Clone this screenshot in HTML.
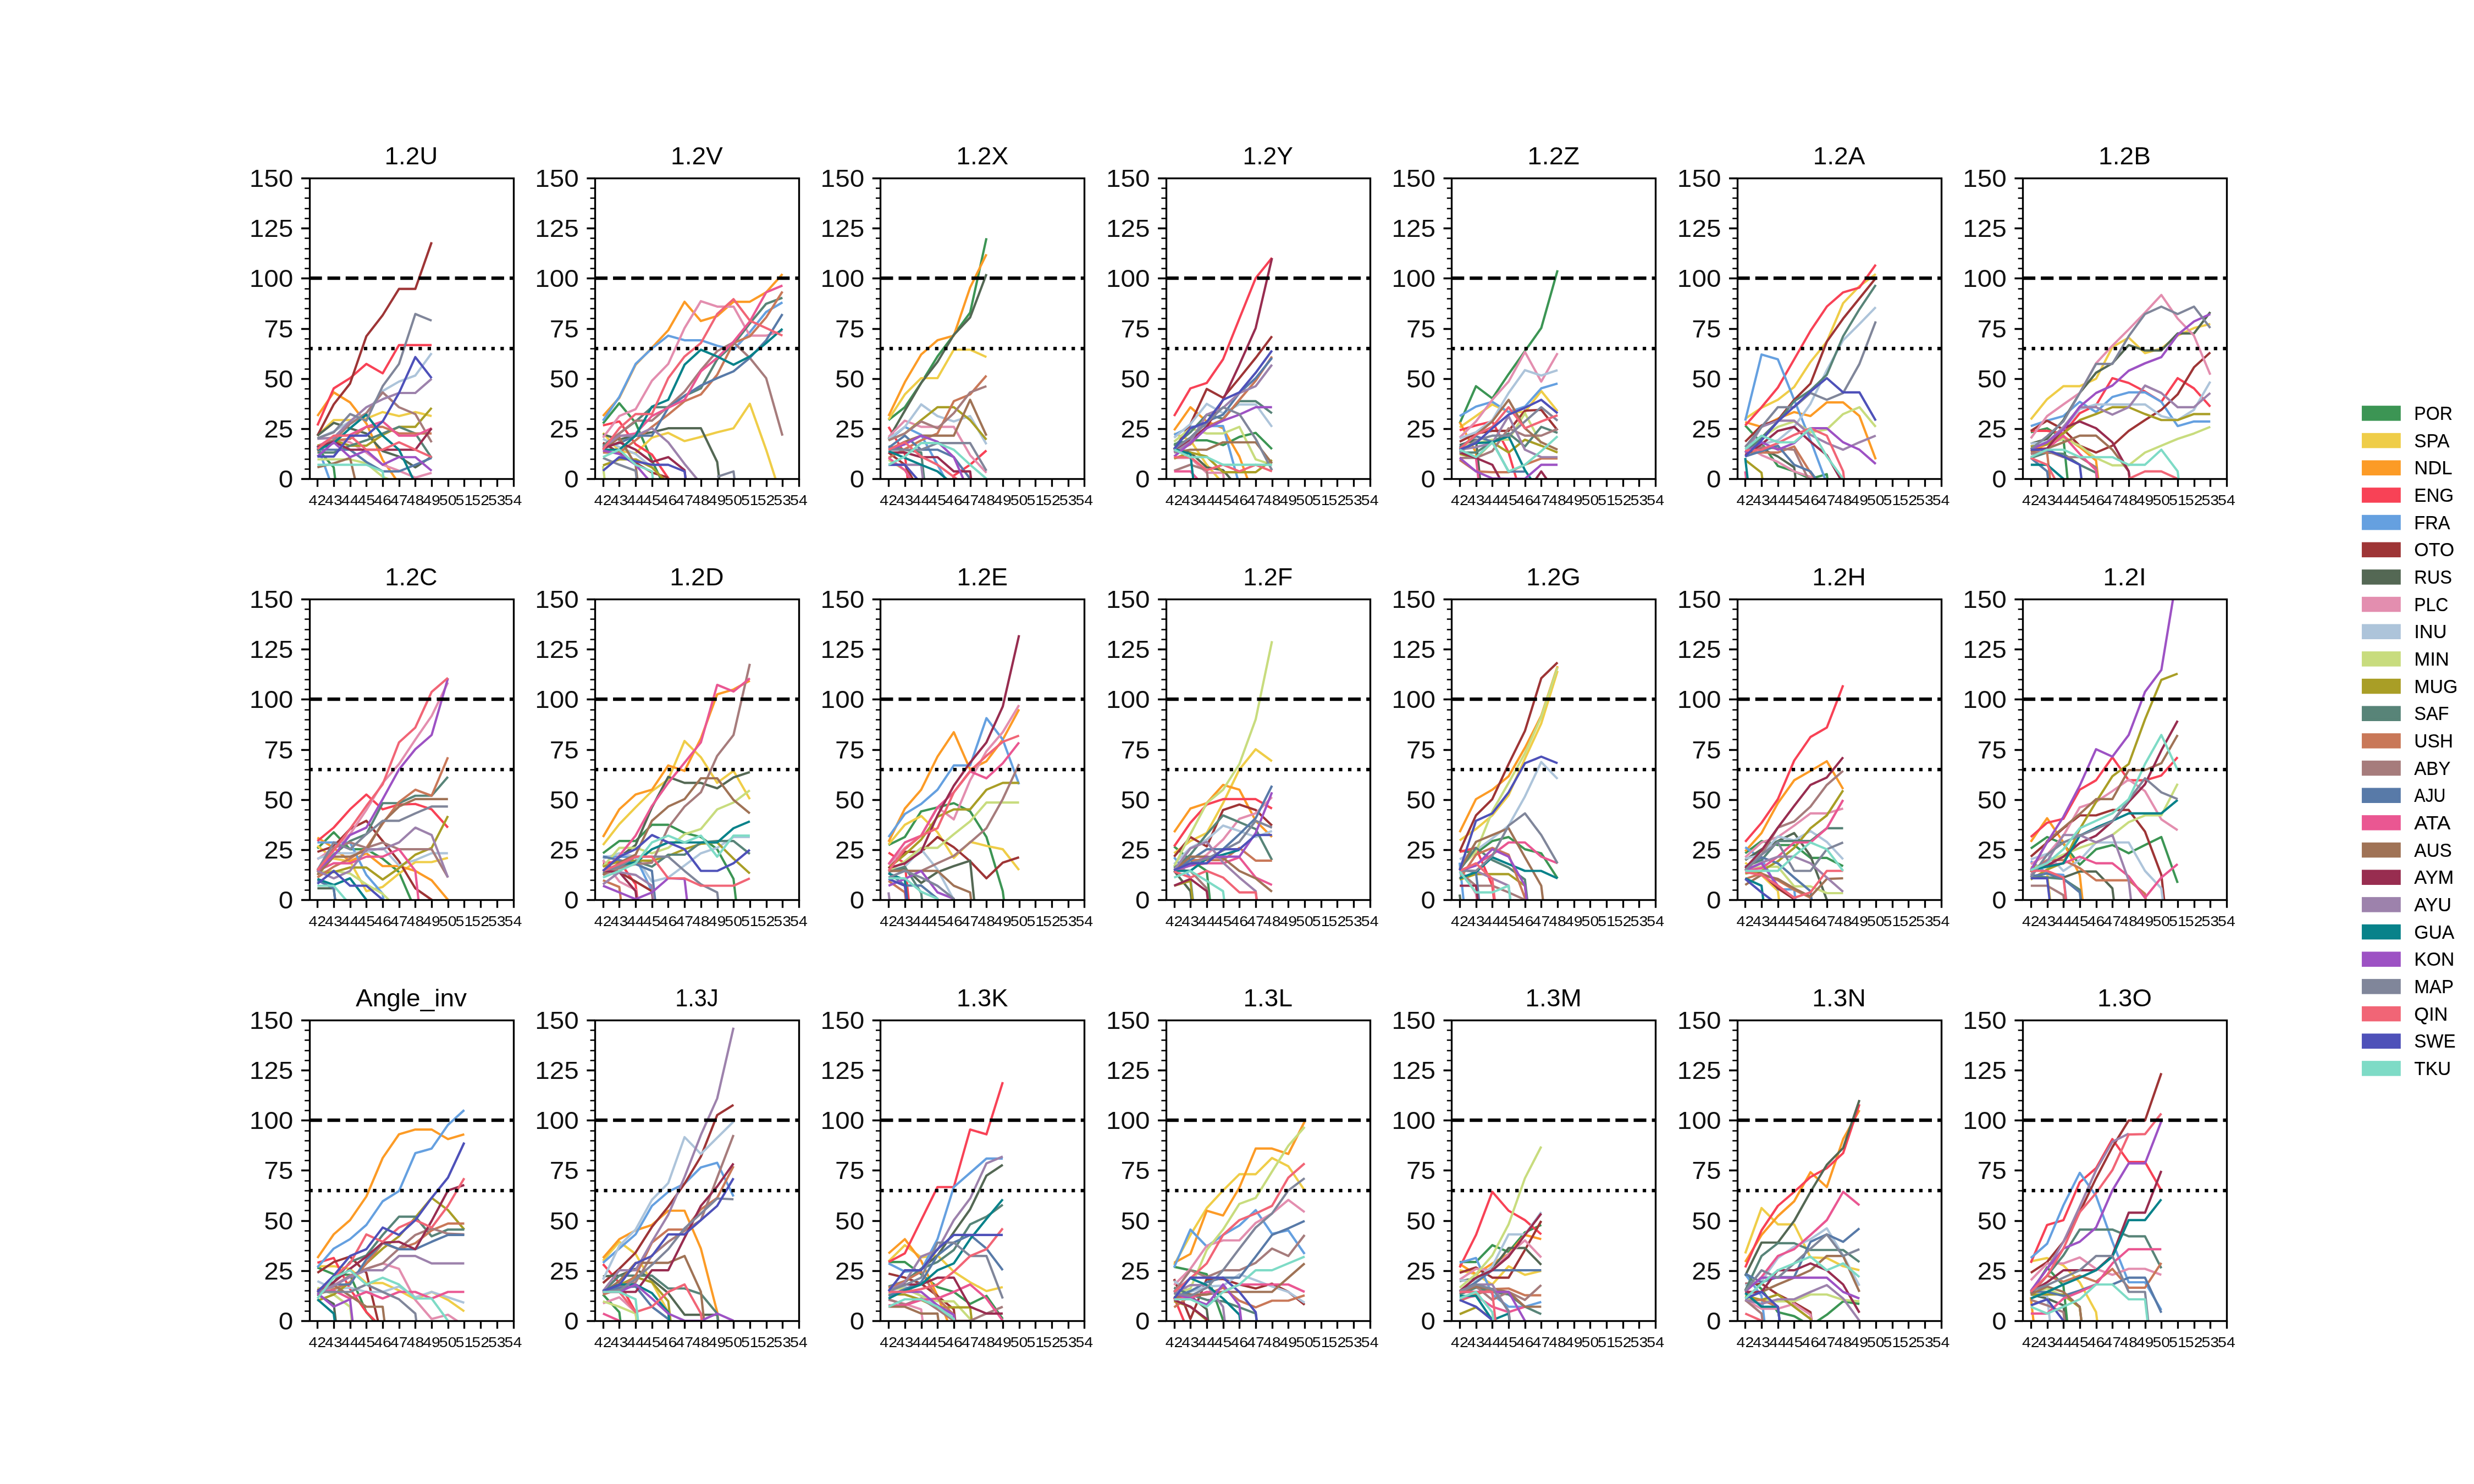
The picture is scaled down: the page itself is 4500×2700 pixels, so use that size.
<!DOCTYPE html><html><head><meta charset="utf-8"><style>html,body{margin:0;padding:0;background:#fff;overflow:hidden}svg{display:block}text{font-family:"Liberation Sans",sans-serif;fill:#000}.yl{fill:#111}.xl{fill:#0b0b0b}.tt{fill:#060606}.lg{stroke:#000;stroke-width:0.2px}</style></head><body>
<svg style="will-change:transform" width="4500" height="2700" viewBox="0 0 4500 2700">
<rect width="4500" height="2700" fill="#fff"/>
<defs><clipPath id="c0"><rect x="562.5" y="324" width="371.01" height="547.11"/></clipPath><clipPath id="c1"><rect x="1081.91" y="324" width="371.01" height="547.11"/></clipPath><clipPath id="c2"><rect x="1601.33" y="324" width="371.01" height="547.11"/></clipPath><clipPath id="c3"><rect x="2120.74" y="324" width="371.01" height="547.11"/></clipPath><clipPath id="c4"><rect x="2640.16" y="324" width="371.01" height="547.11"/></clipPath><clipPath id="c5"><rect x="3159.57" y="324" width="371.01" height="547.11"/></clipPath><clipPath id="c6"><rect x="3678.99" y="324" width="371.01" height="547.11"/></clipPath><clipPath id="c7"><rect x="562.5" y="1089.95" width="371.01" height="547.11"/></clipPath><clipPath id="c8"><rect x="1081.91" y="1089.95" width="371.01" height="547.11"/></clipPath><clipPath id="c9"><rect x="1601.33" y="1089.95" width="371.01" height="547.11"/></clipPath><clipPath id="c10"><rect x="2120.74" y="1089.95" width="371.01" height="547.11"/></clipPath><clipPath id="c11"><rect x="2640.16" y="1089.95" width="371.01" height="547.11"/></clipPath><clipPath id="c12"><rect x="3159.57" y="1089.95" width="371.01" height="547.11"/></clipPath><clipPath id="c13"><rect x="3678.99" y="1089.95" width="371.01" height="547.11"/></clipPath><clipPath id="c14"><rect x="562.5" y="1855.89" width="371.01" height="547.11"/></clipPath><clipPath id="c15"><rect x="1081.91" y="1855.89" width="371.01" height="547.11"/></clipPath><clipPath id="c16"><rect x="1601.33" y="1855.89" width="371.01" height="547.11"/></clipPath><clipPath id="c17"><rect x="2120.74" y="1855.89" width="371.01" height="547.11"/></clipPath><clipPath id="c18"><rect x="2640.16" y="1855.89" width="371.01" height="547.11"/></clipPath><clipPath id="c19"><rect x="3159.57" y="1855.89" width="371.01" height="547.11"/></clipPath><clipPath id="c20"><rect x="3678.99" y="1855.89" width="371.01" height="547.11"/></clipPath></defs>
<g clip-path="url(#c0)" fill="none" stroke-width="4.17" stroke-linejoin="round" stroke-linecap="butt">
<path d="M577.34 816.03 L607.02 850.32 L636.7 1089.95" stroke="#3C9554"/>
<path d="M577.34 792.69 L607.02 764.24 L636.7 764.24 L666.38 761.68 L696.06 749.65 L725.74 756.94 L755.43 749.65 L785.11 756.94" stroke="#EFCD48"/>
<path d="M577.34 756.94 L607.02 713.9 L636.7 732.14 L666.38 770.44 L696.06 836.82 L725.74 879.86 L755.43 879.86 L785.11 879.86" stroke="#FC9B26"/>
<path d="M577.34 774.09 L607.02 706.61 L636.7 688.01 L666.38 662.11 L696.06 679.25 L725.74 627.83 L755.43 627.83 L785.11 627.83" stroke="#F84256"/>
<path d="M577.34 810.92 L607.02 893.35" stroke="#65A0E0"/>
<path d="M577.34 792.69 L607.02 735.79 L636.7 697.86 L666.38 611.78 L696.06 573.48 L725.74 525.7 L755.43 525.7 L785.11 440.72" stroke="#9E3536"/>
<path d="M577.34 792.69 L607.02 769.34 L636.7 779.19 L666.38 788.67 L696.06 820.77 L725.74 830.62 L755.43 850.32 L785.11 830.62" stroke="#546854"/>
<path d="M577.34 797.43 L607.02 797.43 L636.7 804.72 L666.38 823.32 L696.06 845.57 L725.74 856.52 L755.43 868.92 L785.11 860.16" stroke="#E38EAF"/>
<path d="M577.34 797.43 L607.02 785.03 L636.7 766.79 L666.38 751.84 L696.06 711.35 L725.74 694.21 L755.43 683.27 L785.11 642.42" stroke="#ADC4DA"/>
<path d="M577.34 835.73 L607.02 835.73 L636.7 835.73 L666.38 843.02 L696.06 867.46 L725.74 879.86" stroke="#C8DC7E"/>
<path d="M577.34 810.92 L607.02 801.08 L636.7 810.92 L666.38 810.92 L696.06 791.23 L725.74 776.64 L755.43 776.64 L785.11 741.99" stroke="#A99E26"/>
<path d="M577.34 823.32 L607.02 823.32 L636.7 810.92 L666.38 801.08 L696.06 788.67 L725.74 776.64 L755.43 788.67 L785.11 833.17" stroke="#588478"/>
<path d="M577.34 820.77 L607.02 801.08 L636.7 798.52 L666.38 776.64 L696.06 776.64 L725.74 788.67 L755.43 788.67 L785.11 788.67" stroke="#C97858"/>
<path d="M577.34 813.48 L607.02 801.08 L636.7 771.53 L666.38 751.84 L696.06 713.9 L725.74 740.89 L755.43 753.3 L785.11 804.72" stroke="#A67C7C"/>
<path d="M577.34 818.22 L607.02 818.22 L636.7 818.22 L666.38 840.47 L696.06 857.61 L725.74 857.61 L755.43 845.57 L785.11 833.17" stroke="#587AA8"/>
<path d="M577.34 813.48 L607.02 793.78 L636.7 791.23 L666.38 776.64 L696.06 766.79 L725.74 792.69 L755.43 792.69 L785.11 779.19" stroke="#EA5792"/>
<path d="M577.34 850.32 L607.02 843.02 L636.7 833.17 L666.38 959.37" stroke="#A07356"/>
<path d="M577.34 813.48 L607.02 803.63 L636.7 818.22 L666.38 818.22 L696.06 818.22 L725.74 818.22 L755.43 818.22 L785.11 779.19" stroke="#982D50"/>
<path d="M577.34 798.52 L607.02 796.33 L636.7 766.79 L666.38 740.89 L696.06 726.3 L725.74 715 L755.43 715 L785.11 689.1" stroke="#9D82AC"/>
<path d="M577.34 818.22 L607.02 806.18 L636.7 779.19 L666.38 754.39 L696.06 792.69 L725.74 818.22 L755.43 879.86 L785.11 879.86" stroke="#08828A"/>
<path d="M577.34 830.62 L607.02 804.72 L636.7 831.71 L666.38 819.68 L696.06 845.57 L725.74 831.71 L755.43 831.71 L785.11 856.52" stroke="#9D52C4"/>
<path d="M577.34 797.43 L607.02 786.49 L636.7 753.3 L666.38 765.33 L696.06 702.6 L725.74 662.11 L755.43 571.29 L785.11 583.33" stroke="#80869A"/>
<path d="M577.34 817.12 L607.02 792.69 L636.7 792.69 L666.38 818.22 L696.06 818.22 L725.74 804.72 L755.43 818.22 L785.11 831.71" stroke="#F16576"/>
<path d="M577.34 830.62 L607.02 830.62 L636.7 792.69 L666.38 792.69 L696.06 766.79 L725.74 715 L755.43 649.71 L785.11 688.01" stroke="#4E51B9"/>
<path d="M577.34 845.57 L607.02 845.57 L636.7 845.57 L666.38 845.57 L696.06 857.61 L725.74 1089.95" stroke="#7EDBC6"/>
<path d="M562.5 506 H933.51" stroke="#000" stroke-width="6.25" stroke-dasharray="23.13 10"/>
<path d="M562.5 634 H933.51" stroke="#000" stroke-width="6.25" stroke-dasharray="6.25 10.31"/>
</g>
<rect x="563.5" y="324.5" width="371" height="547" fill="none" stroke="#000" stroke-width="3.33" stroke-linejoin="miter"/>
<path d="M547.92 871.5 H562.5 M547.92 780.5 H562.5 M547.92 689.5 H562.5 M547.92 598.5 H562.5 M547.92 506.5 H562.5 M547.92 415.5 H562.5 M547.92 324.5 H562.5" stroke="#000" stroke-width="3.33"/>
<path d="M554.17 853.5 H562.5 M554.17 835.5 H562.5 M554.17 816.5 H562.5 M554.17 798.5 H562.5 M554.17 762.5 H562.5 M554.17 743.5 H562.5 M554.17 725.5 H562.5 M554.17 707.5 H562.5 M554.17 671.5 H562.5 M554.17 652.5 H562.5 M554.17 634.5 H562.5 M554.17 616.5 H562.5 M554.17 579.5 H562.5 M554.17 561.5 H562.5 M554.17 543.5 H562.5 M554.17 525.5 H562.5 M554.17 488.5 H562.5 M554.17 470.5 H562.5 M554.17 452.5 H562.5 M554.17 433.5 H562.5 M554.17 397.5 H562.5 M554.17 379.5 H562.5 M554.17 360.5 H562.5 M554.17 342.5 H562.5" stroke="#000" stroke-width="2.5"/>
<path d="M577.5 871.11 V885.69 M607.5 871.11 V885.69 M637.5 871.11 V885.69 M666.5 871.11 V885.69 M696.5 871.11 V885.69 M726.5 871.11 V885.69 M755.5 871.11 V885.69 M785.5 871.11 V885.69 M815.5 871.11 V885.69 M844.5 871.11 V885.69 M874.5 871.11 V885.69 M904.5 871.11 V885.69 M934.5 871.11 V885.69" stroke="#000" stroke-width="3.33"/>
<text class="yl" x="533.33" y="887.11" font-size="44.15" text-anchor="end" textLength="26.51" lengthAdjust="spacingAndGlyphs">0</text>
<text class="yl" x="533.33" y="795.92" font-size="44.15" text-anchor="end" textLength="53.02" lengthAdjust="spacingAndGlyphs">25</text>
<text class="yl" x="533.33" y="704.74" font-size="44.15" text-anchor="end" textLength="53.02" lengthAdjust="spacingAndGlyphs">50</text>
<text class="yl" x="533.33" y="613.55" font-size="44.15" text-anchor="end" textLength="53.02" lengthAdjust="spacingAndGlyphs">75</text>
<text class="yl" x="533.33" y="522.37" font-size="44.15" text-anchor="end" textLength="79.53" lengthAdjust="spacingAndGlyphs">100</text>
<text class="yl" x="533.33" y="431.18" font-size="44.15" text-anchor="end" textLength="79.53" lengthAdjust="spacingAndGlyphs">125</text>
<text class="yl" x="533.33" y="340" font-size="44.15" text-anchor="end" textLength="79.53" lengthAdjust="spacingAndGlyphs">150</text>
<text class="xl" x="577.34" y="919.11" font-size="26.49" text-anchor="middle" textLength="31.81" lengthAdjust="spacingAndGlyphs">42</text>
<text class="xl" x="607.02" y="919.11" font-size="26.49" text-anchor="middle" textLength="31.81" lengthAdjust="spacingAndGlyphs">43</text>
<text class="xl" x="636.7" y="919.11" font-size="26.49" text-anchor="middle" textLength="31.81" lengthAdjust="spacingAndGlyphs">44</text>
<text class="xl" x="666.38" y="919.11" font-size="26.49" text-anchor="middle" textLength="31.81" lengthAdjust="spacingAndGlyphs">45</text>
<text class="xl" x="696.06" y="919.11" font-size="26.49" text-anchor="middle" textLength="31.81" lengthAdjust="spacingAndGlyphs">46</text>
<text class="xl" x="725.74" y="919.11" font-size="26.49" text-anchor="middle" textLength="31.81" lengthAdjust="spacingAndGlyphs">47</text>
<text class="xl" x="755.43" y="919.11" font-size="26.49" text-anchor="middle" textLength="31.81" lengthAdjust="spacingAndGlyphs">48</text>
<text class="xl" x="785.11" y="919.11" font-size="26.49" text-anchor="middle" textLength="31.81" lengthAdjust="spacingAndGlyphs">49</text>
<text class="xl" x="814.79" y="919.11" font-size="26.49" text-anchor="middle" textLength="31.81" lengthAdjust="spacingAndGlyphs">50</text>
<text class="xl" x="844.47" y="919.11" font-size="26.49" text-anchor="middle" textLength="31.81" lengthAdjust="spacingAndGlyphs">51</text>
<text class="xl" x="874.15" y="919.11" font-size="26.49" text-anchor="middle" textLength="31.81" lengthAdjust="spacingAndGlyphs">52</text>
<text class="xl" x="903.83" y="919.11" font-size="26.49" text-anchor="middle" textLength="31.81" lengthAdjust="spacingAndGlyphs">53</text>
<text class="xl" x="933.51" y="919.11" font-size="26.49" text-anchor="middle" textLength="31.81" lengthAdjust="spacingAndGlyphs">54</text>
<text class="tt" x="748.01" y="299" font-size="44.15" text-anchor="middle" textLength="96.76" lengthAdjust="spacingAndGlyphs">1.2U</text>
<g clip-path="url(#c1)" fill="none" stroke-width="4.17" stroke-linejoin="round" stroke-linecap="butt">
<path d="M1096.76 770.44 L1126.44 733.6 L1156.12 769.34 L1185.8 837.91 L1215.48 899.55" stroke="#3C9554"/>
<path d="M1096.76 787.58 L1126.44 820.77 L1156.12 824.42 L1185.8 796.33 L1215.48 787.58 L1245.16 802.53 L1274.84 794.88 L1304.52 786.49 L1334.2 779.19 L1363.88 734.69 L1393.56 818.22 L1423.24 910.5" stroke="#EFCD48"/>
<path d="M1096.76 756.94 L1126.44 723.75 L1156.12 663.57 L1185.8 632.57 L1215.48 600.84 L1245.16 549.04 L1274.84 584.06 L1304.52 574.94 L1334.2 549.04 L1363.88 549.04 L1393.56 531.9 L1423.24 498.71" stroke="#FC9B26"/>
<path d="M1096.76 774.09 L1126.44 766.79 L1156.12 808.37 L1185.8 826.97 L1215.48 870.01 L1245.16 899.55" stroke="#F84256"/>
<path d="M1096.76 765.33 L1126.44 722.29 L1156.12 662.11 L1185.8 634.03 L1215.48 610.68 L1245.16 619.07 L1274.84 619.07 L1304.52 628.92 L1334.2 636.21 L1363.88 604.48 L1393.56 567.64 L1423.24 550.14" stroke="#65A0E0"/>
<path d="M1096.76 805.45 L1126.44 823.69 L1156.12 841.93 L1185.8 859.8 L1215.48 868.92" stroke="#9E3536"/>
<path d="M1096.76 790.13 L1126.44 799.98 L1156.12 791.23 L1185.8 786.49 L1215.48 779.19 L1245.16 779.19 L1274.84 779.19 L1304.52 840.47 L1334.2 1089.95" stroke="#546854"/>
<path d="M1096.76 796.33 L1126.44 756.94 L1156.12 744.54 L1185.8 692.75 L1215.48 662.11 L1245.16 596.82 L1274.84 547.95 L1304.52 557.8 L1334.2 557.8 L1363.88 610.68 L1393.56 610.68 L1423.24 601.93" stroke="#E38EAF"/>
<path d="M1096.76 798.52 L1126.44 813.48 L1156.12 825.88 L1185.8 850.32 L1215.48 879.86" stroke="#ADC4DA"/>
<path d="M1096.76 847.76 L1126.44 1089.95" stroke="#C8DC7E"/>
<path d="M1096.76 846.67 L1126.44 835.73 L1156.12 835.73 L1185.8 850.32 L1215.48 879.86" stroke="#A99E26"/>
<path d="M1096.76 810.92 L1126.44 788.67 L1156.12 766.79 L1185.8 740.89 L1215.48 740.89 L1245.16 720.1 L1274.84 706.61 L1304.52 653.72 L1334.2 626.37 L1363.88 588.43 L1393.56 552.69 L1423.24 541.75" stroke="#588478"/>
<path d="M1096.76 823.32 L1126.44 823.32 L1156.12 801.08 L1185.8 776.64 L1215.48 754.39 L1245.16 729.95 L1274.84 717.55 L1304.52 681.81 L1334.2 624.18 L1363.88 611.78 L1393.56 577.49 L1423.24 530.44" stroke="#C97858"/>
<path d="M1096.76 813.48 L1126.44 788.67 L1156.12 765.33 L1185.8 765.33 L1215.48 739.8 L1245.16 712.44 L1274.84 673.42 L1304.52 638.77 L1334.2 622.72 L1363.88 651.17 L1393.56 688.01 L1423.24 792.69" stroke="#A67C7C"/>
<path d="M1096.76 813.48 L1126.44 806.18 L1156.12 792.69 L1185.8 792.69 L1215.48 741.99 L1245.16 720.1 L1274.84 701.5 L1304.52 688.01 L1334.2 675.61 L1363.88 651.17 L1393.56 619.07 L1423.24 571.29" stroke="#587AA8"/>
<path d="M1096.76 818.22 L1126.44 793.78 L1156.12 788.67 L1185.8 756.94 L1215.48 741.99 L1245.16 727.4 L1274.84 675.61 L1304.52 651.17 L1334.2 621.63 L1363.88 584.79 L1393.56 531.9 L1423.24 519.5" stroke="#EA5792"/>
<path d="M1096.76 818.22 L1126.44 796.33 L1156.12 845.57 L1185.8 1089.95" stroke="#A07356"/>
<path d="M1096.76 816.39 L1126.44 804.72 L1156.12 818.22 L1185.8 840.47 L1215.48 831.71 L1245.16 855.42 L1274.84 1089.95" stroke="#982D50"/>
<path d="M1096.76 814.57 L1126.44 792.69 L1156.12 792.69 L1185.8 779.19 L1215.48 804.72 L1245.16 844.11 L1274.84 879.86" stroke="#9D82AC"/>
<path d="M1096.76 818.22 L1126.44 818.22 L1156.12 792.69 L1185.8 739.8 L1215.48 727.4 L1245.16 663.57 L1274.84 636.21 L1304.52 648.62 L1334.2 663.57 L1363.88 648.62 L1393.56 624.18 L1423.24 598.28" stroke="#08828A"/>
<path d="M1096.76 819.68 L1126.44 825.88 L1156.12 845.57 L1185.8 879.86" stroke="#9D52C4"/>
<path d="M1096.76 833.17 L1126.44 845.57 L1156.12 856.52 L1185.8 1089.95" stroke="#80869A"/>
<path d="M1304.52 867.46 L1334.2 857.61 L1363.88 1089.95" stroke="#80869A"/>
<path d="M1096.76 818.22 L1126.44 779.19 L1156.12 753.3 L1185.8 753.3 L1215.48 688.01 L1245.16 648.62 L1274.84 624.18 L1304.52 571.29 L1334.2 544.3 L1363.88 583.33 L1393.56 596.82 L1423.24 610.68" stroke="#F16576"/>
<path d="M1096.76 856.52 L1126.44 831.71 L1156.12 839.37 L1185.8 845.57 L1215.48 845.57 L1245.16 857.61 L1274.84 1089.95" stroke="#4E51B9"/>
<path d="M1096.76 831.71 L1126.44 818.22 L1156.12 845.57 L1185.8 857.61 L1215.48 1089.95" stroke="#7EDBC6"/>
<path d="M1081.91 506 H1452.93" stroke="#000" stroke-width="6.25" stroke-dasharray="23.13 10"/>
<path d="M1081.91 634 H1452.93" stroke="#000" stroke-width="6.25" stroke-dasharray="6.25 10.31"/>
</g>
<rect x="1082.5" y="324.5" width="371" height="547" fill="none" stroke="#000" stroke-width="3.33" stroke-linejoin="miter"/>
<path d="M1067.33 871.5 H1081.91 M1067.33 780.5 H1081.91 M1067.33 689.5 H1081.91 M1067.33 598.5 H1081.91 M1067.33 506.5 H1081.91 M1067.33 415.5 H1081.91 M1067.33 324.5 H1081.91" stroke="#000" stroke-width="3.33"/>
<path d="M1073.58 853.5 H1081.91 M1073.58 835.5 H1081.91 M1073.58 816.5 H1081.91 M1073.58 798.5 H1081.91 M1073.58 762.5 H1081.91 M1073.58 743.5 H1081.91 M1073.58 725.5 H1081.91 M1073.58 707.5 H1081.91 M1073.58 671.5 H1081.91 M1073.58 652.5 H1081.91 M1073.58 634.5 H1081.91 M1073.58 616.5 H1081.91 M1073.58 579.5 H1081.91 M1073.58 561.5 H1081.91 M1073.58 543.5 H1081.91 M1073.58 525.5 H1081.91 M1073.58 488.5 H1081.91 M1073.58 470.5 H1081.91 M1073.58 452.5 H1081.91 M1073.58 433.5 H1081.91 M1073.58 397.5 H1081.91 M1073.58 379.5 H1081.91 M1073.58 360.5 H1081.91 M1073.58 342.5 H1081.91" stroke="#000" stroke-width="2.5"/>
<path d="M1097.5 871.11 V885.69 M1126.5 871.11 V885.69 M1156.5 871.11 V885.69 M1186.5 871.11 V885.69 M1215.5 871.11 V885.69 M1245.5 871.11 V885.69 M1275.5 871.11 V885.69 M1305.5 871.11 V885.69 M1334.5 871.11 V885.69 M1364.5 871.11 V885.69 M1394.5 871.11 V885.69 M1423.5 871.11 V885.69 M1453.5 871.11 V885.69" stroke="#000" stroke-width="3.33"/>
<text class="yl" x="1052.75" y="887.11" font-size="44.15" text-anchor="end" textLength="26.51" lengthAdjust="spacingAndGlyphs">0</text>
<text class="yl" x="1052.75" y="795.92" font-size="44.15" text-anchor="end" textLength="53.02" lengthAdjust="spacingAndGlyphs">25</text>
<text class="yl" x="1052.75" y="704.74" font-size="44.15" text-anchor="end" textLength="53.02" lengthAdjust="spacingAndGlyphs">50</text>
<text class="yl" x="1052.75" y="613.55" font-size="44.15" text-anchor="end" textLength="53.02" lengthAdjust="spacingAndGlyphs">75</text>
<text class="yl" x="1052.75" y="522.37" font-size="44.15" text-anchor="end" textLength="79.53" lengthAdjust="spacingAndGlyphs">100</text>
<text class="yl" x="1052.75" y="431.18" font-size="44.15" text-anchor="end" textLength="79.53" lengthAdjust="spacingAndGlyphs">125</text>
<text class="yl" x="1052.75" y="340" font-size="44.15" text-anchor="end" textLength="79.53" lengthAdjust="spacingAndGlyphs">150</text>
<text class="xl" x="1096.76" y="919.11" font-size="26.49" text-anchor="middle" textLength="31.81" lengthAdjust="spacingAndGlyphs">42</text>
<text class="xl" x="1126.44" y="919.11" font-size="26.49" text-anchor="middle" textLength="31.81" lengthAdjust="spacingAndGlyphs">43</text>
<text class="xl" x="1156.12" y="919.11" font-size="26.49" text-anchor="middle" textLength="31.81" lengthAdjust="spacingAndGlyphs">44</text>
<text class="xl" x="1185.8" y="919.11" font-size="26.49" text-anchor="middle" textLength="31.81" lengthAdjust="spacingAndGlyphs">45</text>
<text class="xl" x="1215.48" y="919.11" font-size="26.49" text-anchor="middle" textLength="31.81" lengthAdjust="spacingAndGlyphs">46</text>
<text class="xl" x="1245.16" y="919.11" font-size="26.49" text-anchor="middle" textLength="31.81" lengthAdjust="spacingAndGlyphs">47</text>
<text class="xl" x="1274.84" y="919.11" font-size="26.49" text-anchor="middle" textLength="31.81" lengthAdjust="spacingAndGlyphs">48</text>
<text class="xl" x="1304.52" y="919.11" font-size="26.49" text-anchor="middle" textLength="31.81" lengthAdjust="spacingAndGlyphs">49</text>
<text class="xl" x="1334.2" y="919.11" font-size="26.49" text-anchor="middle" textLength="31.81" lengthAdjust="spacingAndGlyphs">50</text>
<text class="xl" x="1363.88" y="919.11" font-size="26.49" text-anchor="middle" textLength="31.81" lengthAdjust="spacingAndGlyphs">51</text>
<text class="xl" x="1393.56" y="919.11" font-size="26.49" text-anchor="middle" textLength="31.81" lengthAdjust="spacingAndGlyphs">52</text>
<text class="xl" x="1423.24" y="919.11" font-size="26.49" text-anchor="middle" textLength="31.81" lengthAdjust="spacingAndGlyphs">53</text>
<text class="xl" x="1452.93" y="919.11" font-size="26.49" text-anchor="middle" textLength="31.81" lengthAdjust="spacingAndGlyphs">54</text>
<text class="tt" x="1267.42" y="299" font-size="44.15" text-anchor="middle" textLength="94.77" lengthAdjust="spacingAndGlyphs">1.2V</text>
<g clip-path="url(#c2)" fill="none" stroke-width="4.17" stroke-linejoin="round" stroke-linecap="butt">
<path d="M1616.17 764.24 L1645.85 740.89 L1675.53 696.76 L1705.21 648.62 L1734.89 609.22 L1764.57 568.74 L1794.26 433.42" stroke="#3C9554"/>
<path d="M1616.17 763.14 L1645.85 717.55 L1675.53 688.01 L1705.21 688.01 L1734.89 636.21 L1764.57 636.21 L1794.26 649.71" stroke="#EFCD48"/>
<path d="M1616.17 756.94 L1645.85 695.3 L1675.53 644.97 L1705.21 619.07 L1734.89 610.68 L1764.57 523.15 L1794.26 462.6" stroke="#FC9B26"/>
<path d="M1616.17 776.64 L1645.85 825.88 L1675.53 1089.95 L1705.21 1089.95 L1734.89 865.27 L1764.57 845.57 L1794.26 819.68" stroke="#F84256"/>
<path d="M1616.17 801.08 L1645.85 776.64 L1675.53 791.23 L1705.21 845.57 L1734.89 899.55" stroke="#65A0E0"/>
<path d="M1616.17 823.32 L1645.85 845.57 L1675.53 899.55" stroke="#9E3536"/>
<path d="M1616.17 798.52 L1645.85 747.09 L1675.53 696.76 L1705.21 658.46 L1734.89 609.22 L1764.57 577.49 L1794.26 498.71" stroke="#546854"/>
<path d="M1616.17 794.88 L1645.85 765.33 L1675.53 776.64 L1705.21 776.64 L1734.89 776.64 L1764.57 828.07 L1794.26 860.16" stroke="#E38EAF"/>
<path d="M1616.17 798.52 L1645.85 776.64 L1675.53 735.79 L1705.21 756.94 L1734.89 766.79 L1764.57 756.94 L1794.26 808.37" stroke="#ADC4DA"/>
<path d="M1616.17 836.82 L1645.85 855.42 L1675.53 899.55" stroke="#C8DC7E"/>
<path d="M1616.17 801.08 L1645.85 788.67 L1675.53 764.24 L1705.21 740.89 L1734.89 740.89 L1764.57 764.24 L1794.26 799.98" stroke="#A99E26"/>
<path d="M1616.17 812.38 L1645.85 818.22 L1675.53 823.32 L1705.21 1089.95" stroke="#588478"/>
<path d="M1616.17 833.17 L1645.85 817.12 L1675.53 801.08 L1705.21 788.67 L1734.89 729.95 L1764.57 717.55 L1794.26 683.27" stroke="#C97858"/>
<path d="M1616.17 801.08 L1645.85 788.67 L1675.53 766.79 L1705.21 779.19 L1734.89 751.84 L1764.57 713.9 L1794.26 702.6" stroke="#A67C7C"/>
<path d="M1616.17 814.57 L1645.85 792.69 L1675.53 818.22 L1705.21 818.22 L1734.89 831.71 L1764.57 871.11 L1794.26 899.55" stroke="#587AA8"/>
<path d="M1616.17 833.17 L1645.85 855.42 L1675.53 899.55" stroke="#EA5792"/>
<path d="M1616.17 818.22 L1645.85 803.63 L1675.53 792.69 L1705.21 792.69 L1734.89 792.69 L1764.57 727.4 L1794.26 792.69" stroke="#A07356"/>
<path d="M1616.17 823.32 L1645.85 823.32 L1675.53 831.71 L1705.21 831.71 L1734.89 857.61 L1764.57 857.61 L1794.26 1089.95" stroke="#982D50"/>
<path d="M1616.17 845.57 L1645.85 845.57 L1675.53 845.57 L1705.21 1089.95" stroke="#9D82AC"/>
<path d="M1616.17 820.77 L1645.85 833.17 L1675.53 845.57 L1705.21 857.61 L1734.89 882.41" stroke="#08828A"/>
<path d="M1616.17 818.22 L1645.85 808.37 L1675.53 792.69 L1705.21 803.63 L1734.89 831.71 L1764.57 899.55" stroke="#9D52C4"/>
<path d="M1616.17 818.22 L1645.85 818.22 L1675.53 818.22 L1705.21 806.18 L1734.89 806.18 L1764.57 806.18 L1794.26 856.52" stroke="#80869A"/>
<path d="M1616.17 818.22 L1645.85 804.72 L1675.53 830.62 L1705.21 845.57 L1734.89 867.46 L1764.57 889.71" stroke="#F16576"/>
<path d="M1616.17 845.57 L1645.85 845.57 L1675.53 879.86" stroke="#4E51B9"/>
<path d="M1616.17 845.57 L1645.85 830.62 L1675.53 806.18 L1705.21 806.18 L1734.89 818.22 L1764.57 845.57 L1794.26 871.11" stroke="#7EDBC6"/>
<path d="M1601.33 506 H1972.34" stroke="#000" stroke-width="6.25" stroke-dasharray="23.13 10"/>
<path d="M1601.33 634 H1972.34" stroke="#000" stroke-width="6.25" stroke-dasharray="6.25 10.31"/>
</g>
<rect x="1601.5" y="324.5" width="371" height="547" fill="none" stroke="#000" stroke-width="3.33" stroke-linejoin="miter"/>
<path d="M1586.75 871.5 H1601.33 M1586.75 780.5 H1601.33 M1586.75 689.5 H1601.33 M1586.75 598.5 H1601.33 M1586.75 506.5 H1601.33 M1586.75 415.5 H1601.33 M1586.75 324.5 H1601.33" stroke="#000" stroke-width="3.33"/>
<path d="M1593 853.5 H1601.33 M1593 835.5 H1601.33 M1593 816.5 H1601.33 M1593 798.5 H1601.33 M1593 762.5 H1601.33 M1593 743.5 H1601.33 M1593 725.5 H1601.33 M1593 707.5 H1601.33 M1593 671.5 H1601.33 M1593 652.5 H1601.33 M1593 634.5 H1601.33 M1593 616.5 H1601.33 M1593 579.5 H1601.33 M1593 561.5 H1601.33 M1593 543.5 H1601.33 M1593 525.5 H1601.33 M1593 488.5 H1601.33 M1593 470.5 H1601.33 M1593 452.5 H1601.33 M1593 433.5 H1601.33 M1593 397.5 H1601.33 M1593 379.5 H1601.33 M1593 360.5 H1601.33 M1593 342.5 H1601.33" stroke="#000" stroke-width="2.5"/>
<path d="M1616.5 871.11 V885.69 M1646.5 871.11 V885.69 M1676.5 871.11 V885.69 M1705.5 871.11 V885.69 M1735.5 871.11 V885.69 M1765.5 871.11 V885.69 M1794.5 871.11 V885.69 M1824.5 871.11 V885.69 M1854.5 871.11 V885.69 M1883.5 871.11 V885.69 M1913.5 871.11 V885.69 M1943.5 871.11 V885.69 M1972.5 871.11 V885.69" stroke="#000" stroke-width="3.33"/>
<text class="yl" x="1572.16" y="887.11" font-size="44.15" text-anchor="end" textLength="26.51" lengthAdjust="spacingAndGlyphs">0</text>
<text class="yl" x="1572.16" y="795.92" font-size="44.15" text-anchor="end" textLength="53.02" lengthAdjust="spacingAndGlyphs">25</text>
<text class="yl" x="1572.16" y="704.74" font-size="44.15" text-anchor="end" textLength="53.02" lengthAdjust="spacingAndGlyphs">50</text>
<text class="yl" x="1572.16" y="613.55" font-size="44.15" text-anchor="end" textLength="53.02" lengthAdjust="spacingAndGlyphs">75</text>
<text class="yl" x="1572.16" y="522.37" font-size="44.15" text-anchor="end" textLength="79.53" lengthAdjust="spacingAndGlyphs">100</text>
<text class="yl" x="1572.16" y="431.18" font-size="44.15" text-anchor="end" textLength="79.53" lengthAdjust="spacingAndGlyphs">125</text>
<text class="yl" x="1572.16" y="340" font-size="44.15" text-anchor="end" textLength="79.53" lengthAdjust="spacingAndGlyphs">150</text>
<text class="xl" x="1616.17" y="919.11" font-size="26.49" text-anchor="middle" textLength="31.81" lengthAdjust="spacingAndGlyphs">42</text>
<text class="xl" x="1645.85" y="919.11" font-size="26.49" text-anchor="middle" textLength="31.81" lengthAdjust="spacingAndGlyphs">43</text>
<text class="xl" x="1675.53" y="919.11" font-size="26.49" text-anchor="middle" textLength="31.81" lengthAdjust="spacingAndGlyphs">44</text>
<text class="xl" x="1705.21" y="919.11" font-size="26.49" text-anchor="middle" textLength="31.81" lengthAdjust="spacingAndGlyphs">45</text>
<text class="xl" x="1734.89" y="919.11" font-size="26.49" text-anchor="middle" textLength="31.81" lengthAdjust="spacingAndGlyphs">46</text>
<text class="xl" x="1764.57" y="919.11" font-size="26.49" text-anchor="middle" textLength="31.81" lengthAdjust="spacingAndGlyphs">47</text>
<text class="xl" x="1794.26" y="919.11" font-size="26.49" text-anchor="middle" textLength="31.81" lengthAdjust="spacingAndGlyphs">48</text>
<text class="xl" x="1823.94" y="919.11" font-size="26.49" text-anchor="middle" textLength="31.81" lengthAdjust="spacingAndGlyphs">49</text>
<text class="xl" x="1853.62" y="919.11" font-size="26.49" text-anchor="middle" textLength="31.81" lengthAdjust="spacingAndGlyphs">50</text>
<text class="xl" x="1883.3" y="919.11" font-size="26.49" text-anchor="middle" textLength="31.81" lengthAdjust="spacingAndGlyphs">51</text>
<text class="xl" x="1912.98" y="919.11" font-size="26.49" text-anchor="middle" textLength="31.81" lengthAdjust="spacingAndGlyphs">52</text>
<text class="xl" x="1942.66" y="919.11" font-size="26.49" text-anchor="middle" textLength="31.81" lengthAdjust="spacingAndGlyphs">53</text>
<text class="xl" x="1972.34" y="919.11" font-size="26.49" text-anchor="middle" textLength="31.81" lengthAdjust="spacingAndGlyphs">54</text>
<text class="tt" x="1786.84" y="299" font-size="44.15" text-anchor="middle" textLength="94.81" lengthAdjust="spacingAndGlyphs">1.2X</text>
<g clip-path="url(#c3)" fill="none" stroke-width="4.17" stroke-linejoin="round" stroke-linecap="butt">
<path d="M2135.59 808.37 L2165.27 801.08 L2194.95 801.08 L2224.63 809.83 L2254.31 794.88 L2283.99 787.58 L2313.67 817.12" stroke="#3C9554"/>
<path d="M2135.59 788.67 L2165.27 801.08 L2194.95 845.57 L2224.63 879.86" stroke="#EFCD48"/>
<path d="M2135.59 782.84 L2165.27 740.89 L2194.95 766.79 L2224.63 779.19 L2254.31 830.62 L2283.99 911.96" stroke="#FC9B26"/>
<path d="M2135.59 756.94 L2165.27 706.61 L2194.95 696.76 L2224.63 653.72 L2254.31 579.68 L2283.99 506 L2313.67 469.17" stroke="#F84256"/>
<path d="M2135.59 791.23 L2165.27 776.64 L2194.95 775.18 L2224.63 775.18 L2254.31 882.41" stroke="#65A0E0"/>
<path d="M2135.59 818.22 L2165.27 771.53 L2194.95 707.7 L2224.63 723.75 L2254.31 688.01 L2283.99 651.17 L2313.67 611.78" stroke="#9E3536"/>
<path d="M2135.59 820.77 L2165.27 823.32 L2194.95 850.32 L2224.63 855.42 L2254.31 889.71" stroke="#546854"/>
<path d="M2135.59 833.17 L2165.27 833.17 L2194.95 860.16 L2224.63 860.16 L2254.31 1089.95" stroke="#E38EAF"/>
<path d="M2135.59 796.33 L2165.27 771.53 L2194.95 734.69 L2224.63 751.84 L2254.31 735.79 L2283.99 735.79 L2313.67 776.64" stroke="#ADC4DA"/>
<path d="M2135.59 803.63 L2165.27 779.19 L2194.95 788.67 L2224.63 788.67 L2254.31 776.64 L2283.99 835.73 L2313.67 845.57" stroke="#C8DC7E"/>
<path d="M2135.59 834.27 L2165.27 823.32 L2194.95 830.62 L2224.63 859.07 L2254.31 859.07 L2283.99 859.07 L2313.67 836.82" stroke="#A99E26"/>
<path d="M2135.59 810.92 L2165.27 786.49 L2194.95 754.39 L2224.63 761.68 L2254.31 729.95 L2283.99 729.95 L2313.67 751.84" stroke="#588478"/>
<path d="M2135.59 823.32 L2165.27 808.37 L2194.95 776.64 L2224.63 763.14 L2254.31 727.4 L2283.99 692.75 L2313.67 648.62" stroke="#C97858"/>
<path d="M2135.59 856.52 L2165.27 845.57 L2194.95 855.42 L2224.63 1089.95" stroke="#A67C7C"/>
<path d="M2135.59 816.03 L2165.27 796.33 L2194.95 766.79 L2224.63 754.39 L2254.31 715 L2283.99 688.01 L2313.67 651.17" stroke="#587AA8"/>
<path d="M2135.59 857.61 L2165.27 857.61 L2194.95 889.71" stroke="#EA5792"/>
<path d="M2135.59 823.32 L2165.27 818.22 L2194.95 818.22 L2224.63 804.72 L2254.31 804.72 L2283.99 804.72 L2313.67 843.02" stroke="#A07356"/>
<path d="M2135.59 820.77 L2165.27 801.08 L2194.95 776.64 L2224.63 727.4 L2254.31 663.57 L2283.99 596.82 L2313.67 469.53" stroke="#982D50"/>
<path d="M2135.59 823.32 L2165.27 803.63 L2194.95 754.39 L2224.63 741.99 L2254.31 715 L2283.99 702.6 L2313.67 663.57" stroke="#9D82AC"/>
<path d="M2135.59 817.12 L2165.27 825.88 L2194.95 1089.95" stroke="#08828A"/>
<path d="M2135.59 830.62 L2165.27 806.18 L2194.95 779.19 L2224.63 765.33 L2254.31 754.39 L2283.99 740.89 L2313.67 740.89" stroke="#9D52C4"/>
<path d="M2135.59 817.12 L2165.27 796.33 L2194.95 769.34 L2224.63 740.89 L2254.31 753.3 L2283.99 798.52 L2313.67 855.42" stroke="#80869A"/>
<path d="M2135.59 831.71 L2165.27 831.71 L2194.95 855.42 L2224.63 845.57 L2254.31 857.61 L2283.99 845.57 L2313.67 857.61" stroke="#F16576"/>
<path d="M2135.59 817.12 L2165.27 779.19 L2194.95 767.88 L2224.63 727.4 L2254.31 713.9 L2283.99 678.16 L2313.67 637.67" stroke="#4E51B9"/>
<path d="M2135.59 818.22 L2165.27 831.71 L2194.95 831.71 L2224.63 845.57 L2254.31 845.57 L2283.99 845.57 L2313.67 845.57" stroke="#7EDBC6"/>
<path d="M2120.74 506 H2491.76" stroke="#000" stroke-width="6.25" stroke-dasharray="23.13 10"/>
<path d="M2120.74 634 H2491.76" stroke="#000" stroke-width="6.25" stroke-dasharray="6.25 10.31"/>
</g>
<rect x="2121.5" y="324.5" width="371" height="547" fill="none" stroke="#000" stroke-width="3.33" stroke-linejoin="miter"/>
<path d="M2106.16 871.5 H2120.74 M2106.16 780.5 H2120.74 M2106.16 689.5 H2120.74 M2106.16 598.5 H2120.74 M2106.16 506.5 H2120.74 M2106.16 415.5 H2120.74 M2106.16 324.5 H2120.74" stroke="#000" stroke-width="3.33"/>
<path d="M2112.41 853.5 H2120.74 M2112.41 835.5 H2120.74 M2112.41 816.5 H2120.74 M2112.41 798.5 H2120.74 M2112.41 762.5 H2120.74 M2112.41 743.5 H2120.74 M2112.41 725.5 H2120.74 M2112.41 707.5 H2120.74 M2112.41 671.5 H2120.74 M2112.41 652.5 H2120.74 M2112.41 634.5 H2120.74 M2112.41 616.5 H2120.74 M2112.41 579.5 H2120.74 M2112.41 561.5 H2120.74 M2112.41 543.5 H2120.74 M2112.41 525.5 H2120.74 M2112.41 488.5 H2120.74 M2112.41 470.5 H2120.74 M2112.41 452.5 H2120.74 M2112.41 433.5 H2120.74 M2112.41 397.5 H2120.74 M2112.41 379.5 H2120.74 M2112.41 360.5 H2120.74 M2112.41 342.5 H2120.74" stroke="#000" stroke-width="2.5"/>
<path d="M2136.5 871.11 V885.69 M2165.5 871.11 V885.69 M2195.5 871.11 V885.69 M2225.5 871.11 V885.69 M2254.5 871.11 V885.69 M2284.5 871.11 V885.69 M2314.5 871.11 V885.69 M2343.5 871.11 V885.69 M2373.5 871.11 V885.69 M2403.5 871.11 V885.69 M2432.5 871.11 V885.69 M2462.5 871.11 V885.69 M2492.5 871.11 V885.69" stroke="#000" stroke-width="3.33"/>
<text class="yl" x="2091.58" y="887.11" font-size="44.15" text-anchor="end" textLength="26.51" lengthAdjust="spacingAndGlyphs">0</text>
<text class="yl" x="2091.58" y="795.92" font-size="44.15" text-anchor="end" textLength="53.02" lengthAdjust="spacingAndGlyphs">25</text>
<text class="yl" x="2091.58" y="704.74" font-size="44.15" text-anchor="end" textLength="53.02" lengthAdjust="spacingAndGlyphs">50</text>
<text class="yl" x="2091.58" y="613.55" font-size="44.15" text-anchor="end" textLength="53.02" lengthAdjust="spacingAndGlyphs">75</text>
<text class="yl" x="2091.58" y="522.37" font-size="44.15" text-anchor="end" textLength="79.53" lengthAdjust="spacingAndGlyphs">100</text>
<text class="yl" x="2091.58" y="431.18" font-size="44.15" text-anchor="end" textLength="79.53" lengthAdjust="spacingAndGlyphs">125</text>
<text class="yl" x="2091.58" y="340" font-size="44.15" text-anchor="end" textLength="79.53" lengthAdjust="spacingAndGlyphs">150</text>
<text class="xl" x="2135.59" y="919.11" font-size="26.49" text-anchor="middle" textLength="31.81" lengthAdjust="spacingAndGlyphs">42</text>
<text class="xl" x="2165.27" y="919.11" font-size="26.49" text-anchor="middle" textLength="31.81" lengthAdjust="spacingAndGlyphs">43</text>
<text class="xl" x="2194.95" y="919.11" font-size="26.49" text-anchor="middle" textLength="31.81" lengthAdjust="spacingAndGlyphs">44</text>
<text class="xl" x="2224.63" y="919.11" font-size="26.49" text-anchor="middle" textLength="31.81" lengthAdjust="spacingAndGlyphs">45</text>
<text class="xl" x="2254.31" y="919.11" font-size="26.49" text-anchor="middle" textLength="31.81" lengthAdjust="spacingAndGlyphs">46</text>
<text class="xl" x="2283.99" y="919.11" font-size="26.49" text-anchor="middle" textLength="31.81" lengthAdjust="spacingAndGlyphs">47</text>
<text class="xl" x="2313.67" y="919.11" font-size="26.49" text-anchor="middle" textLength="31.81" lengthAdjust="spacingAndGlyphs">48</text>
<text class="xl" x="2343.35" y="919.11" font-size="26.49" text-anchor="middle" textLength="31.81" lengthAdjust="spacingAndGlyphs">49</text>
<text class="xl" x="2373.03" y="919.11" font-size="26.49" text-anchor="middle" textLength="31.81" lengthAdjust="spacingAndGlyphs">50</text>
<text class="xl" x="2402.71" y="919.11" font-size="26.49" text-anchor="middle" textLength="31.81" lengthAdjust="spacingAndGlyphs">51</text>
<text class="xl" x="2432.39" y="919.11" font-size="26.49" text-anchor="middle" textLength="31.81" lengthAdjust="spacingAndGlyphs">52</text>
<text class="xl" x="2462.07" y="919.11" font-size="26.49" text-anchor="middle" textLength="31.81" lengthAdjust="spacingAndGlyphs">53</text>
<text class="xl" x="2491.76" y="919.11" font-size="26.49" text-anchor="middle" textLength="31.81" lengthAdjust="spacingAndGlyphs">54</text>
<text class="tt" x="2306.25" y="299" font-size="44.15" text-anchor="middle" textLength="91.72" lengthAdjust="spacingAndGlyphs">1.2Y</text>
<g clip-path="url(#c4)" fill="none" stroke-width="4.17" stroke-linejoin="round" stroke-linecap="butt">
<path d="M2655 770.44 L2684.68 702.6 L2714.36 724.85 L2744.04 680.71 L2773.72 638.77 L2803.4 596.82 L2833.09 491.78" stroke="#3C9554"/>
<path d="M2655 777.73 L2684.68 756.94 L2714.36 735.79 L2744.04 749.65 L2773.72 749.65 L2803.4 711.35 L2833.09 748.19" stroke="#EFCD48"/>
<path d="M2655 767.88 L2684.68 823.32 L2714.36 1089.95" stroke="#FC9B26"/>
<path d="M2655 782.84 L2684.68 774.09 L2714.36 766.79 L2744.04 823.32 L2773.72 923.99" stroke="#F84256"/>
<path d="M2655 756.94 L2684.68 739.8 L2714.36 731.05 L2744.04 749.65 L2773.72 739.8 L2803.4 706.61 L2833.09 697.86" stroke="#65A0E0"/>
<path d="M2655 803.63 L2684.68 788.67 L2714.36 783.93 L2744.04 783.93 L2773.72 747.09 L2803.4 745.64 L2833.09 782.84" stroke="#9E3536"/>
<path d="M2655 809.83 L2684.68 799.98 L2714.36 1089.95" stroke="#546854"/>
<path d="M2655 796.33 L2684.68 766.79 L2714.36 727.4 L2744.04 694.21 L2773.72 640.23 L2803.4 694.21 L2833.09 642.42" stroke="#E38EAF"/>
<path d="M2655 797.43 L2684.68 786.49 L2714.36 764.24 L2744.04 715 L2773.72 673.42 L2803.4 683.27 L2833.09 673.42" stroke="#ADC4DA"/>
<path d="M2655 813.48 L2684.68 806.18 L2714.36 799.98 L2744.04 799.98 L2773.72 751.84 L2803.4 807.28" stroke="#C8DC7E"/>
<path d="M2655 825.88 L2684.68 833.17 L2714.36 804.72 L2744.04 823.32 L2773.72 799.98 L2803.4 810.92 L2833.09 823.32" stroke="#A99E26"/>
<path d="M2655 823.32 L2684.68 823.32 L2714.36 803.63 L2744.04 788.67 L2773.72 812.38 L2803.4 776.64 L2833.09 787.58" stroke="#588478"/>
<path d="M2655 836.82 L2684.68 857.61 L2714.36 859.07 L2744.04 859.07 L2773.72 845.57 L2803.4 834.27 L2833.09 834.27" stroke="#C97858"/>
<path d="M2655 833.17 L2684.68 833.17 L2714.36 820.77 L2744.04 779.19 L2773.72 792.69 L2803.4 792.69 L2833.09 780.29" stroke="#A67C7C"/>
<path d="M2655 813.48 L2684.68 793.78 L2714.36 803.63 L2744.04 857.97 L2773.72 857.97" stroke="#587AA8"/>
<path d="M2655 818.22 L2684.68 833.17 L2714.36 1089.95" stroke="#EA5792"/>
<path d="M2655 816.03 L2684.68 791.23 L2714.36 766.79 L2744.04 727.4 L2773.72 779.19 L2803.4 804.72 L2833.09 818.22" stroke="#A07356"/>
<path d="M2655 823.32 L2684.68 833.17 L2714.36 845.57 L2744.04 899.55 L2773.72 899.55 L2803.4 857.61 L2833.09 899.55" stroke="#982D50"/>
<path d="M2655 818.22 L2684.68 813.48 L2714.36 806.18 L2744.04 756.94 L2773.72 818.22 L2803.4 831.71 L2833.09 831.71" stroke="#9D82AC"/>
<path d="M2655 819.68 L2684.68 806.18 L2714.36 804.72 L2744.04 793.78 L2773.72 855.42 L2803.4 899.55" stroke="#08828A"/>
<path d="M2655 833.17 L2684.68 857.61 L2714.36 870.38 L2744.04 871.11 L2773.72 871.11 L2803.4 845.57 L2833.09 845.57" stroke="#9D52C4"/>
<path d="M2655 823.32 L2684.68 801.08 L2714.36 792.69 L2744.04 792.69 L2773.72 766.79 L2803.4 740.89 L2833.09 765.33" stroke="#80869A"/>
<path d="M2655 817.12 L2684.68 791.23 L2714.36 776.64 L2744.04 740.89 L2773.72 779.19 L2803.4 766.79 L2833.09 755.48" stroke="#F16576"/>
<path d="M2655 818.22 L2684.68 806.18 L2714.36 779.19 L2744.04 754.39 L2773.72 741.99 L2803.4 727.4 L2833.09 751.84" stroke="#4E51B9"/>
<path d="M2655 818.22 L2684.68 831.71 L2714.36 804.72 L2744.04 857.61 L2773.72 845.57 L2803.4 820.77 L2833.09 793.78" stroke="#7EDBC6"/>
<path d="M2640.16 506 H3011.17" stroke="#000" stroke-width="6.25" stroke-dasharray="23.13 10"/>
<path d="M2640.16 634 H3011.17" stroke="#000" stroke-width="6.25" stroke-dasharray="6.25 10.31"/>
</g>
<rect x="2640.5" y="324.5" width="371" height="547" fill="none" stroke="#000" stroke-width="3.33" stroke-linejoin="miter"/>
<path d="M2625.58 871.5 H2640.16 M2625.58 780.5 H2640.16 M2625.58 689.5 H2640.16 M2625.58 598.5 H2640.16 M2625.58 506.5 H2640.16 M2625.58 415.5 H2640.16 M2625.58 324.5 H2640.16" stroke="#000" stroke-width="3.33"/>
<path d="M2631.83 853.5 H2640.16 M2631.83 835.5 H2640.16 M2631.83 816.5 H2640.16 M2631.83 798.5 H2640.16 M2631.83 762.5 H2640.16 M2631.83 743.5 H2640.16 M2631.83 725.5 H2640.16 M2631.83 707.5 H2640.16 M2631.83 671.5 H2640.16 M2631.83 652.5 H2640.16 M2631.83 634.5 H2640.16 M2631.83 616.5 H2640.16 M2631.83 579.5 H2640.16 M2631.83 561.5 H2640.16 M2631.83 543.5 H2640.16 M2631.83 525.5 H2640.16 M2631.83 488.5 H2640.16 M2631.83 470.5 H2640.16 M2631.83 452.5 H2640.16 M2631.83 433.5 H2640.16 M2631.83 397.5 H2640.16 M2631.83 379.5 H2640.16 M2631.83 360.5 H2640.16 M2631.83 342.5 H2640.16" stroke="#000" stroke-width="2.5"/>
<path d="M2655.5 871.11 V885.69 M2685.5 871.11 V885.69 M2714.5 871.11 V885.69 M2744.5 871.11 V885.69 M2774.5 871.11 V885.69 M2803.5 871.11 V885.69 M2833.5 871.11 V885.69 M2863.5 871.11 V885.69 M2892.5 871.11 V885.69 M2922.5 871.11 V885.69 M2952.5 871.11 V885.69 M2981.5 871.11 V885.69 M3011.5 871.11 V885.69" stroke="#000" stroke-width="3.33"/>
<text class="yl" x="2610.99" y="887.11" font-size="44.15" text-anchor="end" textLength="26.51" lengthAdjust="spacingAndGlyphs">0</text>
<text class="yl" x="2610.99" y="795.92" font-size="44.15" text-anchor="end" textLength="53.02" lengthAdjust="spacingAndGlyphs">25</text>
<text class="yl" x="2610.99" y="704.74" font-size="44.15" text-anchor="end" textLength="53.02" lengthAdjust="spacingAndGlyphs">50</text>
<text class="yl" x="2610.99" y="613.55" font-size="44.15" text-anchor="end" textLength="53.02" lengthAdjust="spacingAndGlyphs">75</text>
<text class="yl" x="2610.99" y="522.37" font-size="44.15" text-anchor="end" textLength="79.53" lengthAdjust="spacingAndGlyphs">100</text>
<text class="yl" x="2610.99" y="431.18" font-size="44.15" text-anchor="end" textLength="79.53" lengthAdjust="spacingAndGlyphs">125</text>
<text class="yl" x="2610.99" y="340" font-size="44.15" text-anchor="end" textLength="79.53" lengthAdjust="spacingAndGlyphs">150</text>
<text class="xl" x="2655" y="919.11" font-size="26.49" text-anchor="middle" textLength="31.81" lengthAdjust="spacingAndGlyphs">42</text>
<text class="xl" x="2684.68" y="919.11" font-size="26.49" text-anchor="middle" textLength="31.81" lengthAdjust="spacingAndGlyphs">43</text>
<text class="xl" x="2714.36" y="919.11" font-size="26.49" text-anchor="middle" textLength="31.81" lengthAdjust="spacingAndGlyphs">44</text>
<text class="xl" x="2744.04" y="919.11" font-size="26.49" text-anchor="middle" textLength="31.81" lengthAdjust="spacingAndGlyphs">45</text>
<text class="xl" x="2773.72" y="919.11" font-size="26.49" text-anchor="middle" textLength="31.81" lengthAdjust="spacingAndGlyphs">46</text>
<text class="xl" x="2803.4" y="919.11" font-size="26.49" text-anchor="middle" textLength="31.81" lengthAdjust="spacingAndGlyphs">47</text>
<text class="xl" x="2833.09" y="919.11" font-size="26.49" text-anchor="middle" textLength="31.81" lengthAdjust="spacingAndGlyphs">48</text>
<text class="xl" x="2862.77" y="919.11" font-size="26.49" text-anchor="middle" textLength="31.81" lengthAdjust="spacingAndGlyphs">49</text>
<text class="xl" x="2892.45" y="919.11" font-size="26.49" text-anchor="middle" textLength="31.81" lengthAdjust="spacingAndGlyphs">50</text>
<text class="xl" x="2922.13" y="919.11" font-size="26.49" text-anchor="middle" textLength="31.81" lengthAdjust="spacingAndGlyphs">51</text>
<text class="xl" x="2951.81" y="919.11" font-size="26.49" text-anchor="middle" textLength="31.81" lengthAdjust="spacingAndGlyphs">52</text>
<text class="xl" x="2981.49" y="919.11" font-size="26.49" text-anchor="middle" textLength="31.81" lengthAdjust="spacingAndGlyphs">53</text>
<text class="xl" x="3011.17" y="919.11" font-size="26.49" text-anchor="middle" textLength="31.81" lengthAdjust="spacingAndGlyphs">54</text>
<text class="tt" x="2825.66" y="299" font-size="44.15" text-anchor="middle" textLength="94.81" lengthAdjust="spacingAndGlyphs">1.2Z</text>
<g clip-path="url(#c5)" fill="none" stroke-width="4.17" stroke-linejoin="round" stroke-linecap="butt">
<path d="M3174.41 774.09 L3204.1 806.18 L3233.78 847.76 L3263.46 857.61 L3293.14 871.11 L3322.82 862.72 L3352.5 1089.95" stroke="#3C9554"/>
<path d="M3174.41 761.68 L3204.1 741.99 L3233.78 727.4 L3263.46 704.06 L3293.14 658.46 L3322.82 621.63 L3352.5 551.6 L3382.18 520.59 L3411.86 498.71" stroke="#EFCD48"/>
<path d="M3174.41 767.88 L3204.1 776.64 L3233.78 761.68 L3263.46 749.65 L3293.14 756.94 L3322.82 732.14 L3352.5 732.14 L3382.18 756.94 L3411.86 835.73" stroke="#FC9B26"/>
<path d="M3174.41 774.09 L3204.1 740.89 L3233.78 705.15 L3263.46 653.72 L3293.14 601.93 L3322.82 557.8 L3352.5 531.9 L3382.18 523.15 L3411.86 481.57" stroke="#F84256"/>
<path d="M3174.41 765.33 L3204.1 644.97 L3233.78 653.72 L3263.46 727.4 L3293.14 801.08 L3322.82 879.86" stroke="#65A0E0"/>
<path d="M3174.41 803.63 L3204.1 774.09 L3233.78 764.24 L3263.46 727.4 L3293.14 697.86 L3322.82 621.63 L3352.5 579.68 L3382.18 542.84 L3411.86 506" stroke="#9E3536"/>
<path d="M3174.41 820.77 L3204.1 816.03 L3233.78 830.62 L3263.46 850.32 L3293.14 1089.95" stroke="#546854"/>
<path d="M3174.41 809.83 L3204.1 828.07 L3233.78 840.47 L3263.46 857.61 L3293.14 867.46 L3322.82 889.71" stroke="#E38EAF"/>
<path d="M3174.41 816.03 L3204.1 808.37 L3233.78 801.08 L3263.46 776.64 L3293.14 734.69 L3322.82 673.42 L3352.5 619.07 L3382.18 589.53 L3411.86 558.89" stroke="#ADC4DA"/>
<path d="M3174.41 823.32 L3204.1 796.33 L3233.78 776.64 L3263.46 766.79 L3293.14 786.49 L3322.82 781.38 L3352.5 753.3 L3382.18 740.89 L3411.86 776.64" stroke="#C8DC7E"/>
<path d="M3174.41 836.82 L3204.1 860.16 L3233.78 1089.95" stroke="#A99E26"/>
<path d="M3174.41 823.32 L3204.1 796.33 L3233.78 766.79 L3263.46 729.95 L3293.14 710.26 L3322.82 681.81 L3352.5 611.78 L3382.18 562.54 L3411.86 518.4" stroke="#588478"/>
<path d="M3174.41 823.32 L3204.1 823.32 L3233.78 823.32 L3263.46 812.38 L3293.14 860.16 L3322.82 899.55" stroke="#C97858"/>
<path d="M3174.41 820.77 L3204.1 813.48 L3233.78 816.03 L3263.46 818.22 L3293.14 879.86" stroke="#A67C7C"/>
<path d="M3174.41 830.62 L3204.1 820.77 L3233.78 810.92 L3263.46 845.57 L3293.14 857.61 L3322.82 899.55" stroke="#587AA8"/>
<path d="M3174.41 857.61 L3204.1 1089.95" stroke="#EA5792"/>
<path d="M3174.41 828.07 L3204.1 808.37 L3233.78 783.93 L3263.46 776.64 L3293.14 803.63 L3322.82 828.07 L3352.5 879.86" stroke="#982D50"/>
<path d="M3174.41 823.32 L3204.1 776.64 L3233.78 765.33 L3263.46 765.33 L3293.14 791.23 L3322.82 806.18 L3352.5 818.22 L3382.18 804.72 L3411.86 792.69" stroke="#9D82AC"/>
<path d="M3174.41 833.17 L3204.1 1089.95" stroke="#08828A"/>
<path d="M3174.41 823.32 L3204.1 804.72 L3233.78 818.22 L3263.46 806.18 L3293.14 779.19 L3322.82 779.19 L3352.5 804.72 L3382.18 818.22 L3411.86 844.11" stroke="#9D52C4"/>
<path d="M3174.41 813.48 L3204.1 776.64 L3233.78 740.89 L3263.46 740.89 L3293.14 715 L3322.82 727.4 L3352.5 715 L3382.18 662.11 L3411.86 584.79" stroke="#80869A"/>
<path d="M3174.41 819.68 L3204.1 818.22 L3233.78 806.18 L3263.46 791.23 L3293.14 779.19 L3322.82 792.69 L3352.5 857.61 L3382.18 1089.95" stroke="#F16576"/>
<path d="M3174.41 830.62 L3204.1 801.08 L3233.78 766.79 L3263.46 739.8 L3293.14 712.44 L3322.82 688.01 L3352.5 713.9 L3382.18 713.9 L3411.86 765.33" stroke="#4E51B9"/>
<path d="M3174.41 817.12 L3204.1 792.69 L3233.78 804.72 L3263.46 804.72 L3293.14 779.19 L3322.82 830.62 L3352.5 871.11 L3382.18 899.55" stroke="#7EDBC6"/>
<path d="M3159.57 506 H3530.59" stroke="#000" stroke-width="6.25" stroke-dasharray="23.13 10"/>
<path d="M3159.57 634 H3530.59" stroke="#000" stroke-width="6.25" stroke-dasharray="6.25 10.31"/>
</g>
<rect x="3160.5" y="324.5" width="371" height="547" fill="none" stroke="#000" stroke-width="3.33" stroke-linejoin="miter"/>
<path d="M3144.99 871.5 H3159.57 M3144.99 780.5 H3159.57 M3144.99 689.5 H3159.57 M3144.99 598.5 H3159.57 M3144.99 506.5 H3159.57 M3144.99 415.5 H3159.57 M3144.99 324.5 H3159.57" stroke="#000" stroke-width="3.33"/>
<path d="M3151.24 853.5 H3159.57 M3151.24 835.5 H3159.57 M3151.24 816.5 H3159.57 M3151.24 798.5 H3159.57 M3151.24 762.5 H3159.57 M3151.24 743.5 H3159.57 M3151.24 725.5 H3159.57 M3151.24 707.5 H3159.57 M3151.24 671.5 H3159.57 M3151.24 652.5 H3159.57 M3151.24 634.5 H3159.57 M3151.24 616.5 H3159.57 M3151.24 579.5 H3159.57 M3151.24 561.5 H3159.57 M3151.24 543.5 H3159.57 M3151.24 525.5 H3159.57 M3151.24 488.5 H3159.57 M3151.24 470.5 H3159.57 M3151.24 452.5 H3159.57 M3151.24 433.5 H3159.57 M3151.24 397.5 H3159.57 M3151.24 379.5 H3159.57 M3151.24 360.5 H3159.57 M3151.24 342.5 H3159.57" stroke="#000" stroke-width="2.5"/>
<path d="M3174.5 871.11 V885.69 M3204.5 871.11 V885.69 M3234.5 871.11 V885.69 M3263.5 871.11 V885.69 M3293.5 871.11 V885.69 M3323.5 871.11 V885.69 M3353.5 871.11 V885.69 M3382.5 871.11 V885.69 M3412.5 871.11 V885.69 M3442.5 871.11 V885.69 M3471.5 871.11 V885.69 M3501.5 871.11 V885.69 M3531.5 871.11 V885.69" stroke="#000" stroke-width="3.33"/>
<text class="yl" x="3130.41" y="887.11" font-size="44.15" text-anchor="end" textLength="26.51" lengthAdjust="spacingAndGlyphs">0</text>
<text class="yl" x="3130.41" y="795.92" font-size="44.15" text-anchor="end" textLength="53.02" lengthAdjust="spacingAndGlyphs">25</text>
<text class="yl" x="3130.41" y="704.74" font-size="44.15" text-anchor="end" textLength="53.02" lengthAdjust="spacingAndGlyphs">50</text>
<text class="yl" x="3130.41" y="613.55" font-size="44.15" text-anchor="end" textLength="53.02" lengthAdjust="spacingAndGlyphs">75</text>
<text class="yl" x="3130.41" y="522.37" font-size="44.15" text-anchor="end" textLength="79.53" lengthAdjust="spacingAndGlyphs">100</text>
<text class="yl" x="3130.41" y="431.18" font-size="44.15" text-anchor="end" textLength="79.53" lengthAdjust="spacingAndGlyphs">125</text>
<text class="yl" x="3130.41" y="340" font-size="44.15" text-anchor="end" textLength="79.53" lengthAdjust="spacingAndGlyphs">150</text>
<text class="xl" x="3174.41" y="919.11" font-size="26.49" text-anchor="middle" textLength="31.81" lengthAdjust="spacingAndGlyphs">42</text>
<text class="xl" x="3204.1" y="919.11" font-size="26.49" text-anchor="middle" textLength="31.81" lengthAdjust="spacingAndGlyphs">43</text>
<text class="xl" x="3233.78" y="919.11" font-size="26.49" text-anchor="middle" textLength="31.81" lengthAdjust="spacingAndGlyphs">44</text>
<text class="xl" x="3263.46" y="919.11" font-size="26.49" text-anchor="middle" textLength="31.81" lengthAdjust="spacingAndGlyphs">45</text>
<text class="xl" x="3293.14" y="919.11" font-size="26.49" text-anchor="middle" textLength="31.81" lengthAdjust="spacingAndGlyphs">46</text>
<text class="xl" x="3322.82" y="919.11" font-size="26.49" text-anchor="middle" textLength="31.81" lengthAdjust="spacingAndGlyphs">47</text>
<text class="xl" x="3352.5" y="919.11" font-size="26.49" text-anchor="middle" textLength="31.81" lengthAdjust="spacingAndGlyphs">48</text>
<text class="xl" x="3382.18" y="919.11" font-size="26.49" text-anchor="middle" textLength="31.81" lengthAdjust="spacingAndGlyphs">49</text>
<text class="xl" x="3411.86" y="919.11" font-size="26.49" text-anchor="middle" textLength="31.81" lengthAdjust="spacingAndGlyphs">50</text>
<text class="xl" x="3441.54" y="919.11" font-size="26.49" text-anchor="middle" textLength="31.81" lengthAdjust="spacingAndGlyphs">51</text>
<text class="xl" x="3471.22" y="919.11" font-size="26.49" text-anchor="middle" textLength="31.81" lengthAdjust="spacingAndGlyphs">52</text>
<text class="xl" x="3500.9" y="919.11" font-size="26.49" text-anchor="middle" textLength="31.81" lengthAdjust="spacingAndGlyphs">53</text>
<text class="xl" x="3530.59" y="919.11" font-size="26.49" text-anchor="middle" textLength="31.81" lengthAdjust="spacingAndGlyphs">54</text>
<text class="tt" x="3345.08" y="299" font-size="44.15" text-anchor="middle" textLength="94.77" lengthAdjust="spacingAndGlyphs">1.2A</text>
<g clip-path="url(#c6)" fill="none" stroke-width="4.17" stroke-linejoin="round" stroke-linecap="butt">
<path d="M3693.83 786.49 L3723.51 779.19 L3753.19 797.43 L3782.87 1089.95" stroke="#3C9554"/>
<path d="M3693.83 763.14 L3723.51 726.3 L3753.19 702.6 L3782.87 702.6 L3812.55 689.1 L3842.23 631.47 L3871.91 614.33 L3901.6 642.42 L3931.28 634.03 L3960.96 610.68 L3990.64 596.82 L4020.32 589.53" stroke="#EFCD48"/>
<path d="M3693.83 820.77 L3723.51 808.37 L3753.19 793.78 L3782.87 813.48 L3812.55 837.91 L3842.23 1089.95" stroke="#FC9B26"/>
<path d="M3693.83 783.93 L3723.51 783.93 L3753.19 788.67 L3782.87 751.84 L3812.55 737.25 L3842.23 688.01 L3871.91 696.76 L3901.6 712.44 L3931.28 731.05 L3960.96 688.01 L3990.64 706.61 L4020.32 739.8" stroke="#F84256"/>
<path d="M3693.83 775.18 L3723.51 765.33 L3753.19 756.94 L3782.87 731.05 L3812.55 749.65 L3842.23 722.29 L3871.91 713.9 L3901.6 713.9 L3931.28 731.05 L3960.96 775.18 L3990.64 766.79 L4020.32 766.79" stroke="#65A0E0"/>
<path d="M3693.83 783.93 L3723.51 765.33 L3753.19 781.38 L3782.87 810.92 L3812.55 823.32 L3842.23 810.92 L3871.91 783.93 L3901.6 764.24 L3931.28 745.64 L3960.96 717.55 L3990.64 668.31 L4020.32 641.32" stroke="#9E3536"/>
<path d="M3693.83 807.28 L3723.51 798.52 L3753.19 764.24 L3782.87 715 L3812.55 678.16 L3842.23 661.02 L3871.91 627.83 L3901.6 637.67 L3931.28 637.67 L3960.96 606.67 L3990.64 606.67 L4020.32 567.64" stroke="#546854"/>
<path d="M3693.83 797.43 L3723.51 756.94 L3753.19 735.79 L3782.87 715 L3812.55 661.02 L3842.23 628.92 L3871.91 599.38 L3901.6 568.74 L3931.28 536.64 L3960.96 579.68 L3990.64 610.68 L4020.32 681.81" stroke="#E38EAF"/>
<path d="M3693.83 807.28 L3723.51 803.63 L3753.19 781.38 L3782.87 744.54 L3812.55 735.79 L3842.23 735.79 L3871.91 735.79 L3901.6 735.79 L3931.28 756.94 L3960.96 764.24 L3990.64 745.64 L4020.32 694.21" stroke="#ADC4DA"/>
<path d="M3693.83 812.38 L3723.51 808.37 L3753.19 798.52 L3782.87 810.92 L3812.55 833.17 L3842.23 846.67 L3871.91 846.67 L3901.6 823.32 L3931.28 810.92 L3960.96 798.52 L3990.64 788.67 L4020.32 776.64" stroke="#C8DC7E"/>
<path d="M3693.83 812.38 L3723.51 808.37 L3753.19 788.67 L3782.87 764.24 L3812.55 753.3 L3842.23 740.89 L3871.91 740.89 L3901.6 753.3 L3931.28 764.24 L3960.96 764.24 L3990.64 753.3 L4020.32 753.3" stroke="#A99E26"/>
<path d="M3693.83 833.17 L3723.51 823.32 L3753.19 825.88 L3782.87 845.57 L3812.55 860.16 L3842.23 1089.95" stroke="#588478"/>
<path d="M3693.83 823.32 L3723.51 823.32 L3753.19 1089.95" stroke="#C97858"/>
<path d="M3693.83 825.88 L3723.51 820.77 L3753.19 831.71 L3782.87 831.71 L3812.55 850.32 L3842.23 1089.95" stroke="#A67C7C"/>
<path d="M3693.83 833.17 L3723.51 857.61 L3753.19 1089.95" stroke="#587AA8"/>
<path d="M3693.83 820.77 L3723.51 816.03 L3753.19 792.69 L3782.87 825.88 L3812.55 855.42 L3842.23 1089.95" stroke="#EA5792"/>
<path d="M3693.83 820.77 L3723.51 816.03 L3753.19 804.72 L3782.87 792.69 L3812.55 792.69 L3842.23 818.22 L3871.91 857.61 L3901.6 1089.95" stroke="#A07356"/>
<path d="M3693.83 818.22 L3723.51 816.03 L3753.19 779.19 L3782.87 766.79 L3812.55 779.19 L3842.23 804.72 L3871.91 857.61 L3901.6 1089.95" stroke="#982D50"/>
<path d="M3693.83 817.12 L3723.51 804.72 L3753.19 776.64 L3782.87 740.89 L3812.55 740.89 L3842.23 754.39 L3871.91 740.89 L3901.6 701.5 L3931.28 715 L3960.96 740.89 L3990.64 740.89 L4020.32 715" stroke="#9D82AC"/>
<path d="M3693.83 845.57 L3723.51 845.57 L3753.19 871.11 L3782.87 1089.95" stroke="#08828A"/>
<path d="M3693.83 817.12 L3723.51 804.72 L3753.19 781.38 L3782.87 739.8 L3812.55 715 L3842.23 701.5 L3871.91 674.51 L3901.6 661.02 L3931.28 649.71 L3960.96 609.22 L3990.64 584.79 L4020.32 571.29" stroke="#9D52C4"/>
<path d="M3693.83 817.12 L3723.51 793.78 L3753.19 766.79 L3782.87 715 L3812.55 662.11 L3842.23 662.11 L3871.91 611.78 L3901.6 571.29 L3931.28 557.8 L3960.96 571.29 L3990.64 557.8 L4020.32 596.82" stroke="#80869A"/>
<path d="M3693.83 833.17 L3723.51 845.57 L3753.19 899.55 L3782.87 899.55 L3812.55 899.55 L3842.23 899.55 L3871.91 871.11 L3901.6 857.61 L3931.28 857.61 L3960.96 871.11" stroke="#F16576"/>
<path d="M3693.83 818.22 L3723.51 818.22 L3753.19 830.62 L3782.87 845.57 L3812.55 1089.95" stroke="#4E51B9"/>
<path d="M3693.83 831.71 L3723.51 818.22 L3753.19 818.22 L3782.87 831.71 L3812.55 831.71 L3842.23 831.71 L3871.91 845.57 L3901.6 845.57 L3931.28 818.22 L3960.96 857.61 L3990.64 1089.95" stroke="#7EDBC6"/>
<path d="M3678.99 506 H4050" stroke="#000" stroke-width="6.25" stroke-dasharray="23.13 10"/>
<path d="M3678.99 634 H4050" stroke="#000" stroke-width="6.25" stroke-dasharray="6.25 10.31"/>
</g>
<rect x="3679.5" y="324.5" width="371" height="547" fill="none" stroke="#000" stroke-width="3.33" stroke-linejoin="miter"/>
<path d="M3664.41 871.5 H3678.99 M3664.41 780.5 H3678.99 M3664.41 689.5 H3678.99 M3664.41 598.5 H3678.99 M3664.41 506.5 H3678.99 M3664.41 415.5 H3678.99 M3664.41 324.5 H3678.99" stroke="#000" stroke-width="3.33"/>
<path d="M3670.66 853.5 H3678.99 M3670.66 835.5 H3678.99 M3670.66 816.5 H3678.99 M3670.66 798.5 H3678.99 M3670.66 762.5 H3678.99 M3670.66 743.5 H3678.99 M3670.66 725.5 H3678.99 M3670.66 707.5 H3678.99 M3670.66 671.5 H3678.99 M3670.66 652.5 H3678.99 M3670.66 634.5 H3678.99 M3670.66 616.5 H3678.99 M3670.66 579.5 H3678.99 M3670.66 561.5 H3678.99 M3670.66 543.5 H3678.99 M3670.66 525.5 H3678.99 M3670.66 488.5 H3678.99 M3670.66 470.5 H3678.99 M3670.66 452.5 H3678.99 M3670.66 433.5 H3678.99 M3670.66 397.5 H3678.99 M3670.66 379.5 H3678.99 M3670.66 360.5 H3678.99 M3670.66 342.5 H3678.99" stroke="#000" stroke-width="2.5"/>
<path d="M3694.5 871.11 V885.69 M3724.5 871.11 V885.69 M3753.5 871.11 V885.69 M3783.5 871.11 V885.69 M3813.5 871.11 V885.69 M3842.5 871.11 V885.69 M3872.5 871.11 V885.69 M3902.5 871.11 V885.69 M3931.5 871.11 V885.69 M3961.5 871.11 V885.69 M3991.5 871.11 V885.69 M4020.5 871.11 V885.69 M4050.5 871.11 V885.69" stroke="#000" stroke-width="3.33"/>
<text class="yl" x="3649.82" y="887.11" font-size="44.15" text-anchor="end" textLength="26.51" lengthAdjust="spacingAndGlyphs">0</text>
<text class="yl" x="3649.82" y="795.92" font-size="44.15" text-anchor="end" textLength="53.02" lengthAdjust="spacingAndGlyphs">25</text>
<text class="yl" x="3649.82" y="704.74" font-size="44.15" text-anchor="end" textLength="53.02" lengthAdjust="spacingAndGlyphs">50</text>
<text class="yl" x="3649.82" y="613.55" font-size="44.15" text-anchor="end" textLength="53.02" lengthAdjust="spacingAndGlyphs">75</text>
<text class="yl" x="3649.82" y="522.37" font-size="44.15" text-anchor="end" textLength="79.53" lengthAdjust="spacingAndGlyphs">100</text>
<text class="yl" x="3649.82" y="431.18" font-size="44.15" text-anchor="end" textLength="79.53" lengthAdjust="spacingAndGlyphs">125</text>
<text class="yl" x="3649.82" y="340" font-size="44.15" text-anchor="end" textLength="79.53" lengthAdjust="spacingAndGlyphs">150</text>
<text class="xl" x="3693.83" y="919.11" font-size="26.49" text-anchor="middle" textLength="31.81" lengthAdjust="spacingAndGlyphs">42</text>
<text class="xl" x="3723.51" y="919.11" font-size="26.49" text-anchor="middle" textLength="31.81" lengthAdjust="spacingAndGlyphs">43</text>
<text class="xl" x="3753.19" y="919.11" font-size="26.49" text-anchor="middle" textLength="31.81" lengthAdjust="spacingAndGlyphs">44</text>
<text class="xl" x="3782.87" y="919.11" font-size="26.49" text-anchor="middle" textLength="31.81" lengthAdjust="spacingAndGlyphs">45</text>
<text class="xl" x="3812.55" y="919.11" font-size="26.49" text-anchor="middle" textLength="31.81" lengthAdjust="spacingAndGlyphs">46</text>
<text class="xl" x="3842.23" y="919.11" font-size="26.49" text-anchor="middle" textLength="31.81" lengthAdjust="spacingAndGlyphs">47</text>
<text class="xl" x="3871.91" y="919.11" font-size="26.49" text-anchor="middle" textLength="31.81" lengthAdjust="spacingAndGlyphs">48</text>
<text class="xl" x="3901.6" y="919.11" font-size="26.49" text-anchor="middle" textLength="31.81" lengthAdjust="spacingAndGlyphs">49</text>
<text class="xl" x="3931.28" y="919.11" font-size="26.49" text-anchor="middle" textLength="31.81" lengthAdjust="spacingAndGlyphs">50</text>
<text class="xl" x="3960.96" y="919.11" font-size="26.49" text-anchor="middle" textLength="31.81" lengthAdjust="spacingAndGlyphs">51</text>
<text class="xl" x="3990.64" y="919.11" font-size="26.49" text-anchor="middle" textLength="31.81" lengthAdjust="spacingAndGlyphs">52</text>
<text class="xl" x="4020.32" y="919.11" font-size="26.49" text-anchor="middle" textLength="31.81" lengthAdjust="spacingAndGlyphs">53</text>
<text class="xl" x="4050" y="919.11" font-size="26.49" text-anchor="middle" textLength="31.81" lengthAdjust="spacingAndGlyphs">54</text>
<text class="tt" x="3864.49" y="299" font-size="44.15" text-anchor="middle" textLength="94.85" lengthAdjust="spacingAndGlyphs">1.2B</text>
<g clip-path="url(#c7)" fill="none" stroke-width="4.17" stroke-linejoin="round" stroke-linecap="butt">
<path d="M577.34 1543.68 L607.02 1514.14 L636.7 1545.14 L666.38 1545.14 L696.06 1562.28 L725.74 1586.72 L755.43 1655.65" stroke="#3C9554"/>
<path d="M577.34 1538.94 L607.02 1562.28 L636.7 1567.02 L666.38 1621.37 L696.06 1613.71 L725.74 1589.27 L755.43 1568.48 L785.11 1568.48 L814.79 1560.82" stroke="#EFCD48"/>
<path d="M577.34 1523.98 L607.02 1542.59 L636.7 1567.02 L666.38 1552.43 L696.06 1575.78 L725.74 1575.78 L755.43 1584.53 L785.11 1601.67 L814.79 1637.05" stroke="#FC9B26"/>
<path d="M577.34 1530.18 L607.02 1505.75 L636.7 1472.56 L666.38 1445.57 L696.06 1472.56 L725.74 1463.8 L755.43 1462.71 L785.11 1472.56 L814.79 1505.75" stroke="#F84256"/>
<path d="M577.34 1532.74 L607.02 1532.74 L636.7 1532.74 L666.38 1591.83 L696.06 1626.11 L725.74 1855.89" stroke="#65A0E0"/>
<path d="M577.34 1549.88 L607.02 1540.03 L636.7 1508.3 L666.38 1493.35 L696.06 1530.18 L725.74 1567.02 L755.43 1616.26 L785.11 1637.05 L814.79 1655.65" stroke="#9E3536"/>
<path d="M577.34 1616.26 L607.02 1616.26 L636.7 1855.89" stroke="#546854"/>
<path d="M577.34 1563.38 L607.02 1542.59 L636.7 1517.78 L666.38 1473.65 L696.06 1424.41 L725.74 1390.13 L755.43 1345.63 L785.11 1302.59 L814.79 1241.68" stroke="#E38EAF"/>
<path d="M577.34 1562.28 L607.02 1552.43 L636.7 1552.43 L666.38 1549.88 L696.06 1542.59 L725.74 1574.68 L755.43 1564.83 L785.11 1552.43 L814.79 1552.43" stroke="#ADC4DA"/>
<path d="M577.34 1586.72 L607.02 1584.53 L636.7 1589.27 L666.38 1608.97 L696.06 1626.11 L725.74 1655.65" stroke="#C8DC7E"/>
<path d="M577.34 1589.27 L607.02 1586.72 L636.7 1578.33 L666.38 1578.33 L696.06 1600.21 L725.74 1579.42 L755.43 1554.99 L785.11 1542.59 L814.79 1484.59" stroke="#A99E26"/>
<path d="M577.34 1584.53 L607.02 1554.99 L636.7 1530.18 L666.38 1517.78 L696.06 1461.25 L725.74 1461.25 L755.43 1447.75 L785.11 1447.75 L814.79 1413.47" stroke="#588478"/>
<path d="M577.34 1596.57 L607.02 1576.87 L636.7 1562.28 L666.38 1542.59 L696.06 1498.45 L725.74 1459.06 L755.43 1436.81 L785.11 1447.75 L814.79 1377.72" stroke="#C97858"/>
<path d="M577.34 1586.72 L607.02 1542.59 L636.7 1532.74 L666.38 1542.59 L696.06 1532.74 L725.74 1545.14 L755.43 1545.14 L785.11 1545.14 L814.79 1596.57" stroke="#A67C7C"/>
<path d="M577.34 1601.67 L607.02 1616.26 L636.7 1855.89" stroke="#587AA8"/>
<path d="M577.34 1584.53 L607.02 1570.67 L636.7 1570.67 L666.38 1558.63 L696.06 1558.63 L725.74 1545.14 L755.43 1584.53 L785.11 1855.89" stroke="#EA5792"/>
<path d="M577.34 1591.83 L607.02 1558.63 L636.7 1558.63 L666.38 1547.33 L696.06 1495.9 L725.74 1467.45 L755.43 1453.95 L785.11 1453.95 L814.79 1453.95" stroke="#A07356"/>
<path d="M577.34 1584.53 L607.02 1598.03 L636.7 1584.53 L666.38 1545.14 L696.06 1545.14 L725.74 1532.74 L755.43 1505.75 L785.11 1519.24 L814.79 1596.57" stroke="#9D82AC"/>
<path d="M577.34 1599.12 L607.02 1610.06 L636.7 1598.03 L666.38 1637.05 L696.06 1665.5" stroke="#08828A"/>
<path d="M577.34 1583.07 L607.02 1557.18 L636.7 1519.24 L666.38 1505.75 L696.06 1453.95 L725.74 1399.97 L755.43 1363.14 L785.11 1337.24 L814.79 1234.02" stroke="#9D52C4"/>
<path d="M577.34 1583.07 L607.02 1532.74 L636.7 1545.14 L666.38 1517.78 L696.06 1493.35 L725.74 1493.35 L755.43 1479.85 L785.11 1467.45 L814.79 1467.45" stroke="#80869A"/>
<path d="M577.34 1583.07 L607.02 1547.33 L636.7 1508.3 L666.38 1466.36 L696.06 1426.96 L725.74 1350.73 L755.43 1323.74 L785.11 1258.82 L814.79 1233.29" stroke="#F16576"/>
<path d="M577.34 1607.87 L607.02 1584.53 L636.7 1611.52 L666.38 1611.52 L696.06 1637.05 L725.74 1665.5" stroke="#4E51B9"/>
<path d="M577.34 1611.52 L607.02 1611.52 L636.7 1645.81" stroke="#7EDBC6"/>
<path d="M562.5 1272 H933.51" stroke="#000" stroke-width="6.25" stroke-dasharray="23.13 10"/>
<path d="M562.5 1400 H933.51" stroke="#000" stroke-width="6.25" stroke-dasharray="6.25 10.31"/>
</g>
<rect x="563.5" y="1090.5" width="371" height="547" fill="none" stroke="#000" stroke-width="3.33" stroke-linejoin="miter"/>
<path d="M547.92 1637.5 H562.5 M547.92 1546.5 H562.5 M547.92 1455.5 H562.5 M547.92 1364.5 H562.5 M547.92 1272.5 H562.5 M547.92 1181.5 H562.5 M547.92 1090.5 H562.5" stroke="#000" stroke-width="3.33"/>
<path d="M554.17 1619.5 H562.5 M554.17 1601.5 H562.5 M554.17 1582.5 H562.5 M554.17 1564.5 H562.5 M554.17 1528.5 H562.5 M554.17 1509.5 H562.5 M554.17 1491.5 H562.5 M554.17 1473.5 H562.5 M554.17 1436.5 H562.5 M554.17 1418.5 H562.5 M554.17 1400.5 H562.5 M554.17 1382.5 H562.5 M554.17 1345.5 H562.5 M554.17 1327.5 H562.5 M554.17 1309.5 H562.5 M554.17 1291.5 H562.5 M554.17 1254.5 H562.5 M554.17 1236.5 H562.5 M554.17 1218.5 H562.5 M554.17 1199.5 H562.5 M554.17 1163.5 H562.5 M554.17 1145.5 H562.5 M554.17 1126.5 H562.5 M554.17 1108.5 H562.5" stroke="#000" stroke-width="2.5"/>
<path d="M577.5 1637.05 V1651.64 M607.5 1637.05 V1651.64 M637.5 1637.05 V1651.64 M666.5 1637.05 V1651.64 M696.5 1637.05 V1651.64 M726.5 1637.05 V1651.64 M755.5 1637.05 V1651.64 M785.5 1637.05 V1651.64 M815.5 1637.05 V1651.64 M844.5 1637.05 V1651.64 M874.5 1637.05 V1651.64 M904.5 1637.05 V1651.64 M934.5 1637.05 V1651.64" stroke="#000" stroke-width="3.33"/>
<text class="yl" x="533.33" y="1653.05" font-size="44.15" text-anchor="end" textLength="26.51" lengthAdjust="spacingAndGlyphs">0</text>
<text class="yl" x="533.33" y="1561.87" font-size="44.15" text-anchor="end" textLength="53.02" lengthAdjust="spacingAndGlyphs">25</text>
<text class="yl" x="533.33" y="1470.68" font-size="44.15" text-anchor="end" textLength="53.02" lengthAdjust="spacingAndGlyphs">50</text>
<text class="yl" x="533.33" y="1379.5" font-size="44.15" text-anchor="end" textLength="53.02" lengthAdjust="spacingAndGlyphs">75</text>
<text class="yl" x="533.33" y="1288.32" font-size="44.15" text-anchor="end" textLength="79.53" lengthAdjust="spacingAndGlyphs">100</text>
<text class="yl" x="533.33" y="1197.13" font-size="44.15" text-anchor="end" textLength="79.53" lengthAdjust="spacingAndGlyphs">125</text>
<text class="yl" x="533.33" y="1105.95" font-size="44.15" text-anchor="end" textLength="79.53" lengthAdjust="spacingAndGlyphs">150</text>
<text class="xl" x="577.34" y="1685.05" font-size="26.49" text-anchor="middle" textLength="31.81" lengthAdjust="spacingAndGlyphs">42</text>
<text class="xl" x="607.02" y="1685.05" font-size="26.49" text-anchor="middle" textLength="31.81" lengthAdjust="spacingAndGlyphs">43</text>
<text class="xl" x="636.7" y="1685.05" font-size="26.49" text-anchor="middle" textLength="31.81" lengthAdjust="spacingAndGlyphs">44</text>
<text class="xl" x="666.38" y="1685.05" font-size="26.49" text-anchor="middle" textLength="31.81" lengthAdjust="spacingAndGlyphs">45</text>
<text class="xl" x="696.06" y="1685.05" font-size="26.49" text-anchor="middle" textLength="31.81" lengthAdjust="spacingAndGlyphs">46</text>
<text class="xl" x="725.74" y="1685.05" font-size="26.49" text-anchor="middle" textLength="31.81" lengthAdjust="spacingAndGlyphs">47</text>
<text class="xl" x="755.43" y="1685.05" font-size="26.49" text-anchor="middle" textLength="31.81" lengthAdjust="spacingAndGlyphs">48</text>
<text class="xl" x="785.11" y="1685.05" font-size="26.49" text-anchor="middle" textLength="31.81" lengthAdjust="spacingAndGlyphs">49</text>
<text class="xl" x="814.79" y="1685.05" font-size="26.49" text-anchor="middle" textLength="31.81" lengthAdjust="spacingAndGlyphs">50</text>
<text class="xl" x="844.47" y="1685.05" font-size="26.49" text-anchor="middle" textLength="31.81" lengthAdjust="spacingAndGlyphs">51</text>
<text class="xl" x="874.15" y="1685.05" font-size="26.49" text-anchor="middle" textLength="31.81" lengthAdjust="spacingAndGlyphs">52</text>
<text class="xl" x="903.83" y="1685.05" font-size="26.49" text-anchor="middle" textLength="31.81" lengthAdjust="spacingAndGlyphs">53</text>
<text class="xl" x="933.51" y="1685.05" font-size="26.49" text-anchor="middle" textLength="31.81" lengthAdjust="spacingAndGlyphs">54</text>
<text class="tt" x="748.01" y="1064.95" font-size="44.15" text-anchor="middle" textLength="95.36" lengthAdjust="spacingAndGlyphs">1.2C</text>
<g clip-path="url(#c8)" fill="none" stroke-width="4.17" stroke-linejoin="round" stroke-linecap="butt">
<path d="M1096.76 1552.43 L1126.44 1530.18 L1156.12 1530.18 L1185.8 1500.64 L1215.48 1500.64 L1245.16 1515.6 L1274.84 1522.89 L1304.52 1545.14 L1334.2 1599.12 L1363.88 1855.89" stroke="#3C9554"/>
<path d="M1096.76 1537.48 L1126.44 1499.55 L1156.12 1468.91 L1185.8 1439.37 L1215.48 1418.21 L1245.16 1348.18 L1274.84 1377.72 L1304.52 1424.41 L1334.2 1402.53 L1363.88 1453.95" stroke="#EFCD48"/>
<path d="M1096.76 1522.89 L1126.44 1472.56 L1156.12 1445.57 L1185.8 1436.81 L1215.48 1392.68 L1245.16 1402.53 L1274.84 1343.44 L1304.52 1263.2 L1334.2 1254.44 L1363.88 1238.4" stroke="#FC9B26"/>
<path d="M1096.76 1570.67 L1126.44 1567.02 L1156.12 1608.97 L1185.8 1855.89" stroke="#F84256"/>
<path d="M1096.76 1558.63 L1126.44 1558.63 L1156.12 1559.73 L1185.8 1621.37 L1215.48 1855.89" stroke="#65A0E0"/>
<path d="M1096.76 1572.13 L1126.44 1586.72 L1156.12 1603.86 L1185.8 1621.37 L1215.48 1855.89" stroke="#9E3536"/>
<path d="M1096.76 1584.53 L1126.44 1559.73 L1156.12 1537.48 L1185.8 1468.91 L1215.48 1413.47 L1245.16 1424.41 L1274.84 1424.41 L1304.52 1434.26 L1334.2 1414.56 L1363.88 1404.72" stroke="#546854"/>
<path d="M1096.76 1564.83 L1126.44 1603.86 L1156.12 1618.82 L1185.8 1855.89" stroke="#E38EAF"/>
<path d="M1096.76 1562.28 L1126.44 1552.43 L1156.12 1558.63 L1185.8 1603.86 L1215.48 1596.57 L1245.16 1574.68 L1274.84 1552.43 L1304.52 1542.59 L1334.2 1522.89 L1363.88 1522.89" stroke="#ADC4DA"/>
<path d="M1096.76 1576.87 L1126.44 1542.59 L1156.12 1542.59 L1185.8 1552.43 L1215.48 1542.59 L1245.16 1517.78 L1274.84 1508.3 L1304.52 1472.56 L1334.2 1460.16 L1363.88 1437.91" stroke="#C8DC7E"/>
<path d="M1096.76 1576.87 L1126.44 1567.02 L1156.12 1565.93 L1185.8 1565.93 L1215.48 1557.18 L1245.16 1545.14 L1274.84 1535.29 L1304.52 1532.74 L1334.2 1562.28 L1363.88 1589.27" stroke="#A99E26"/>
<path d="M1096.76 1589.27 L1126.44 1579.42 L1156.12 1567.02 L1185.8 1576.87 L1215.48 1554.99 L1245.16 1554.99 L1274.84 1532.74 L1304.52 1530.18 L1334.2 1530.18 L1363.88 1553.53" stroke="#588478"/>
<path d="M1096.76 1601.67 L1126.44 1613.71 L1156.12 1855.89" stroke="#C97858"/>
<path d="M1096.76 1591.83 L1126.44 1579.42 L1156.12 1572.13 L1185.8 1569.58 L1215.48 1505.75 L1245.16 1467.45 L1274.84 1441.55 L1304.52 1375.17 L1334.2 1337.24 L1363.88 1207.76" stroke="#A67C7C"/>
<path d="M1096.76 1558.63 L1126.44 1564.83 L1156.12 1572.13 L1185.8 1584.53 L1215.48 1855.89" stroke="#587AA8"/>
<path d="M1096.76 1584.53 L1126.44 1557.18 L1156.12 1520.34 L1185.8 1466.36 L1215.48 1424.41 L1245.16 1387.57 L1274.84 1350.73 L1304.52 1246.05 L1334.2 1258.09 L1363.88 1234.02" stroke="#EA5792"/>
<path d="M1096.76 1591.83 L1126.44 1569.58 L1156.12 1554.99 L1185.8 1493.35 L1215.48 1467.45 L1245.16 1453.95 L1274.84 1416.02 L1304.52 1416.02 L1334.2 1455.41 L1363.88 1479.85" stroke="#A07356"/>
<path d="M1096.76 1584.53 L1126.44 1586.72 L1156.12 1621.37 L1185.8 1855.89" stroke="#982D50"/>
<path d="M1096.76 1608.97 L1126.44 1586.72 L1156.12 1591.83 L1185.8 1611.52 L1215.48 1855.89" stroke="#9D82AC"/>
<path d="M1096.76 1584.53 L1126.44 1572.13 L1156.12 1569.58 L1185.8 1545.14 L1215.48 1532.74 L1245.16 1532.74 L1274.84 1532.74 L1304.52 1532.74 L1334.2 1506.84 L1363.88 1494.44" stroke="#08828A"/>
<path d="M1096.76 1611.52 L1126.44 1623.56 L1156.12 1635.96 L1185.8 1623.56 L1215.48 1598.03 L1245.16 1599.12 L1274.84 1855.89" stroke="#9D52C4"/>
<path d="M1096.76 1584.53 L1126.44 1576.87 L1156.12 1558.63 L1185.8 1558.63 L1215.48 1558.63 L1245.16 1584.53 L1274.84 1608.97 L1304.52 1623.56 L1334.2 1855.89" stroke="#80869A"/>
<path d="M1096.76 1584.53 L1126.44 1572.13 L1156.12 1558.63 L1185.8 1558.63 L1215.48 1598.03 L1245.16 1598.03 L1274.84 1611.52 L1304.52 1611.52 L1334.2 1611.52 L1363.88 1598.03" stroke="#F16576"/>
<path d="M1096.76 1584.53 L1126.44 1558.63 L1156.12 1545.14 L1185.8 1519.24 L1215.48 1532.74 L1245.16 1545.14 L1274.84 1584.53 L1304.52 1584.53 L1334.2 1570.67 L1363.88 1546.23" stroke="#4E51B9"/>
<path d="M1096.76 1596.57 L1126.44 1584.53 L1156.12 1570.67 L1185.8 1532.74 L1215.48 1520.34 L1245.16 1532.74 L1274.84 1520.34 L1304.52 1558.63 L1334.2 1520.34 L1363.88 1520.34" stroke="#7EDBC6"/>
<path d="M1081.91 1272 H1452.93" stroke="#000" stroke-width="6.25" stroke-dasharray="23.13 10"/>
<path d="M1081.91 1400 H1452.93" stroke="#000" stroke-width="6.25" stroke-dasharray="6.25 10.31"/>
</g>
<rect x="1082.5" y="1090.5" width="371" height="547" fill="none" stroke="#000" stroke-width="3.33" stroke-linejoin="miter"/>
<path d="M1067.33 1637.5 H1081.91 M1067.33 1546.5 H1081.91 M1067.33 1455.5 H1081.91 M1067.33 1364.5 H1081.91 M1067.33 1272.5 H1081.91 M1067.33 1181.5 H1081.91 M1067.33 1090.5 H1081.91" stroke="#000" stroke-width="3.33"/>
<path d="M1073.58 1619.5 H1081.91 M1073.58 1601.5 H1081.91 M1073.58 1582.5 H1081.91 M1073.58 1564.5 H1081.91 M1073.58 1528.5 H1081.91 M1073.58 1509.5 H1081.91 M1073.58 1491.5 H1081.91 M1073.58 1473.5 H1081.91 M1073.58 1436.5 H1081.91 M1073.58 1418.5 H1081.91 M1073.58 1400.5 H1081.91 M1073.58 1382.5 H1081.91 M1073.58 1345.5 H1081.91 M1073.58 1327.5 H1081.91 M1073.58 1309.5 H1081.91 M1073.58 1291.5 H1081.91 M1073.58 1254.5 H1081.91 M1073.58 1236.5 H1081.91 M1073.58 1218.5 H1081.91 M1073.58 1199.5 H1081.91 M1073.58 1163.5 H1081.91 M1073.58 1145.5 H1081.91 M1073.58 1126.5 H1081.91 M1073.58 1108.5 H1081.91" stroke="#000" stroke-width="2.5"/>
<path d="M1097.5 1637.05 V1651.64 M1126.5 1637.05 V1651.64 M1156.5 1637.05 V1651.64 M1186.5 1637.05 V1651.64 M1215.5 1637.05 V1651.64 M1245.5 1637.05 V1651.64 M1275.5 1637.05 V1651.64 M1305.5 1637.05 V1651.64 M1334.5 1637.05 V1651.64 M1364.5 1637.05 V1651.64 M1394.5 1637.05 V1651.64 M1423.5 1637.05 V1651.64 M1453.5 1637.05 V1651.64" stroke="#000" stroke-width="3.33"/>
<text class="yl" x="1052.75" y="1653.05" font-size="44.15" text-anchor="end" textLength="26.51" lengthAdjust="spacingAndGlyphs">0</text>
<text class="yl" x="1052.75" y="1561.87" font-size="44.15" text-anchor="end" textLength="53.02" lengthAdjust="spacingAndGlyphs">25</text>
<text class="yl" x="1052.75" y="1470.68" font-size="44.15" text-anchor="end" textLength="53.02" lengthAdjust="spacingAndGlyphs">50</text>
<text class="yl" x="1052.75" y="1379.5" font-size="44.15" text-anchor="end" textLength="53.02" lengthAdjust="spacingAndGlyphs">75</text>
<text class="yl" x="1052.75" y="1288.32" font-size="44.15" text-anchor="end" textLength="79.53" lengthAdjust="spacingAndGlyphs">100</text>
<text class="yl" x="1052.75" y="1197.13" font-size="44.15" text-anchor="end" textLength="79.53" lengthAdjust="spacingAndGlyphs">125</text>
<text class="yl" x="1052.75" y="1105.95" font-size="44.15" text-anchor="end" textLength="79.53" lengthAdjust="spacingAndGlyphs">150</text>
<text class="xl" x="1096.76" y="1685.05" font-size="26.49" text-anchor="middle" textLength="31.81" lengthAdjust="spacingAndGlyphs">42</text>
<text class="xl" x="1126.44" y="1685.05" font-size="26.49" text-anchor="middle" textLength="31.81" lengthAdjust="spacingAndGlyphs">43</text>
<text class="xl" x="1156.12" y="1685.05" font-size="26.49" text-anchor="middle" textLength="31.81" lengthAdjust="spacingAndGlyphs">44</text>
<text class="xl" x="1185.8" y="1685.05" font-size="26.49" text-anchor="middle" textLength="31.81" lengthAdjust="spacingAndGlyphs">45</text>
<text class="xl" x="1215.48" y="1685.05" font-size="26.49" text-anchor="middle" textLength="31.81" lengthAdjust="spacingAndGlyphs">46</text>
<text class="xl" x="1245.16" y="1685.05" font-size="26.49" text-anchor="middle" textLength="31.81" lengthAdjust="spacingAndGlyphs">47</text>
<text class="xl" x="1274.84" y="1685.05" font-size="26.49" text-anchor="middle" textLength="31.81" lengthAdjust="spacingAndGlyphs">48</text>
<text class="xl" x="1304.52" y="1685.05" font-size="26.49" text-anchor="middle" textLength="31.81" lengthAdjust="spacingAndGlyphs">49</text>
<text class="xl" x="1334.2" y="1685.05" font-size="26.49" text-anchor="middle" textLength="31.81" lengthAdjust="spacingAndGlyphs">50</text>
<text class="xl" x="1363.88" y="1685.05" font-size="26.49" text-anchor="middle" textLength="31.81" lengthAdjust="spacingAndGlyphs">51</text>
<text class="xl" x="1393.56" y="1685.05" font-size="26.49" text-anchor="middle" textLength="31.81" lengthAdjust="spacingAndGlyphs">52</text>
<text class="xl" x="1423.24" y="1685.05" font-size="26.49" text-anchor="middle" textLength="31.81" lengthAdjust="spacingAndGlyphs">53</text>
<text class="xl" x="1452.93" y="1685.05" font-size="26.49" text-anchor="middle" textLength="31.81" lengthAdjust="spacingAndGlyphs">54</text>
<text class="tt" x="1267.42" y="1064.95" font-size="44.15" text-anchor="middle" textLength="98.35" lengthAdjust="spacingAndGlyphs">1.2D</text>
<g clip-path="url(#c9)" fill="none" stroke-width="4.17" stroke-linejoin="round" stroke-linecap="butt">
<path d="M1616.17 1537.48 L1645.85 1522.89 L1675.53 1476.2 L1705.21 1468.91 L1734.89 1461.25 L1764.57 1476.2 L1794.26 1522.89 L1823.94 1621.37 L1853.62 1855.89" stroke="#3C9554"/>
<path d="M1616.17 1536.39 L1645.85 1500.64 L1675.53 1484.59 L1705.21 1514.14 L1734.89 1560.82 L1764.57 1531.64 L1794.26 1538.94 L1823.94 1545.14 L1853.62 1583.07" stroke="#EFCD48"/>
<path d="M1616.17 1531.64 L1645.85 1471.1 L1675.53 1436.81 L1705.21 1376.63 L1734.89 1332.13 L1764.57 1399.97 L1794.26 1385.02 L1823.94 1345.63 L1853.62 1290.55" stroke="#FC9B26"/>
<path d="M1616.17 1551.34 L1645.85 1570.67 L1675.53 1855.89" stroke="#F84256"/>
<path d="M1616.17 1522.89 L1645.85 1480.95 L1675.53 1462.71 L1705.21 1436.81 L1734.89 1392.68 L1764.57 1392.68 L1794.26 1306.6 L1823.94 1345.63 L1853.62 1426.96" stroke="#65A0E0"/>
<path d="M1616.17 1579.42 L1645.85 1549.88 L1675.53 1549.88 L1705.21 1522.89 L1734.89 1541.49 L1764.57 1567.02 L1794.26 1598.03 L1823.94 1569.58 L1853.62 1559.73" stroke="#9E3536"/>
<path d="M1616.17 1584.53 L1645.85 1579.42 L1675.53 1606.41 L1705.21 1586.72 L1734.89 1575.78 L1764.57 1565.93 L1794.26 1855.89" stroke="#546854"/>
<path d="M1616.17 1573.22 L1645.85 1542.59 L1675.53 1520.34 L1705.21 1468.91 L1734.89 1490.79 L1764.57 1419.67 L1794.26 1366.78 L1823.94 1332.13 L1853.62 1282.89" stroke="#E38EAF"/>
<path d="M1616.17 1584.53 L1645.85 1576.87 L1675.53 1545.14 L1705.21 1581.98 L1734.89 1637.05 L1764.57 1665.5" stroke="#ADC4DA"/>
<path d="M1616.17 1584.53 L1645.85 1567.02 L1675.53 1542.59 L1705.21 1542.59 L1734.89 1517.78 L1764.57 1494.44 L1794.26 1460.16 L1823.94 1460.16 L1853.62 1460.16" stroke="#C8DC7E"/>
<path d="M1616.17 1579.42 L1645.85 1554.99 L1675.53 1527.63 L1705.21 1486.05 L1734.89 1472.56 L1764.57 1472.56 L1794.26 1436.81 L1823.94 1424.41 L1853.62 1424.41" stroke="#A99E26"/>
<path d="M1616.17 1586.72 L1645.85 1576.87 L1675.53 1624.65 L1705.21 1855.89" stroke="#588478"/>
<path d="M1616.17 1602.77 L1645.85 1623.56 L1675.53 1855.89" stroke="#C97858"/>
<path d="M1616.17 1584.53 L1645.85 1584.53 L1675.53 1584.53 L1705.21 1570.67 L1734.89 1557.18 L1764.57 1532.74 L1794.26 1506.84 L1823.94 1453.95 L1853.62 1390.13" stroke="#A67C7C"/>
<path d="M1616.17 1587.81 L1645.85 1611.16 L1675.53 1611.16 L1705.21 1635.23 L1734.89 1855.89" stroke="#587AA8"/>
<path d="M1616.17 1572.13 L1645.85 1532.74 L1675.53 1520.34 L1705.21 1468.91 L1734.89 1441.55 L1764.57 1403.62 L1794.26 1416.02 L1823.94 1388.67 L1853.62 1350.73" stroke="#EA5792"/>
<path d="M1616.17 1584.53 L1645.85 1584.53 L1675.53 1584.53 L1705.21 1584.53 L1734.89 1611.52 L1764.57 1623.56 L1794.26 1855.89" stroke="#A07356"/>
<path d="M1616.17 1579.42 L1645.85 1570.67 L1675.53 1549.88 L1705.21 1483.5 L1734.89 1429.52 L1764.57 1387.57 L1794.26 1350.73 L1823.94 1285.45 L1853.62 1155.6" stroke="#982D50"/>
<path d="M1616.17 1623.56 L1645.85 1855.89" stroke="#9D82AC"/>
<path d="M1616.17 1589.27 L1645.85 1600.94 L1675.53 1855.89" stroke="#08828A"/>
<path d="M1616.17 1611.52 L1645.85 1599.12 L1675.53 1584.53 L1705.21 1623.56 L1734.89 1635.23 L1764.57 1855.89" stroke="#9D52C4"/>
<path d="M1616.17 1596.57 L1645.85 1584.53 L1675.53 1596.57 L1705.21 1611.52 L1734.89 1635.23 L1764.57 1855.89" stroke="#80869A"/>
<path d="M1616.17 1584.53 L1645.85 1545.14 L1675.53 1520.34 L1705.21 1506.84 L1734.89 1441.55 L1764.57 1402.53 L1794.26 1375.17 L1823.94 1349.64 L1853.62 1338.33" stroke="#F16576"/>
<path d="M1616.17 1599.12 L1645.85 1611.52 L1675.53 1855.89" stroke="#4E51B9"/>
<path d="M1616.17 1598.03 L1645.85 1598.03 L1675.53 1622.46 L1705.21 1635.23 L1734.89 1855.89" stroke="#7EDBC6"/>
<path d="M1601.33 1272 H1972.34" stroke="#000" stroke-width="6.25" stroke-dasharray="23.13 10"/>
<path d="M1601.33 1400 H1972.34" stroke="#000" stroke-width="6.25" stroke-dasharray="6.25 10.31"/>
</g>
<rect x="1601.5" y="1090.5" width="371" height="547" fill="none" stroke="#000" stroke-width="3.33" stroke-linejoin="miter"/>
<path d="M1586.75 1637.5 H1601.33 M1586.75 1546.5 H1601.33 M1586.75 1455.5 H1601.33 M1586.75 1364.5 H1601.33 M1586.75 1272.5 H1601.33 M1586.75 1181.5 H1601.33 M1586.75 1090.5 H1601.33" stroke="#000" stroke-width="3.33"/>
<path d="M1593 1619.5 H1601.33 M1593 1601.5 H1601.33 M1593 1582.5 H1601.33 M1593 1564.5 H1601.33 M1593 1528.5 H1601.33 M1593 1509.5 H1601.33 M1593 1491.5 H1601.33 M1593 1473.5 H1601.33 M1593 1436.5 H1601.33 M1593 1418.5 H1601.33 M1593 1400.5 H1601.33 M1593 1382.5 H1601.33 M1593 1345.5 H1601.33 M1593 1327.5 H1601.33 M1593 1309.5 H1601.33 M1593 1291.5 H1601.33 M1593 1254.5 H1601.33 M1593 1236.5 H1601.33 M1593 1218.5 H1601.33 M1593 1199.5 H1601.33 M1593 1163.5 H1601.33 M1593 1145.5 H1601.33 M1593 1126.5 H1601.33 M1593 1108.5 H1601.33" stroke="#000" stroke-width="2.5"/>
<path d="M1616.5 1637.05 V1651.64 M1646.5 1637.05 V1651.64 M1676.5 1637.05 V1651.64 M1705.5 1637.05 V1651.64 M1735.5 1637.05 V1651.64 M1765.5 1637.05 V1651.64 M1794.5 1637.05 V1651.64 M1824.5 1637.05 V1651.64 M1854.5 1637.05 V1651.64 M1883.5 1637.05 V1651.64 M1913.5 1637.05 V1651.64 M1943.5 1637.05 V1651.64 M1972.5 1637.05 V1651.64" stroke="#000" stroke-width="3.33"/>
<text class="yl" x="1572.16" y="1653.05" font-size="44.15" text-anchor="end" textLength="26.51" lengthAdjust="spacingAndGlyphs">0</text>
<text class="yl" x="1572.16" y="1561.87" font-size="44.15" text-anchor="end" textLength="53.02" lengthAdjust="spacingAndGlyphs">25</text>
<text class="yl" x="1572.16" y="1470.68" font-size="44.15" text-anchor="end" textLength="53.02" lengthAdjust="spacingAndGlyphs">50</text>
<text class="yl" x="1572.16" y="1379.5" font-size="44.15" text-anchor="end" textLength="53.02" lengthAdjust="spacingAndGlyphs">75</text>
<text class="yl" x="1572.16" y="1288.32" font-size="44.15" text-anchor="end" textLength="79.53" lengthAdjust="spacingAndGlyphs">100</text>
<text class="yl" x="1572.16" y="1197.13" font-size="44.15" text-anchor="end" textLength="79.53" lengthAdjust="spacingAndGlyphs">125</text>
<text class="yl" x="1572.16" y="1105.95" font-size="44.15" text-anchor="end" textLength="79.53" lengthAdjust="spacingAndGlyphs">150</text>
<text class="xl" x="1616.17" y="1685.05" font-size="26.49" text-anchor="middle" textLength="31.81" lengthAdjust="spacingAndGlyphs">42</text>
<text class="xl" x="1645.85" y="1685.05" font-size="26.49" text-anchor="middle" textLength="31.81" lengthAdjust="spacingAndGlyphs">43</text>
<text class="xl" x="1675.53" y="1685.05" font-size="26.49" text-anchor="middle" textLength="31.81" lengthAdjust="spacingAndGlyphs">44</text>
<text class="xl" x="1705.21" y="1685.05" font-size="26.49" text-anchor="middle" textLength="31.81" lengthAdjust="spacingAndGlyphs">45</text>
<text class="xl" x="1734.89" y="1685.05" font-size="26.49" text-anchor="middle" textLength="31.81" lengthAdjust="spacingAndGlyphs">46</text>
<text class="xl" x="1764.57" y="1685.05" font-size="26.49" text-anchor="middle" textLength="31.81" lengthAdjust="spacingAndGlyphs">47</text>
<text class="xl" x="1794.26" y="1685.05" font-size="26.49" text-anchor="middle" textLength="31.81" lengthAdjust="spacingAndGlyphs">48</text>
<text class="xl" x="1823.94" y="1685.05" font-size="26.49" text-anchor="middle" textLength="31.81" lengthAdjust="spacingAndGlyphs">49</text>
<text class="xl" x="1853.62" y="1685.05" font-size="26.49" text-anchor="middle" textLength="31.81" lengthAdjust="spacingAndGlyphs">50</text>
<text class="xl" x="1883.3" y="1685.05" font-size="26.49" text-anchor="middle" textLength="31.81" lengthAdjust="spacingAndGlyphs">51</text>
<text class="xl" x="1912.98" y="1685.05" font-size="26.49" text-anchor="middle" textLength="31.81" lengthAdjust="spacingAndGlyphs">52</text>
<text class="xl" x="1942.66" y="1685.05" font-size="26.49" text-anchor="middle" textLength="31.81" lengthAdjust="spacingAndGlyphs">53</text>
<text class="xl" x="1972.34" y="1685.05" font-size="26.49" text-anchor="middle" textLength="31.81" lengthAdjust="spacingAndGlyphs">54</text>
<text class="tt" x="1786.84" y="1064.95" font-size="44.15" text-anchor="middle" textLength="92.59" lengthAdjust="spacingAndGlyphs">1.2E</text>
<g clip-path="url(#c10)" fill="none" stroke-width="4.17" stroke-linejoin="round" stroke-linecap="butt">
<path d="M2135.59 1540.03 L2165.27 1564.83 L2194.95 1584.53 L2224.63 1855.89" stroke="#3C9554"/>
<path d="M2135.59 1552.43 L2165.27 1530.18 L2194.95 1515.6 L2224.63 1461.25 L2254.31 1399.97 L2283.99 1363.14 L2313.67 1385.02" stroke="#EFCD48"/>
<path d="M2135.59 1514.14 L2165.27 1471.1 L2194.95 1461.25 L2224.63 1428.06 L2254.31 1436.81 L2283.99 1493.35 L2313.67 1522.89" stroke="#FC9B26"/>
<path d="M2135.59 1540.03 L2165.27 1496.99 L2194.95 1463.8 L2224.63 1453.95 L2254.31 1453.95 L2283.99 1453.95 L2313.67 1471.1" stroke="#F84256"/>
<path d="M2135.59 1559.73 L2165.27 1596.57 L2194.95 1855.89" stroke="#65A0E0"/>
<path d="M2135.59 1558.63 L2165.27 1522.89 L2194.95 1540.03 L2224.63 1473.65 L2254.31 1463.8 L2283.99 1473.65 L2313.67 1502.1" stroke="#9E3536"/>
<path d="M2135.59 1584.53 L2165.27 1621.37 L2194.95 1855.89" stroke="#546854"/>
<path d="M2135.59 1576.87 L2165.27 1574.68 L2194.95 1554.99 L2224.63 1527.63 L2254.31 1489.7 L2283.99 1479.85 L2313.67 1450.31" stroke="#E38EAF"/>
<path d="M2135.59 1572.13 L2165.27 1542.59 L2194.95 1527.63 L2224.63 1502.1 L2254.31 1511.95 L2283.99 1522.89 L2313.67 1511.95" stroke="#ADC4DA"/>
<path d="M2135.59 1576.87 L2165.27 1517.78 L2194.95 1461.25 L2224.63 1436.81 L2254.31 1390.13 L2283.99 1308.79 L2313.67 1166.54" stroke="#C8DC7E"/>
<path d="M2135.59 1611.52 L2165.27 1602.77 L2194.95 1855.89" stroke="#A99E26"/>
<path d="M2135.59 1579.42 L2165.27 1554.99 L2194.95 1517.78 L2224.63 1483.5 L2254.31 1495.9 L2283.99 1508.3 L2313.67 1564.83" stroke="#588478"/>
<path d="M2135.59 1586.72 L2165.27 1564.83 L2194.95 1564.83 L2224.63 1564.83 L2254.31 1542.59 L2283.99 1565.93 L2313.67 1565.93" stroke="#C97858"/>
<path d="M2135.59 1581.98 L2165.27 1584.53 L2194.95 1616.26 L2224.63 1855.89" stroke="#A67C7C"/>
<path d="M2135.59 1583.07 L2165.27 1564.83 L2194.95 1545.14 L2224.63 1545.14 L2254.31 1517.78 L2283.99 1488.6 L2313.67 1429.52" stroke="#587AA8"/>
<path d="M2135.59 1584.53 L2165.27 1574.68 L2194.95 1570.67 L2224.63 1570.67 L2254.31 1559.73 L2283.99 1596.57 L2313.67 1610.06" stroke="#EA5792"/>
<path d="M2135.59 1583.07 L2165.27 1558.63 L2194.95 1558.63 L2224.63 1560.82 L2254.31 1584.53 L2283.99 1598.03 L2313.67 1622.46" stroke="#A07356"/>
<path d="M2135.59 1611.52 L2165.27 1599.12 L2194.95 1621.37 L2224.63 1855.89" stroke="#982D50"/>
<path d="M2135.59 1583.07 L2165.27 1543.68 L2194.95 1531.64 L2224.63 1569.58 L2254.31 1596.57 L2283.99 1621.37 L2313.67 1855.89" stroke="#9D82AC"/>
<path d="M2135.59 1584.53 L2165.27 1584.53 L2194.95 1562.28 L2224.63 1554.99 L2254.31 1546.23" stroke="#08828A"/>
<path d="M2135.59 1583.07 L2165.27 1574.68 L2194.95 1559.73 L2224.63 1558.63 L2254.31 1558.63 L2283.99 1515.6 L2313.67 1441.55" stroke="#9D52C4"/>
<path d="M2135.59 1583.07 L2165.27 1570.67 L2194.95 1562.28 L2224.63 1547.33 L2254.31 1531.64 L2283.99 1493.35 L2313.67 1505.75" stroke="#80869A"/>
<path d="M2135.59 1585.62 L2165.27 1596.57 L2194.95 1584.53 L2224.63 1596.57 L2254.31 1623.56 L2283.99 1623.56 L2313.67 1855.89" stroke="#F16576"/>
<path d="M2135.59 1583.07 L2165.27 1570.67 L2194.95 1570.67 L2224.63 1545.14 L2254.31 1545.14 L2283.99 1519.24 L2313.67 1519.24" stroke="#4E51B9"/>
<path d="M2135.59 1596.57 L2165.27 1584.53 L2194.95 1602.77 L2224.63 1621.37 L2254.31 1855.89" stroke="#7EDBC6"/>
<path d="M2120.74 1272 H2491.76" stroke="#000" stroke-width="6.25" stroke-dasharray="23.13 10"/>
<path d="M2120.74 1400 H2491.76" stroke="#000" stroke-width="6.25" stroke-dasharray="6.25 10.31"/>
</g>
<rect x="2121.5" y="1090.5" width="371" height="547" fill="none" stroke="#000" stroke-width="3.33" stroke-linejoin="miter"/>
<path d="M2106.16 1637.5 H2120.74 M2106.16 1546.5 H2120.74 M2106.16 1455.5 H2120.74 M2106.16 1364.5 H2120.74 M2106.16 1272.5 H2120.74 M2106.16 1181.5 H2120.74 M2106.16 1090.5 H2120.74" stroke="#000" stroke-width="3.33"/>
<path d="M2112.41 1619.5 H2120.74 M2112.41 1601.5 H2120.74 M2112.41 1582.5 H2120.74 M2112.41 1564.5 H2120.74 M2112.41 1528.5 H2120.74 M2112.41 1509.5 H2120.74 M2112.41 1491.5 H2120.74 M2112.41 1473.5 H2120.74 M2112.41 1436.5 H2120.74 M2112.41 1418.5 H2120.74 M2112.41 1400.5 H2120.74 M2112.41 1382.5 H2120.74 M2112.41 1345.5 H2120.74 M2112.41 1327.5 H2120.74 M2112.41 1309.5 H2120.74 M2112.41 1291.5 H2120.74 M2112.41 1254.5 H2120.74 M2112.41 1236.5 H2120.74 M2112.41 1218.5 H2120.74 M2112.41 1199.5 H2120.74 M2112.41 1163.5 H2120.74 M2112.41 1145.5 H2120.74 M2112.41 1126.5 H2120.74 M2112.41 1108.5 H2120.74" stroke="#000" stroke-width="2.5"/>
<path d="M2136.5 1637.05 V1651.64 M2165.5 1637.05 V1651.64 M2195.5 1637.05 V1651.64 M2225.5 1637.05 V1651.64 M2254.5 1637.05 V1651.64 M2284.5 1637.05 V1651.64 M2314.5 1637.05 V1651.64 M2343.5 1637.05 V1651.64 M2373.5 1637.05 V1651.64 M2403.5 1637.05 V1651.64 M2432.5 1637.05 V1651.64 M2462.5 1637.05 V1651.64 M2492.5 1637.05 V1651.64" stroke="#000" stroke-width="3.33"/>
<text class="yl" x="2091.58" y="1653.05" font-size="44.15" text-anchor="end" textLength="26.51" lengthAdjust="spacingAndGlyphs">0</text>
<text class="yl" x="2091.58" y="1561.87" font-size="44.15" text-anchor="end" textLength="53.02" lengthAdjust="spacingAndGlyphs">25</text>
<text class="yl" x="2091.58" y="1470.68" font-size="44.15" text-anchor="end" textLength="53.02" lengthAdjust="spacingAndGlyphs">50</text>
<text class="yl" x="2091.58" y="1379.5" font-size="44.15" text-anchor="end" textLength="53.02" lengthAdjust="spacingAndGlyphs">75</text>
<text class="yl" x="2091.58" y="1288.32" font-size="44.15" text-anchor="end" textLength="79.53" lengthAdjust="spacingAndGlyphs">100</text>
<text class="yl" x="2091.58" y="1197.13" font-size="44.15" text-anchor="end" textLength="79.53" lengthAdjust="spacingAndGlyphs">125</text>
<text class="yl" x="2091.58" y="1105.95" font-size="44.15" text-anchor="end" textLength="79.53" lengthAdjust="spacingAndGlyphs">150</text>
<text class="xl" x="2135.59" y="1685.05" font-size="26.49" text-anchor="middle" textLength="31.81" lengthAdjust="spacingAndGlyphs">42</text>
<text class="xl" x="2165.27" y="1685.05" font-size="26.49" text-anchor="middle" textLength="31.81" lengthAdjust="spacingAndGlyphs">43</text>
<text class="xl" x="2194.95" y="1685.05" font-size="26.49" text-anchor="middle" textLength="31.81" lengthAdjust="spacingAndGlyphs">44</text>
<text class="xl" x="2224.63" y="1685.05" font-size="26.49" text-anchor="middle" textLength="31.81" lengthAdjust="spacingAndGlyphs">45</text>
<text class="xl" x="2254.31" y="1685.05" font-size="26.49" text-anchor="middle" textLength="31.81" lengthAdjust="spacingAndGlyphs">46</text>
<text class="xl" x="2283.99" y="1685.05" font-size="26.49" text-anchor="middle" textLength="31.81" lengthAdjust="spacingAndGlyphs">47</text>
<text class="xl" x="2313.67" y="1685.05" font-size="26.49" text-anchor="middle" textLength="31.81" lengthAdjust="spacingAndGlyphs">48</text>
<text class="xl" x="2343.35" y="1685.05" font-size="26.49" text-anchor="middle" textLength="31.81" lengthAdjust="spacingAndGlyphs">49</text>
<text class="xl" x="2373.03" y="1685.05" font-size="26.49" text-anchor="middle" textLength="31.81" lengthAdjust="spacingAndGlyphs">50</text>
<text class="xl" x="2402.71" y="1685.05" font-size="26.49" text-anchor="middle" textLength="31.81" lengthAdjust="spacingAndGlyphs">51</text>
<text class="xl" x="2432.39" y="1685.05" font-size="26.49" text-anchor="middle" textLength="31.81" lengthAdjust="spacingAndGlyphs">52</text>
<text class="xl" x="2462.07" y="1685.05" font-size="26.49" text-anchor="middle" textLength="31.81" lengthAdjust="spacingAndGlyphs">53</text>
<text class="xl" x="2491.76" y="1685.05" font-size="26.49" text-anchor="middle" textLength="31.81" lengthAdjust="spacingAndGlyphs">54</text>
<text class="tt" x="2306.25" y="1064.95" font-size="44.15" text-anchor="middle" textLength="90.23" lengthAdjust="spacingAndGlyphs">1.2F</text>
<g clip-path="url(#c11)" fill="none" stroke-width="4.17" stroke-linejoin="round" stroke-linecap="butt">
<path d="M2655 1547.33 L2684.68 1552.43 L2714.36 1530.18 L2744.04 1522.89 L2773.72 1545.14 L2803.4 1552.43 L2833.09 1598.03" stroke="#3C9554"/>
<path d="M2655 1529.09 L2684.68 1508.3 L2714.36 1483.5 L2744.04 1446.66 L2773.72 1380.28 L2803.4 1316.45 L2833.09 1220.52" stroke="#EFCD48"/>
<path d="M2655 1514.14 L2684.68 1453.95 L2714.36 1436.81 L2744.04 1412.37 L2773.72 1360.58 L2803.4 1302.22 L2833.09 1212.13" stroke="#FC9B26"/>
<path d="M2655 1549.88 L2684.68 1542.59 L2714.36 1611.52 L2744.04 1855.89" stroke="#F84256"/>
<path d="M2655 1569.58 L2684.68 1855.89" stroke="#65A0E0"/>
<path d="M2655 1548.79 L2684.68 1483.5 L2714.36 1453.95 L2744.04 1390.13 L2773.72 1329.94 L2803.4 1234.02 L2833.09 1205.2" stroke="#9E3536"/>
<path d="M2655 1627.57 L2684.68 1855.89" stroke="#546854"/>
<path d="M2655 1576.87 L2684.68 1626.11 L2714.36 1855.89" stroke="#E38EAF"/>
<path d="M2655 1563.38 L2684.68 1547.33 L2714.36 1525.44 L2744.04 1502.1 L2773.72 1449.21 L2803.4 1386.48 L2833.09 1417.12" stroke="#ADC4DA"/>
<path d="M2655 1579.42 L2684.68 1549.88 L2714.36 1476.2 L2744.04 1424.41 L2773.72 1370.43 L2803.4 1304.05 L2833.09 1213.96" stroke="#C8DC7E"/>
<path d="M2655 1600.21 L2684.68 1590.37 L2714.36 1590.37 L2744.04 1590.37 L2773.72 1611.52 L2803.4 1855.89" stroke="#A99E26"/>
<path d="M2655 1583.07 L2684.68 1542.59 L2714.36 1564.83 L2744.04 1578.33 L2773.72 1600.21 L2803.4 1855.89" stroke="#588478"/>
<path d="M2655 1599.12 L2684.68 1554.99 L2714.36 1542.59 L2744.04 1554.99 L2773.72 1633.41 L2803.4 1855.89" stroke="#C97858"/>
<path d="M2655 1586.72 L2684.68 1611.52 L2714.36 1611.52 L2744.04 1623.56 L2773.72 1637.05" stroke="#A67C7C"/>
<path d="M2655 1581.98 L2684.68 1586.72 L2714.36 1855.89" stroke="#587AA8"/>
<path d="M2655 1584.53 L2684.68 1572.13 L2714.36 1554.99 L2744.04 1532.74 L2773.72 1532.74 L2803.4 1558.63 L2833.09 1570.67" stroke="#EA5792"/>
<path d="M2655 1581.98 L2684.68 1531.64 L2714.36 1519.24 L2744.04 1506.84 L2773.72 1559.73 L2803.4 1611.52 L2833.09 1855.89" stroke="#A07356"/>
<path d="M2655 1611.52 L2684.68 1611.52 L2714.36 1855.89" stroke="#982D50"/>
<path d="M2655 1583.07 L2684.68 1584.53 L2714.36 1598.03 L2744.04 1611.52 L2773.72 1855.89" stroke="#9D82AC"/>
<path d="M2655 1598.03 L2684.68 1586.72 L2714.36 1559.73 L2744.04 1572.13 L2773.72 1584.53 L2803.4 1584.53 L2833.09 1598.03" stroke="#08828A"/>
<path d="M2655 1584.53 L2684.68 1574.68 L2714.36 1545.14 L2744.04 1558.63 L2773.72 1611.52 L2803.4 1855.89" stroke="#9D52C4"/>
<path d="M2655 1584.53 L2684.68 1584.53 L2714.36 1557.18 L2744.04 1502.1 L2773.72 1479.85 L2803.4 1519.24 L2833.09 1570.67" stroke="#80869A"/>
<path d="M2655 1584.53 L2684.68 1570.67 L2714.36 1599.12 L2744.04 1855.89" stroke="#F16576"/>
<path d="M2655 1583.07 L2684.68 1493.35 L2714.36 1479.85 L2744.04 1441.55 L2773.72 1388.67 L2803.4 1376.63 L2833.09 1388.67" stroke="#4E51B9"/>
<path d="M2655 1585.62 L2684.68 1623.56 L2714.36 1623.56 L2744.04 1611.52 L2773.72 1855.89" stroke="#7EDBC6"/>
<path d="M2640.16 1272 H3011.17" stroke="#000" stroke-width="6.25" stroke-dasharray="23.13 10"/>
<path d="M2640.16 1400 H3011.17" stroke="#000" stroke-width="6.25" stroke-dasharray="6.25 10.31"/>
</g>
<rect x="2640.5" y="1090.5" width="371" height="547" fill="none" stroke="#000" stroke-width="3.33" stroke-linejoin="miter"/>
<path d="M2625.58 1637.5 H2640.16 M2625.58 1546.5 H2640.16 M2625.58 1455.5 H2640.16 M2625.58 1364.5 H2640.16 M2625.58 1272.5 H2640.16 M2625.58 1181.5 H2640.16 M2625.58 1090.5 H2640.16" stroke="#000" stroke-width="3.33"/>
<path d="M2631.83 1619.5 H2640.16 M2631.83 1601.5 H2640.16 M2631.83 1582.5 H2640.16 M2631.83 1564.5 H2640.16 M2631.83 1528.5 H2640.16 M2631.83 1509.5 H2640.16 M2631.83 1491.5 H2640.16 M2631.83 1473.5 H2640.16 M2631.83 1436.5 H2640.16 M2631.83 1418.5 H2640.16 M2631.83 1400.5 H2640.16 M2631.83 1382.5 H2640.16 M2631.83 1345.5 H2640.16 M2631.83 1327.5 H2640.16 M2631.83 1309.5 H2640.16 M2631.83 1291.5 H2640.16 M2631.83 1254.5 H2640.16 M2631.83 1236.5 H2640.16 M2631.83 1218.5 H2640.16 M2631.83 1199.5 H2640.16 M2631.83 1163.5 H2640.16 M2631.83 1145.5 H2640.16 M2631.83 1126.5 H2640.16 M2631.83 1108.5 H2640.16" stroke="#000" stroke-width="2.5"/>
<path d="M2655.5 1637.05 V1651.64 M2685.5 1637.05 V1651.64 M2714.5 1637.05 V1651.64 M2744.5 1637.05 V1651.64 M2774.5 1637.05 V1651.64 M2803.5 1637.05 V1651.64 M2833.5 1637.05 V1651.64 M2863.5 1637.05 V1651.64 M2892.5 1637.05 V1651.64 M2922.5 1637.05 V1651.64 M2952.5 1637.05 V1651.64 M2981.5 1637.05 V1651.64 M3011.5 1637.05 V1651.64" stroke="#000" stroke-width="3.33"/>
<text class="yl" x="2610.99" y="1653.05" font-size="44.15" text-anchor="end" textLength="26.51" lengthAdjust="spacingAndGlyphs">0</text>
<text class="yl" x="2610.99" y="1561.87" font-size="44.15" text-anchor="end" textLength="53.02" lengthAdjust="spacingAndGlyphs">25</text>
<text class="yl" x="2610.99" y="1470.68" font-size="44.15" text-anchor="end" textLength="53.02" lengthAdjust="spacingAndGlyphs">50</text>
<text class="yl" x="2610.99" y="1379.5" font-size="44.15" text-anchor="end" textLength="53.02" lengthAdjust="spacingAndGlyphs">75</text>
<text class="yl" x="2610.99" y="1288.32" font-size="44.15" text-anchor="end" textLength="79.53" lengthAdjust="spacingAndGlyphs">100</text>
<text class="yl" x="2610.99" y="1197.13" font-size="44.15" text-anchor="end" textLength="79.53" lengthAdjust="spacingAndGlyphs">125</text>
<text class="yl" x="2610.99" y="1105.95" font-size="44.15" text-anchor="end" textLength="79.53" lengthAdjust="spacingAndGlyphs">150</text>
<text class="xl" x="2655" y="1685.05" font-size="26.49" text-anchor="middle" textLength="31.81" lengthAdjust="spacingAndGlyphs">42</text>
<text class="xl" x="2684.68" y="1685.05" font-size="26.49" text-anchor="middle" textLength="31.81" lengthAdjust="spacingAndGlyphs">43</text>
<text class="xl" x="2714.36" y="1685.05" font-size="26.49" text-anchor="middle" textLength="31.81" lengthAdjust="spacingAndGlyphs">44</text>
<text class="xl" x="2744.04" y="1685.05" font-size="26.49" text-anchor="middle" textLength="31.81" lengthAdjust="spacingAndGlyphs">45</text>
<text class="xl" x="2773.72" y="1685.05" font-size="26.49" text-anchor="middle" textLength="31.81" lengthAdjust="spacingAndGlyphs">46</text>
<text class="xl" x="2803.4" y="1685.05" font-size="26.49" text-anchor="middle" textLength="31.81" lengthAdjust="spacingAndGlyphs">47</text>
<text class="xl" x="2833.09" y="1685.05" font-size="26.49" text-anchor="middle" textLength="31.81" lengthAdjust="spacingAndGlyphs">48</text>
<text class="xl" x="2862.77" y="1685.05" font-size="26.49" text-anchor="middle" textLength="31.81" lengthAdjust="spacingAndGlyphs">49</text>
<text class="xl" x="2892.45" y="1685.05" font-size="26.49" text-anchor="middle" textLength="31.81" lengthAdjust="spacingAndGlyphs">50</text>
<text class="xl" x="2922.13" y="1685.05" font-size="26.49" text-anchor="middle" textLength="31.81" lengthAdjust="spacingAndGlyphs">51</text>
<text class="xl" x="2951.81" y="1685.05" font-size="26.49" text-anchor="middle" textLength="31.81" lengthAdjust="spacingAndGlyphs">52</text>
<text class="xl" x="2981.49" y="1685.05" font-size="26.49" text-anchor="middle" textLength="31.81" lengthAdjust="spacingAndGlyphs">53</text>
<text class="xl" x="3011.17" y="1685.05" font-size="26.49" text-anchor="middle" textLength="31.81" lengthAdjust="spacingAndGlyphs">54</text>
<text class="tt" x="2825.66" y="1064.95" font-size="44.15" text-anchor="middle" textLength="98.55" lengthAdjust="spacingAndGlyphs">1.2G</text>
<g clip-path="url(#c12)" fill="none" stroke-width="4.17" stroke-linejoin="round" stroke-linecap="butt">
<path d="M3174.41 1552.43 L3204.1 1530.18 L3233.78 1537.48 L3263.46 1537.48 L3293.14 1560.82 L3322.82 1560.82 L3352.5 1575.78" stroke="#3C9554"/>
<path d="M3174.41 1569.58 L3204.1 1592.19 L3233.78 1620.64 L3263.46 1855.89" stroke="#EFCD48"/>
<path d="M3174.41 1548.79 L3204.1 1515.6 L3233.78 1461.25 L3263.46 1419.67 L3293.14 1402.53 L3322.82 1385.02 L3352.5 1435.72" stroke="#FC9B26"/>
<path d="M3174.41 1531.64 L3204.1 1496.99 L3233.78 1453.95 L3263.46 1383.93 L3293.14 1340.89 L3322.82 1323.74 L3352.5 1246.78" stroke="#F84256"/>
<path d="M3174.41 1541.49 L3204.1 1561.92 L3233.78 1618.09 L3263.46 1618.09 L3293.14 1855.89" stroke="#65A0E0"/>
<path d="M3174.41 1579.42 L3204.1 1589.27 L3233.78 1616.26 L3263.46 1635.96 L3293.14 1855.89" stroke="#9E3536"/>
<path d="M3174.41 1564.83 L3204.1 1545.14 L3233.78 1530.18 L3263.46 1515.6 L3293.14 1557.18 L3322.82 1637.05 L3352.5 1855.89" stroke="#546854"/>
<path d="M3174.41 1559.73 L3204.1 1532.74 L3233.78 1522.89 L3263.46 1502.1 L3293.14 1479.85 L3322.82 1479.85 L3352.5 1471.1" stroke="#E38EAF"/>
<path d="M3174.41 1562.28 L3204.1 1554.99 L3233.78 1521.8 L3263.46 1529.09 L3293.14 1511.95 L3322.82 1531.64 L3352.5 1563.38" stroke="#ADC4DA"/>
<path d="M3174.41 1583.07 L3204.1 1576.87 L3233.78 1576.87 L3263.46 1612.62 L3293.14 1612.62 L3322.82 1625.02 L3352.5 1625.02" stroke="#C8DC7E"/>
<path d="M3174.41 1589.27 L3204.1 1584.53 L3233.78 1567.02 L3263.46 1542.59 L3293.14 1506.84 L3322.82 1483.5 L3352.5 1437.91" stroke="#A99E26"/>
<path d="M3174.41 1576.87 L3204.1 1564.83 L3233.78 1530.18 L3263.46 1530.18 L3293.14 1530.18 L3322.82 1506.84 L3352.5 1506.84" stroke="#588478"/>
<path d="M3174.41 1599.12 L3204.1 1589.27 L3233.78 1601.67 L3263.46 1618.82 L3293.14 1633.41 L3322.82 1855.89" stroke="#C97858"/>
<path d="M3174.41 1584.53 L3204.1 1554.99 L3233.78 1505.75 L3263.46 1494.44 L3293.14 1467.45 L3322.82 1428.06 L3352.5 1402.53" stroke="#A67C7C"/>
<path d="M3174.41 1577.24 L3204.1 1559.73 L3233.78 1570.67 L3263.46 1596.57 L3293.14 1621.37 L3322.82 1855.89" stroke="#587AA8"/>
<path d="M3174.41 1584.53 L3204.1 1579.42 L3233.78 1558.63 L3263.46 1532.74 L3293.14 1532.74 L3322.82 1506.84 L3352.5 1455.41" stroke="#EA5792"/>
<path d="M3174.41 1610.06 L3204.1 1591.83 L3233.78 1599.12 L3263.46 1616.26 L3293.14 1631.22 L3322.82 1599.12 L3352.5 1598.03" stroke="#A07356"/>
<path d="M3174.41 1579.42 L3204.1 1547.33 L3233.78 1505.75 L3263.46 1466.36 L3293.14 1428.06 L3322.82 1414.56 L3352.5 1377.72" stroke="#982D50"/>
<path d="M3174.41 1583.07 L3204.1 1569.58 L3233.78 1558.63 L3263.46 1558.63 L3293.14 1570.67 L3322.82 1596.57 L3352.5 1622.46" stroke="#9D82AC"/>
<path d="M3174.41 1598.03 L3204.1 1611.52 L3233.78 1855.89" stroke="#08828A"/>
<path d="M3174.41 1583.07 L3204.1 1570.67 L3233.78 1611.52 L3263.46 1633.41 L3293.14 1855.89" stroke="#9D52C4"/>
<path d="M3174.41 1583.07 L3204.1 1554.99 L3233.78 1532.74 L3263.46 1584.53 L3293.14 1584.53 L3322.82 1545.14 L3352.5 1532.74" stroke="#80869A"/>
<path d="M3174.41 1586.72 L3204.1 1591.83 L3233.78 1611.52 L3263.46 1633.41 L3293.14 1623.56 L3322.82 1584.53 L3352.5 1584.53" stroke="#F16576"/>
<path d="M3174.41 1599.12 L3204.1 1623.56 L3233.78 1645.81" stroke="#4E51B9"/>
<path d="M3174.41 1584.53 L3204.1 1584.53 L3233.78 1584.53 L3263.46 1557.18 L3293.14 1532.74 L3322.82 1545.14 L3352.5 1584.53" stroke="#7EDBC6"/>
<path d="M3159.57 1272 H3530.59" stroke="#000" stroke-width="6.25" stroke-dasharray="23.13 10"/>
<path d="M3159.57 1400 H3530.59" stroke="#000" stroke-width="6.25" stroke-dasharray="6.25 10.31"/>
</g>
<rect x="3160.5" y="1090.5" width="371" height="547" fill="none" stroke="#000" stroke-width="3.33" stroke-linejoin="miter"/>
<path d="M3144.99 1637.5 H3159.57 M3144.99 1546.5 H3159.57 M3144.99 1455.5 H3159.57 M3144.99 1364.5 H3159.57 M3144.99 1272.5 H3159.57 M3144.99 1181.5 H3159.57 M3144.99 1090.5 H3159.57" stroke="#000" stroke-width="3.33"/>
<path d="M3151.24 1619.5 H3159.57 M3151.24 1601.5 H3159.57 M3151.24 1582.5 H3159.57 M3151.24 1564.5 H3159.57 M3151.24 1528.5 H3159.57 M3151.24 1509.5 H3159.57 M3151.24 1491.5 H3159.57 M3151.24 1473.5 H3159.57 M3151.24 1436.5 H3159.57 M3151.24 1418.5 H3159.57 M3151.24 1400.5 H3159.57 M3151.24 1382.5 H3159.57 M3151.24 1345.5 H3159.57 M3151.24 1327.5 H3159.57 M3151.24 1309.5 H3159.57 M3151.24 1291.5 H3159.57 M3151.24 1254.5 H3159.57 M3151.24 1236.5 H3159.57 M3151.24 1218.5 H3159.57 M3151.24 1199.5 H3159.57 M3151.24 1163.5 H3159.57 M3151.24 1145.5 H3159.57 M3151.24 1126.5 H3159.57 M3151.24 1108.5 H3159.57" stroke="#000" stroke-width="2.5"/>
<path d="M3174.5 1637.05 V1651.64 M3204.5 1637.05 V1651.64 M3234.5 1637.05 V1651.64 M3263.5 1637.05 V1651.64 M3293.5 1637.05 V1651.64 M3323.5 1637.05 V1651.64 M3353.5 1637.05 V1651.64 M3382.5 1637.05 V1651.64 M3412.5 1637.05 V1651.64 M3442.5 1637.05 V1651.64 M3471.5 1637.05 V1651.64 M3501.5 1637.05 V1651.64 M3531.5 1637.05 V1651.64" stroke="#000" stroke-width="3.33"/>
<text class="yl" x="3130.41" y="1653.05" font-size="44.15" text-anchor="end" textLength="26.51" lengthAdjust="spacingAndGlyphs">0</text>
<text class="yl" x="3130.41" y="1561.87" font-size="44.15" text-anchor="end" textLength="53.02" lengthAdjust="spacingAndGlyphs">25</text>
<text class="yl" x="3130.41" y="1470.68" font-size="44.15" text-anchor="end" textLength="53.02" lengthAdjust="spacingAndGlyphs">50</text>
<text class="yl" x="3130.41" y="1379.5" font-size="44.15" text-anchor="end" textLength="53.02" lengthAdjust="spacingAndGlyphs">75</text>
<text class="yl" x="3130.41" y="1288.32" font-size="44.15" text-anchor="end" textLength="79.53" lengthAdjust="spacingAndGlyphs">100</text>
<text class="yl" x="3130.41" y="1197.13" font-size="44.15" text-anchor="end" textLength="79.53" lengthAdjust="spacingAndGlyphs">125</text>
<text class="yl" x="3130.41" y="1105.95" font-size="44.15" text-anchor="end" textLength="79.53" lengthAdjust="spacingAndGlyphs">150</text>
<text class="xl" x="3174.41" y="1685.05" font-size="26.49" text-anchor="middle" textLength="31.81" lengthAdjust="spacingAndGlyphs">42</text>
<text class="xl" x="3204.1" y="1685.05" font-size="26.49" text-anchor="middle" textLength="31.81" lengthAdjust="spacingAndGlyphs">43</text>
<text class="xl" x="3233.78" y="1685.05" font-size="26.49" text-anchor="middle" textLength="31.81" lengthAdjust="spacingAndGlyphs">44</text>
<text class="xl" x="3263.46" y="1685.05" font-size="26.49" text-anchor="middle" textLength="31.81" lengthAdjust="spacingAndGlyphs">45</text>
<text class="xl" x="3293.14" y="1685.05" font-size="26.49" text-anchor="middle" textLength="31.81" lengthAdjust="spacingAndGlyphs">46</text>
<text class="xl" x="3322.82" y="1685.05" font-size="26.49" text-anchor="middle" textLength="31.81" lengthAdjust="spacingAndGlyphs">47</text>
<text class="xl" x="3352.5" y="1685.05" font-size="26.49" text-anchor="middle" textLength="31.81" lengthAdjust="spacingAndGlyphs">48</text>
<text class="xl" x="3382.18" y="1685.05" font-size="26.49" text-anchor="middle" textLength="31.81" lengthAdjust="spacingAndGlyphs">49</text>
<text class="xl" x="3411.86" y="1685.05" font-size="26.49" text-anchor="middle" textLength="31.81" lengthAdjust="spacingAndGlyphs">50</text>
<text class="xl" x="3441.54" y="1685.05" font-size="26.49" text-anchor="middle" textLength="31.81" lengthAdjust="spacingAndGlyphs">51</text>
<text class="xl" x="3471.22" y="1685.05" font-size="26.49" text-anchor="middle" textLength="31.81" lengthAdjust="spacingAndGlyphs">52</text>
<text class="xl" x="3500.9" y="1685.05" font-size="26.49" text-anchor="middle" textLength="31.81" lengthAdjust="spacingAndGlyphs">53</text>
<text class="xl" x="3530.59" y="1685.05" font-size="26.49" text-anchor="middle" textLength="31.81" lengthAdjust="spacingAndGlyphs">54</text>
<text class="tt" x="3345.08" y="1064.95" font-size="44.15" text-anchor="middle" textLength="97.6" lengthAdjust="spacingAndGlyphs">1.2H</text>
<g clip-path="url(#c13)" fill="none" stroke-width="4.17" stroke-linejoin="round" stroke-linecap="butt">
<path d="M3693.83 1543.68 L3723.51 1522.89 L3753.19 1535.29 L3782.87 1573.22 L3812.55 1545.14 L3842.23 1537.48 L3871.91 1552.43 L3901.6 1537.48 L3931.28 1522.89 L3960.96 1606.41" stroke="#3C9554"/>
<path d="M3693.83 1576.87 L3723.51 1586.72 L3753.19 1855.89" stroke="#EFCD48"/>
<path d="M3693.83 1531.64 L3723.51 1488.6 L3753.19 1532.74 L3782.87 1591.83 L3812.55 1855.89" stroke="#FC9B26"/>
<path d="M3693.83 1522.89 L3723.51 1496.99 L3753.19 1489.7 L3782.87 1436.81 L3812.55 1419.67 L3842.23 1377.72 L3871.91 1419.67 L3901.6 1419.67 L3931.28 1410.92 L3960.96 1377.72" stroke="#F84256"/>
<path d="M3693.83 1567.02 L3723.51 1589.27 L3753.19 1591.83 L3782.87 1855.89" stroke="#65A0E0"/>
<path d="M3693.83 1558.63 L3723.51 1532.74 L3753.19 1506.84 L3782.87 1483.5 L3812.55 1483.5 L3842.23 1473.65 L3871.91 1473.65 L3901.6 1513.04 L3931.28 1591.83 L3960.96 1855.89" stroke="#9E3536"/>
<path d="M3693.83 1594.38 L3723.51 1596.57 L3753.19 1596.57 L3782.87 1585.62 L3812.55 1585.62 L3842.23 1616.26 L3871.91 1855.89" stroke="#546854"/>
<path d="M3693.83 1572.13 L3723.51 1554.99 L3753.19 1520.34 L3782.87 1468.91 L3812.55 1459.06 L3842.23 1439.37 L3871.91 1418.21 L3901.6 1439.37 L3931.28 1490.79 L3960.96 1510.49" stroke="#E38EAF"/>
<path d="M3693.83 1563.38 L3723.51 1553.53 L3753.19 1584.53 L3782.87 1564.83 L3812.55 1532.74 L3842.23 1532.74 L3871.91 1532.74 L3901.6 1584.53 L3931.28 1616.26 L3960.96 1855.89" stroke="#ADC4DA"/>
<path d="M3693.83 1581.98 L3723.51 1567.02 L3753.19 1554.99 L3782.87 1542.59 L3812.55 1532.74 L3842.23 1519.24 L3871.91 1495.9 L3901.6 1483.5 L3931.28 1483.5 L3960.96 1425.87" stroke="#C8DC7E"/>
<path d="M3693.83 1600.21 L3723.51 1581.98 L3753.19 1569.58 L3782.87 1508.3 L3812.55 1459.06 L3842.23 1412.37 L3871.91 1390.13 L3901.6 1308.79 L3931.28 1236.94 L3960.96 1225.63" stroke="#A99E26"/>
<path d="M3693.83 1591.83 L3723.51 1596.57 L3753.19 1599.12 L3782.87 1618.82 L3812.55 1855.89" stroke="#588478"/>
<path d="M3693.83 1586.72 L3723.51 1564.83 L3753.19 1564.83 L3782.87 1579.42 L3812.55 1601.67 L3842.23 1601.67 L3871.91 1601.67 L3901.6 1626.11 L3931.28 1855.89" stroke="#C97858"/>
<path d="M3693.83 1611.52 L3723.51 1611.52 L3753.19 1628.66 L3782.87 1855.89" stroke="#A67C7C"/>
<path d="M3693.83 1594.38 L3723.51 1589.27 L3753.19 1599.12 L3782.87 1623.56 L3812.55 1855.89" stroke="#587AA8"/>
<path d="M3693.83 1584.53 L3723.51 1574.68 L3753.19 1570.67 L3782.87 1558.63 L3812.55 1570.67 L3842.23 1570.67 L3871.91 1594.38 L3901.6 1633.41 L3931.28 1596.57 L3960.96 1572.13" stroke="#EA5792"/>
<path d="M3693.83 1586.72 L3723.51 1530.18 L3753.19 1505.75 L3782.87 1480.95 L3812.55 1453.95 L3842.23 1453.95 L3871.91 1401.07 L3901.6 1401.07 L3931.28 1388.67 L3960.96 1337.24" stroke="#A07356"/>
<path d="M3693.83 1581.98 L3723.51 1574.68 L3753.19 1558.63 L3782.87 1533.83 L3812.55 1520.34 L3842.23 1494.44 L3871.91 1459.06 L3901.6 1426.96 L3931.28 1365.32 L3960.96 1311.34" stroke="#982D50"/>
<path d="M3693.83 1591.83 L3723.51 1567.02 L3753.19 1519.24 L3782.87 1519.24 L3812.55 1532.74 L3842.23 1519.24 L3871.91 1601.67 L3901.6 1855.89" stroke="#9D82AC"/>
<path d="M3693.83 1583.07 L3723.51 1576.87 L3753.19 1570.67 L3782.87 1520.34 L3812.55 1505.75 L3842.23 1493.35 L3871.91 1479.85 L3901.6 1479.85 L3931.28 1479.85 L3960.96 1455.41" stroke="#08828A"/>
<path d="M3693.83 1583.07 L3723.51 1532.74 L3753.19 1486.05 L3782.87 1429.52 L3812.55 1363.14 L3842.23 1376.63 L3871.91 1337.24 L3901.6 1258.82 L3931.28 1219.06 L3960.96 1038.88" stroke="#9D52C4"/>
<path d="M3693.83 1596.57 L3723.51 1554.99 L3753.19 1532.74 L3782.87 1520.34 L3812.55 1508.3 L3842.23 1494.44 L3871.91 1455.41 L3901.6 1416.02 L3931.28 1441.55 L3960.96 1453.95" stroke="#80869A"/>
<path d="M3693.83 1584.53 L3723.51 1584.53 L3753.19 1596.57 L3782.87 1855.89" stroke="#F16576"/>
<path d="M3693.83 1598.03 L3723.51 1598.03 L3753.19 1855.89" stroke="#4E51B9"/>
<path d="M3693.83 1583.07 L3723.51 1570.67 L3753.19 1545.14 L3782.87 1506.84 L3812.55 1493.35 L3842.23 1479.85 L3871.91 1453.95 L3901.6 1390.13 L3931.28 1337.24 L3960.96 1401.07" stroke="#7EDBC6"/>
<path d="M3678.99 1272 H4050" stroke="#000" stroke-width="6.25" stroke-dasharray="23.13 10"/>
<path d="M3678.99 1400 H4050" stroke="#000" stroke-width="6.25" stroke-dasharray="6.25 10.31"/>
</g>
<rect x="3679.5" y="1090.5" width="371" height="547" fill="none" stroke="#000" stroke-width="3.33" stroke-linejoin="miter"/>
<path d="M3664.41 1637.5 H3678.99 M3664.41 1546.5 H3678.99 M3664.41 1455.5 H3678.99 M3664.41 1364.5 H3678.99 M3664.41 1272.5 H3678.99 M3664.41 1181.5 H3678.99 M3664.41 1090.5 H3678.99" stroke="#000" stroke-width="3.33"/>
<path d="M3670.66 1619.5 H3678.99 M3670.66 1601.5 H3678.99 M3670.66 1582.5 H3678.99 M3670.66 1564.5 H3678.99 M3670.66 1528.5 H3678.99 M3670.66 1509.5 H3678.99 M3670.66 1491.5 H3678.99 M3670.66 1473.5 H3678.99 M3670.66 1436.5 H3678.99 M3670.66 1418.5 H3678.99 M3670.66 1400.5 H3678.99 M3670.66 1382.5 H3678.99 M3670.66 1345.5 H3678.99 M3670.66 1327.5 H3678.99 M3670.66 1309.5 H3678.99 M3670.66 1291.5 H3678.99 M3670.66 1254.5 H3678.99 M3670.66 1236.5 H3678.99 M3670.66 1218.5 H3678.99 M3670.66 1199.5 H3678.99 M3670.66 1163.5 H3678.99 M3670.66 1145.5 H3678.99 M3670.66 1126.5 H3678.99 M3670.66 1108.5 H3678.99" stroke="#000" stroke-width="2.5"/>
<path d="M3694.5 1637.05 V1651.64 M3724.5 1637.05 V1651.64 M3753.5 1637.05 V1651.64 M3783.5 1637.05 V1651.64 M3813.5 1637.05 V1651.64 M3842.5 1637.05 V1651.64 M3872.5 1637.05 V1651.64 M3902.5 1637.05 V1651.64 M3931.5 1637.05 V1651.64 M3961.5 1637.05 V1651.64 M3991.5 1637.05 V1651.64 M4020.5 1637.05 V1651.64 M4050.5 1637.05 V1651.64" stroke="#000" stroke-width="3.33"/>
<text class="yl" x="3649.82" y="1653.05" font-size="44.15" text-anchor="end" textLength="26.51" lengthAdjust="spacingAndGlyphs">0</text>
<text class="yl" x="3649.82" y="1561.87" font-size="44.15" text-anchor="end" textLength="53.02" lengthAdjust="spacingAndGlyphs">25</text>
<text class="yl" x="3649.82" y="1470.68" font-size="44.15" text-anchor="end" textLength="53.02" lengthAdjust="spacingAndGlyphs">50</text>
<text class="yl" x="3649.82" y="1379.5" font-size="44.15" text-anchor="end" textLength="53.02" lengthAdjust="spacingAndGlyphs">75</text>
<text class="yl" x="3649.82" y="1288.32" font-size="44.15" text-anchor="end" textLength="79.53" lengthAdjust="spacingAndGlyphs">100</text>
<text class="yl" x="3649.82" y="1197.13" font-size="44.15" text-anchor="end" textLength="79.53" lengthAdjust="spacingAndGlyphs">125</text>
<text class="yl" x="3649.82" y="1105.95" font-size="44.15" text-anchor="end" textLength="79.53" lengthAdjust="spacingAndGlyphs">150</text>
<text class="xl" x="3693.83" y="1685.05" font-size="26.49" text-anchor="middle" textLength="31.81" lengthAdjust="spacingAndGlyphs">42</text>
<text class="xl" x="3723.51" y="1685.05" font-size="26.49" text-anchor="middle" textLength="31.81" lengthAdjust="spacingAndGlyphs">43</text>
<text class="xl" x="3753.19" y="1685.05" font-size="26.49" text-anchor="middle" textLength="31.81" lengthAdjust="spacingAndGlyphs">44</text>
<text class="xl" x="3782.87" y="1685.05" font-size="26.49" text-anchor="middle" textLength="31.81" lengthAdjust="spacingAndGlyphs">45</text>
<text class="xl" x="3812.55" y="1685.05" font-size="26.49" text-anchor="middle" textLength="31.81" lengthAdjust="spacingAndGlyphs">46</text>
<text class="xl" x="3842.23" y="1685.05" font-size="26.49" text-anchor="middle" textLength="31.81" lengthAdjust="spacingAndGlyphs">47</text>
<text class="xl" x="3871.91" y="1685.05" font-size="26.49" text-anchor="middle" textLength="31.81" lengthAdjust="spacingAndGlyphs">48</text>
<text class="xl" x="3901.6" y="1685.05" font-size="26.49" text-anchor="middle" textLength="31.81" lengthAdjust="spacingAndGlyphs">49</text>
<text class="xl" x="3931.28" y="1685.05" font-size="26.49" text-anchor="middle" textLength="31.81" lengthAdjust="spacingAndGlyphs">50</text>
<text class="xl" x="3960.96" y="1685.05" font-size="26.49" text-anchor="middle" textLength="31.81" lengthAdjust="spacingAndGlyphs">51</text>
<text class="xl" x="3990.64" y="1685.05" font-size="26.49" text-anchor="middle" textLength="31.81" lengthAdjust="spacingAndGlyphs">52</text>
<text class="xl" x="4020.32" y="1685.05" font-size="26.49" text-anchor="middle" textLength="31.81" lengthAdjust="spacingAndGlyphs">53</text>
<text class="xl" x="4050" y="1685.05" font-size="26.49" text-anchor="middle" textLength="31.81" lengthAdjust="spacingAndGlyphs">54</text>
<text class="tt" x="3864.49" y="1064.95" font-size="44.15" text-anchor="middle" textLength="78.55" lengthAdjust="spacingAndGlyphs">1.2I</text>
<g clip-path="url(#c14)" fill="none" stroke-width="4.17" stroke-linejoin="round" stroke-linecap="butt">
<path d="M577.34 2305.98 L607.02 2318.38 L636.7 2319.48 L666.38 2387.32 L696.06 2421.6" stroke="#3C9554"/>
<path d="M577.34 2303.79 L607.02 2303.79 L636.7 2308.53 L666.38 2334.43 L696.06 2334.43 L725.74 2347.92 L755.43 2363.97 L785.11 2350.48 L814.79 2365.07 L844.47 2385.86" stroke="#EFCD48"/>
<path d="M577.34 2288.84 L607.02 2245.8 L636.7 2219.9 L666.38 2176.86 L696.06 2106.83 L725.74 2063.79 L755.43 2055.04 L785.11 2055.04 L814.79 2072.55 L844.47 2063.79" stroke="#FC9B26"/>
<path d="M577.34 2297.59 L607.02 2288.84 L636.7 2345.37 L666.38 2387.32 L696.06 2416.86" stroke="#F84256"/>
<path d="M577.34 2305.98 L607.02 2271.69 L636.7 2254.55 L666.38 2228.66 L696.06 2185.62 L725.74 2167.02 L755.43 2098.08 L785.11 2089.69 L814.79 2046.65 L844.47 2019.66" stroke="#65A0E0"/>
<path d="M577.34 2315.83 L607.02 2296.13 L636.7 2286.28 L666.38 2315.83 L696.06 2438.38" stroke="#9E3536"/>
<path d="M577.34 2355.22 L607.02 2372.36 L636.7 2621.84" stroke="#546854"/>
<path d="M577.34 2345.37 L607.02 2338.08 L636.7 2320.93 L666.38 2308.53 L696.06 2298.69 L725.74 2308.53 L755.43 2365.07 L785.11 2399.72 L814.79 2392.06 L844.47 2411.75" stroke="#E38EAF"/>
<path d="M577.34 2330.78 L607.02 2345.37 L636.7 2342.82 L666.38 2350.48 L696.06 2350.48 L725.74 2340.63 L755.43 2360.33 L785.11 2350.48 L814.79 2360.33 L844.47 2370.17" stroke="#ADC4DA"/>
<path d="M577.34 2342.82 L607.02 2355.22 L636.7 2377.47 L666.38 2621.84" stroke="#C8DC7E"/>
<path d="M577.34 2366.53 L607.02 2355.22 L636.7 2332.97 L666.38 2298.69 L696.06 2271.69 L725.74 2249.45 L755.43 2215.16 L785.11 2179.42 L814.79 2201.67 L844.47 2237.04" stroke="#A99E26"/>
<path d="M577.34 2351.57 L607.02 2332.97 L636.7 2296.13 L666.38 2284.1 L696.06 2246.89 L725.74 2213.7 L755.43 2213.7 L785.11 2249.45 L814.79 2237.04 L844.47 2237.04" stroke="#588478"/>
<path d="M577.34 2355.22 L607.02 2345.37 L636.7 2332.97 L666.38 2298.69 L696.06 2261.85 L725.74 2272.79 L755.43 2261.85 L785.11 2238.5 L814.79 2226.1 L844.47 2226.1" stroke="#C97858"/>
<path d="M577.34 2350.48 L607.02 2340.63 L636.7 2320.93 L666.38 2308.53 L696.06 2298.69 L725.74 2271.69 L755.43 2246.89 L785.11 2234.86 L814.79 2244.7 L844.47 2245.8" stroke="#A67C7C"/>
<path d="M577.34 2350.48 L607.02 2336.98 L636.7 2336.98 L666.38 2291.39 L696.06 2260.75 L725.74 2272.79 L755.43 2272.79 L785.11 2259.29 L814.79 2246.89 L844.47 2246.89" stroke="#587AA8"/>
<path d="M577.34 2350.48 L607.02 2347.92 L636.7 2362.51 L666.38 2350.48 L696.06 2362.51 L725.74 2350.48 L755.43 2350.48 L785.11 2362.51 L814.79 2350.48 L844.47 2350.48" stroke="#EA5792"/>
<path d="M577.34 2352.67 L607.02 2338.08 L636.7 2357.77 L666.38 2377.47 L696.06 2377.47 L725.74 2621.84" stroke="#A07356"/>
<path d="M577.34 2347.92 L607.02 2332.97 L636.7 2308.53 L666.38 2286.28 L696.06 2260.75 L725.74 2259.29 L755.43 2272.79 L785.11 2221.36 L814.79 2165.92 L844.47 2156.07" stroke="#982D50"/>
<path d="M577.34 2352.67 L607.02 2339.17 L636.7 2323.49 L666.38 2311.09 L696.06 2311.09 L725.74 2285.19 L755.43 2285.19 L785.11 2298.69 L814.79 2298.69 L844.47 2298.69" stroke="#9D82AC"/>
<path d="M577.34 2363.97 L607.02 2389.87 L636.7 2621.84" stroke="#08828A"/>
<path d="M577.34 2352.67 L607.02 2377.47 L636.7 2363.97 L666.38 2621.84" stroke="#9D52C4"/>
<path d="M577.34 2350.48 L607.02 2350.48 L636.7 2350.48 L666.38 2336.98 L696.06 2350.48 L725.74 2363.97 L755.43 2389.87 L785.11 2621.84" stroke="#80869A"/>
<path d="M577.34 2350.48 L607.02 2323.49 L636.7 2298.69 L666.38 2245.8 L696.06 2259.29 L725.74 2233.4 L755.43 2219.9 L785.11 2233.4 L814.79 2194.01 L844.47 2143.67" stroke="#F16576"/>
<path d="M577.34 2350.48 L607.02 2320.93 L636.7 2285.19 L666.38 2272.79 L696.06 2233.4 L725.74 2246.89 L755.43 2219.9 L785.11 2179.42 L814.79 2142.58 L844.47 2078.75" stroke="#4E51B9"/>
<path d="M577.34 2362.51 L607.02 2324.58 L636.7 2311.09 L666.38 2336.98 L696.06 2324.58 L725.74 2336.98 L755.43 2362.51 L785.11 2362.51 L814.79 2403 L844.47 2621.84" stroke="#7EDBC6"/>
<path d="M562.5 2038 H933.51" stroke="#000" stroke-width="6.25" stroke-dasharray="23.13 10"/>
<path d="M562.5 2166 H933.51" stroke="#000" stroke-width="6.25" stroke-dasharray="6.25 10.31"/>
</g>
<rect x="563.5" y="1856.5" width="371" height="547" fill="none" stroke="#000" stroke-width="3.33" stroke-linejoin="miter"/>
<path d="M547.92 2403.5 H562.5 M547.92 2312.5 H562.5 M547.92 2221.5 H562.5 M547.92 2129.5 H562.5 M547.92 2038.5 H562.5 M547.92 1947.5 H562.5 M547.92 1856.5 H562.5" stroke="#000" stroke-width="3.33"/>
<path d="M554.17 2385.5 H562.5 M554.17 2367.5 H562.5 M554.17 2348.5 H562.5 M554.17 2330.5 H562.5 M554.17 2294.5 H562.5 M554.17 2275.5 H562.5 M554.17 2257.5 H562.5 M554.17 2239.5 H562.5 M554.17 2202.5 H562.5 M554.17 2184.5 H562.5 M554.17 2166.5 H562.5 M554.17 2148.5 H562.5 M554.17 2111.5 H562.5 M554.17 2093.5 H562.5 M554.17 2075.5 H562.5 M554.17 2057.5 H562.5 M554.17 2020.5 H562.5 M554.17 2002.5 H562.5 M554.17 1984.5 H562.5 M554.17 1965.5 H562.5 M554.17 1929.5 H562.5 M554.17 1911.5 H562.5 M554.17 1892.5 H562.5 M554.17 1874.5 H562.5" stroke="#000" stroke-width="2.5"/>
<path d="M577.5 2403 V2417.58 M607.5 2403 V2417.58 M637.5 2403 V2417.58 M666.5 2403 V2417.58 M696.5 2403 V2417.58 M726.5 2403 V2417.58 M755.5 2403 V2417.58 M785.5 2403 V2417.58 M815.5 2403 V2417.58 M844.5 2403 V2417.58 M874.5 2403 V2417.58 M904.5 2403 V2417.58 M934.5 2403 V2417.58" stroke="#000" stroke-width="3.33"/>
<text class="yl" x="533.33" y="2419" font-size="44.15" text-anchor="end" textLength="26.51" lengthAdjust="spacingAndGlyphs">0</text>
<text class="yl" x="533.33" y="2327.82" font-size="44.15" text-anchor="end" textLength="53.02" lengthAdjust="spacingAndGlyphs">25</text>
<text class="yl" x="533.33" y="2236.63" font-size="44.15" text-anchor="end" textLength="53.02" lengthAdjust="spacingAndGlyphs">50</text>
<text class="yl" x="533.33" y="2145.45" font-size="44.15" text-anchor="end" textLength="53.02" lengthAdjust="spacingAndGlyphs">75</text>
<text class="yl" x="533.33" y="2054.26" font-size="44.15" text-anchor="end" textLength="79.53" lengthAdjust="spacingAndGlyphs">100</text>
<text class="yl" x="533.33" y="1963.08" font-size="44.15" text-anchor="end" textLength="79.53" lengthAdjust="spacingAndGlyphs">125</text>
<text class="yl" x="533.33" y="1871.89" font-size="44.15" text-anchor="end" textLength="79.53" lengthAdjust="spacingAndGlyphs">150</text>
<text class="xl" x="577.34" y="2451" font-size="26.49" text-anchor="middle" textLength="31.81" lengthAdjust="spacingAndGlyphs">42</text>
<text class="xl" x="607.02" y="2451" font-size="26.49" text-anchor="middle" textLength="31.81" lengthAdjust="spacingAndGlyphs">43</text>
<text class="xl" x="636.7" y="2451" font-size="26.49" text-anchor="middle" textLength="31.81" lengthAdjust="spacingAndGlyphs">44</text>
<text class="xl" x="666.38" y="2451" font-size="26.49" text-anchor="middle" textLength="31.81" lengthAdjust="spacingAndGlyphs">45</text>
<text class="xl" x="696.06" y="2451" font-size="26.49" text-anchor="middle" textLength="31.81" lengthAdjust="spacingAndGlyphs">46</text>
<text class="xl" x="725.74" y="2451" font-size="26.49" text-anchor="middle" textLength="31.81" lengthAdjust="spacingAndGlyphs">47</text>
<text class="xl" x="755.43" y="2451" font-size="26.49" text-anchor="middle" textLength="31.81" lengthAdjust="spacingAndGlyphs">48</text>
<text class="xl" x="785.11" y="2451" font-size="26.49" text-anchor="middle" textLength="31.81" lengthAdjust="spacingAndGlyphs">49</text>
<text class="xl" x="814.79" y="2451" font-size="26.49" text-anchor="middle" textLength="31.81" lengthAdjust="spacingAndGlyphs">50</text>
<text class="xl" x="844.47" y="2451" font-size="26.49" text-anchor="middle" textLength="31.81" lengthAdjust="spacingAndGlyphs">51</text>
<text class="xl" x="874.15" y="2451" font-size="26.49" text-anchor="middle" textLength="31.81" lengthAdjust="spacingAndGlyphs">52</text>
<text class="xl" x="903.83" y="2451" font-size="26.49" text-anchor="middle" textLength="31.81" lengthAdjust="spacingAndGlyphs">53</text>
<text class="xl" x="933.51" y="2451" font-size="26.49" text-anchor="middle" textLength="31.81" lengthAdjust="spacingAndGlyphs">54</text>
<text class="tt" x="748.01" y="1830.89" font-size="44.15" text-anchor="middle" textLength="202.05" lengthAdjust="spacingAndGlyphs">Angle_inv</text>
<g clip-path="url(#c15)" fill="none" stroke-width="4.17" stroke-linejoin="round" stroke-linecap="butt">
<path d="M1096.76 2355.22 L1126.44 2387.32 L1156.12 2621.84" stroke="#3C9554"/>
<path d="M1096.76 2293.94 L1126.44 2259.29 L1156.12 2281.54 L1185.8 2332.97 L1215.48 2387.32 L1245.16 2621.84" stroke="#EFCD48"/>
<path d="M1096.76 2288.84 L1126.44 2254.55 L1156.12 2238.5 L1185.8 2228.66 L1215.48 2202.76 L1245.16 2202.76 L1274.84 2271.69 L1304.52 2387.32 L1334.2 2621.84" stroke="#FC9B26"/>
<path d="M1096.76 2299.78 L1126.44 2334.06 L1156.12 2386.95 L1185.8 2621.84" stroke="#F84256"/>
<path d="M1096.76 2297.59 L1126.44 2271.69 L1156.12 2245.8 L1185.8 2194.01 L1215.48 2168.47 L1245.16 2153.52 L1274.84 2123.98 L1304.52 2115.59 L1334.2 2176.86" stroke="#65A0E0"/>
<path d="M1096.76 2334.43 L1126.44 2308.53 L1156.12 2278.99 L1185.8 2232.3 L1215.48 2195.46 L1245.16 2153.52 L1274.84 2104.28 L1304.52 2028.78 L1334.2 2010.18" stroke="#9E3536"/>
<path d="M1096.76 2322.03 L1126.44 2320.93 L1156.12 2308.53 L1185.8 2328.23 L1215.48 2352.67 L1245.16 2392.06 L1274.84 2392.06 L1304.52 2392.06 L1334.2 2621.84" stroke="#546854"/>
<path d="M1096.76 2371.27 L1126.44 2360.33 L1156.12 2387.32 L1185.8 2621.84" stroke="#E38EAF"/>
<path d="M1096.76 2328.23 L1126.44 2266.59 L1156.12 2237.04 L1185.8 2183.06 L1215.48 2152.43 L1245.16 2068.9 L1274.84 2099.54 L1304.52 2070 L1334.2 2040.82" stroke="#ADC4DA"/>
<path d="M1096.76 2367.62 L1126.44 2377.47 L1156.12 2389.87 L1185.8 2621.84" stroke="#C8DC7E"/>
<path d="M1096.76 2350.48 L1126.44 2338.08 L1156.12 2323.49 L1185.8 2332.97 L1215.48 2367.62 L1245.16 2621.84" stroke="#A99E26"/>
<path d="M1096.76 2350.48 L1126.44 2320.93 L1156.12 2320.93 L1185.8 2320.93 L1215.48 2344.28 L1245.16 2344.28 L1274.84 2354.13 L1304.52 2389.87 L1334.2 2621.84" stroke="#588478"/>
<path d="M1096.76 2355.22 L1126.44 2345.37 L1156.12 2320.93 L1185.8 2260.75 L1215.48 2237.04 L1245.16 2237.04 L1274.84 2200.21 L1304.52 2179.42 L1334.2 2121.79" stroke="#C97858"/>
<path d="M1096.76 2350.48 L1126.44 2342.82 L1156.12 2332.97 L1185.8 2284.1 L1215.48 2259.29 L1245.16 2239.6 L1274.84 2219.9 L1304.52 2142.58 L1334.2 2064.89" stroke="#A67C7C"/>
<path d="M1096.76 2349.02 L1126.44 2342.82 L1156.12 2340.63 L1185.8 2377.47 L1215.48 2399.72 L1245.16 2621.84" stroke="#587AA8"/>
<path d="M1096.76 2389.87 L1126.44 2403 L1156.12 2621.84" stroke="#EA5792"/>
<path d="M1096.76 2352.67 L1126.44 2330.78 L1156.12 2297.59 L1185.8 2297.59 L1215.48 2297.59 L1245.16 2285.19 L1274.84 2350.48 L1304.52 2621.84" stroke="#A07356"/>
<path d="M1096.76 2350.48 L1126.44 2350.48 L1156.12 2350.48 L1185.8 2311.09 L1215.48 2311.09 L1245.16 2252 L1274.84 2194.01 L1304.52 2158.63 L1334.2 2116.68" stroke="#982D50"/>
<path d="M1096.76 2349.02 L1126.44 2311.09 L1156.12 2311.09 L1185.8 2259.29 L1215.48 2210.05 L1245.16 2141.48 L1274.84 2064.89 L1304.52 1998.51 L1334.2 1869.75" stroke="#9D82AC"/>
<path d="M1096.76 2349.02 L1126.44 2336.98 L1156.12 2336.98 L1185.8 2352.67 L1215.48 2387.32 L1245.16 2621.84" stroke="#08828A"/>
<path d="M1096.76 2350.48 L1126.44 2350.48 L1156.12 2336.98 L1185.8 2362.51 L1215.48 2389.87 L1245.16 2403 L1274.84 2403 L1304.52 2389.87 L1334.2 2403" stroke="#9D52C4"/>
<path d="M1096.76 2350.48 L1126.44 2347.92 L1156.12 2327.13 L1185.8 2301.24 L1215.48 2272.79 L1245.16 2234.86 L1274.84 2207.87 L1304.52 2180.51 L1334.2 2181.97" stroke="#80869A"/>
<path d="M1096.76 2350.48 L1126.44 2350.48 L1156.12 2387.32 L1185.8 2377.47 L1215.48 2350.48 L1245.16 2336.98 L1274.84 2389.87 L1304.52 2621.84" stroke="#F16576"/>
<path d="M1096.76 2349.02 L1126.44 2338.08 L1156.12 2298.69 L1185.8 2285.19 L1215.48 2245.8 L1245.16 2245.8 L1274.84 2219.9 L1304.52 2194.01 L1334.2 2143.67" stroke="#4E51B9"/>
<path d="M1096.76 2350.48 L1126.44 2350.48 L1156.12 2363.97 L1185.8 2621.84" stroke="#7EDBC6"/>
<path d="M1081.91 2038 H1452.93" stroke="#000" stroke-width="6.25" stroke-dasharray="23.13 10"/>
<path d="M1081.91 2166 H1452.93" stroke="#000" stroke-width="6.25" stroke-dasharray="6.25 10.31"/>
</g>
<rect x="1082.5" y="1856.5" width="371" height="547" fill="none" stroke="#000" stroke-width="3.33" stroke-linejoin="miter"/>
<path d="M1067.33 2403.5 H1081.91 M1067.33 2312.5 H1081.91 M1067.33 2221.5 H1081.91 M1067.33 2129.5 H1081.91 M1067.33 2038.5 H1081.91 M1067.33 1947.5 H1081.91 M1067.33 1856.5 H1081.91" stroke="#000" stroke-width="3.33"/>
<path d="M1073.58 2385.5 H1081.91 M1073.58 2367.5 H1081.91 M1073.58 2348.5 H1081.91 M1073.58 2330.5 H1081.91 M1073.58 2294.5 H1081.91 M1073.58 2275.5 H1081.91 M1073.58 2257.5 H1081.91 M1073.58 2239.5 H1081.91 M1073.58 2202.5 H1081.91 M1073.58 2184.5 H1081.91 M1073.58 2166.5 H1081.91 M1073.58 2148.5 H1081.91 M1073.58 2111.5 H1081.91 M1073.58 2093.5 H1081.91 M1073.58 2075.5 H1081.91 M1073.58 2057.5 H1081.91 M1073.58 2020.5 H1081.91 M1073.58 2002.5 H1081.91 M1073.58 1984.5 H1081.91 M1073.58 1965.5 H1081.91 M1073.58 1929.5 H1081.91 M1073.58 1911.5 H1081.91 M1073.58 1892.5 H1081.91 M1073.58 1874.5 H1081.91" stroke="#000" stroke-width="2.5"/>
<path d="M1097.5 2403 V2417.58 M1126.5 2403 V2417.58 M1156.5 2403 V2417.58 M1186.5 2403 V2417.58 M1215.5 2403 V2417.58 M1245.5 2403 V2417.58 M1275.5 2403 V2417.58 M1305.5 2403 V2417.58 M1334.5 2403 V2417.58 M1364.5 2403 V2417.58 M1394.5 2403 V2417.58 M1423.5 2403 V2417.58 M1453.5 2403 V2417.58" stroke="#000" stroke-width="3.33"/>
<text class="yl" x="1052.75" y="2419" font-size="44.15" text-anchor="end" textLength="26.51" lengthAdjust="spacingAndGlyphs">0</text>
<text class="yl" x="1052.75" y="2327.82" font-size="44.15" text-anchor="end" textLength="53.02" lengthAdjust="spacingAndGlyphs">25</text>
<text class="yl" x="1052.75" y="2236.63" font-size="44.15" text-anchor="end" textLength="53.02" lengthAdjust="spacingAndGlyphs">50</text>
<text class="yl" x="1052.75" y="2145.45" font-size="44.15" text-anchor="end" textLength="53.02" lengthAdjust="spacingAndGlyphs">75</text>
<text class="yl" x="1052.75" y="2054.26" font-size="44.15" text-anchor="end" textLength="79.53" lengthAdjust="spacingAndGlyphs">100</text>
<text class="yl" x="1052.75" y="1963.08" font-size="44.15" text-anchor="end" textLength="79.53" lengthAdjust="spacingAndGlyphs">125</text>
<text class="yl" x="1052.75" y="1871.89" font-size="44.15" text-anchor="end" textLength="79.53" lengthAdjust="spacingAndGlyphs">150</text>
<text class="xl" x="1096.76" y="2451" font-size="26.49" text-anchor="middle" textLength="31.81" lengthAdjust="spacingAndGlyphs">42</text>
<text class="xl" x="1126.44" y="2451" font-size="26.49" text-anchor="middle" textLength="31.81" lengthAdjust="spacingAndGlyphs">43</text>
<text class="xl" x="1156.12" y="2451" font-size="26.49" text-anchor="middle" textLength="31.81" lengthAdjust="spacingAndGlyphs">44</text>
<text class="xl" x="1185.8" y="2451" font-size="26.49" text-anchor="middle" textLength="31.81" lengthAdjust="spacingAndGlyphs">45</text>
<text class="xl" x="1215.48" y="2451" font-size="26.49" text-anchor="middle" textLength="31.81" lengthAdjust="spacingAndGlyphs">46</text>
<text class="xl" x="1245.16" y="2451" font-size="26.49" text-anchor="middle" textLength="31.81" lengthAdjust="spacingAndGlyphs">47</text>
<text class="xl" x="1274.84" y="2451" font-size="26.49" text-anchor="middle" textLength="31.81" lengthAdjust="spacingAndGlyphs">48</text>
<text class="xl" x="1304.52" y="2451" font-size="26.49" text-anchor="middle" textLength="31.81" lengthAdjust="spacingAndGlyphs">49</text>
<text class="xl" x="1334.2" y="2451" font-size="26.49" text-anchor="middle" textLength="31.81" lengthAdjust="spacingAndGlyphs">50</text>
<text class="xl" x="1363.88" y="2451" font-size="26.49" text-anchor="middle" textLength="31.81" lengthAdjust="spacingAndGlyphs">51</text>
<text class="xl" x="1393.56" y="2451" font-size="26.49" text-anchor="middle" textLength="31.81" lengthAdjust="spacingAndGlyphs">52</text>
<text class="xl" x="1423.24" y="2451" font-size="26.49" text-anchor="middle" textLength="31.81" lengthAdjust="spacingAndGlyphs">53</text>
<text class="xl" x="1452.93" y="2451" font-size="26.49" text-anchor="middle" textLength="31.81" lengthAdjust="spacingAndGlyphs">54</text>
<text class="tt" x="1267.42" y="1830.89" font-size="44.15" text-anchor="middle" textLength="78.55" lengthAdjust="spacingAndGlyphs">1.3J</text>
<g clip-path="url(#c16)" fill="none" stroke-width="4.17" stroke-linejoin="round" stroke-linecap="butt">
<path d="M1616.17 2296.13 L1645.85 2296.13 L1675.53 2318.38 L1705.21 2341.72 L1734.89 2350.48 L1764.57 2372.36 L1794.26 2357.77 L1823.94 2399.72" stroke="#3C9554"/>
<path d="M1616.17 2295.04 L1645.85 2265.49 L1675.53 2287.74 L1705.21 2284.1 L1734.89 2313.64 L1764.57 2332.97 L1794.26 2349.02 L1823.94 2341.72" stroke="#EFCD48"/>
<path d="M1616.17 2280.45 L1645.85 2254.55 L1675.53 2293.94 L1705.21 2357.77 L1734.89 2431.45" stroke="#FC9B26"/>
<path d="M1616.17 2296.13 L1645.85 2280.45 L1675.53 2219.9 L1705.21 2159.72 L1734.89 2159.72 L1764.57 2055.04 L1794.26 2063.79 L1823.94 1968.96" stroke="#F84256"/>
<path d="M1616.17 2298.69 L1645.85 2313.64 L1675.53 2311.09 L1705.21 2254.55 L1734.89 2159.72 L1764.57 2133.82 L1794.26 2107.93 L1823.94 2107.93" stroke="#65A0E0"/>
<path d="M1616.17 2317.29 L1645.85 2324.58 L1675.53 2335.52 L1705.21 2357.77 L1734.89 2382.21 L1764.57 2621.84" stroke="#9E3536"/>
<path d="M1616.17 2349.02 L1645.85 2332.97 L1675.53 2308.53 L1705.21 2284.1 L1734.89 2242.15 L1764.57 2200.21 L1794.26 2138.93 L1823.94 2119.23" stroke="#546854"/>
<path d="M1616.17 2365.07 L1645.85 2372.36 L1675.53 2382.21 L1705.21 2621.84" stroke="#E38EAF"/>
<path d="M1616.17 2349.02 L1645.85 2340.63 L1675.53 2357.77 L1705.21 2377.47 L1734.89 2394.61 L1764.57 2621.84" stroke="#ADC4DA"/>
<path d="M1616.17 2345.37 L1645.85 2344.28 L1675.53 2357.77 L1705.21 2367.62 L1734.89 2367.62 L1764.57 2399.72 L1794.26 2621.84" stroke="#C8DC7E"/>
<path d="M1616.17 2355.22 L1645.85 2355.22 L1675.53 2365.07 L1705.21 2378.56 L1734.89 2378.56 L1764.57 2378.56 L1794.26 2621.84" stroke="#A99E26"/>
<path d="M1616.17 2340.63 L1645.85 2330.78 L1675.53 2308.53 L1705.21 2296.13 L1734.89 2274.25 L1764.57 2227.56 L1794.26 2213.7 L1823.94 2191.82" stroke="#588478"/>
<path d="M1616.17 2342.82 L1645.85 2330.78 L1675.53 2313.64 L1705.21 2362.51 L1734.89 2392.06 L1764.57 2621.84" stroke="#C97858"/>
<path d="M1616.17 2363.97 L1645.85 2373.82 L1675.53 2362.51 L1705.21 2382.21 L1734.89 2403 L1764.57 2403 L1794.26 2389.87 L1823.94 2377.47" stroke="#A67C7C"/>
<path d="M1616.17 2357.77 L1645.85 2345.37 L1675.53 2332.97 L1705.21 2284.1 L1734.89 2260.75 L1764.57 2246.89 L1794.26 2271.69 L1823.94 2311.09" stroke="#587AA8"/>
<path d="M1616.17 2374.92 L1645.85 2374.92 L1675.53 2365.07 L1705.21 2362.51 L1734.89 2350.48 L1764.57 2336.98 L1794.26 2362.51 L1823.94 2403" stroke="#EA5792"/>
<path d="M1616.17 2377.47 L1645.85 2377.47 L1675.53 2389.87 L1705.21 2389.87 L1734.89 2621.84" stroke="#A07356"/>
<path d="M1616.17 2349.02 L1645.85 2336.98 L1675.53 2336.98 L1705.21 2324.58 L1734.89 2324.58 L1764.57 2377.47 L1794.26 2389.87 L1823.94 2389.87" stroke="#982D50"/>
<path d="M1616.17 2349.02 L1645.85 2332.97 L1675.53 2286.28 L1705.21 2274.25 L1734.89 2219.9 L1764.57 2180.51 L1794.26 2116.68 L1823.94 2104.28" stroke="#9D82AC"/>
<path d="M1616.17 2362.51 L1645.85 2347.92 L1675.53 2336.98 L1705.21 2311.09 L1734.89 2298.69 L1764.57 2254.55 L1794.26 2217.71 L1823.94 2181.97" stroke="#08828A"/>
<path d="M1616.17 2350.48 L1645.85 2350.48 L1675.53 2350.48 L1705.21 2374.92 L1734.89 2392.06 L1764.57 2621.84" stroke="#9D52C4"/>
<path d="M1616.17 2349.02 L1645.85 2338.08 L1675.53 2324.58 L1705.21 2260.75 L1734.89 2260.75 L1764.57 2285.19 L1794.26 2285.19 L1823.94 2362.51" stroke="#80869A"/>
<path d="M1616.17 2350.48 L1645.85 2350.48 L1675.53 2345.37 L1705.21 2336.98 L1734.89 2313.64 L1764.57 2285.19 L1794.26 2272.79 L1823.94 2234.86" stroke="#F16576"/>
<path d="M1616.17 2349.02 L1645.85 2311.09 L1675.53 2311.09 L1705.21 2272.79 L1734.89 2246.89 L1764.57 2246.89 L1794.26 2246.89 L1823.94 2246.89" stroke="#4E51B9"/>
<path d="M1616.17 2377.47 L1645.85 2363.97 L1675.53 2363.97 L1705.21 2377.47 L1734.89 2399.72 L1764.57 2621.84" stroke="#7EDBC6"/>
<path d="M1601.33 2038 H1972.34" stroke="#000" stroke-width="6.25" stroke-dasharray="23.13 10"/>
<path d="M1601.33 2166 H1972.34" stroke="#000" stroke-width="6.25" stroke-dasharray="6.25 10.31"/>
</g>
<rect x="1601.5" y="1856.5" width="371" height="547" fill="none" stroke="#000" stroke-width="3.33" stroke-linejoin="miter"/>
<path d="M1586.75 2403.5 H1601.33 M1586.75 2312.5 H1601.33 M1586.75 2221.5 H1601.33 M1586.75 2129.5 H1601.33 M1586.75 2038.5 H1601.33 M1586.75 1947.5 H1601.33 M1586.75 1856.5 H1601.33" stroke="#000" stroke-width="3.33"/>
<path d="M1593 2385.5 H1601.33 M1593 2367.5 H1601.33 M1593 2348.5 H1601.33 M1593 2330.5 H1601.33 M1593 2294.5 H1601.33 M1593 2275.5 H1601.33 M1593 2257.5 H1601.33 M1593 2239.5 H1601.33 M1593 2202.5 H1601.33 M1593 2184.5 H1601.33 M1593 2166.5 H1601.33 M1593 2148.5 H1601.33 M1593 2111.5 H1601.33 M1593 2093.5 H1601.33 M1593 2075.5 H1601.33 M1593 2057.5 H1601.33 M1593 2020.5 H1601.33 M1593 2002.5 H1601.33 M1593 1984.5 H1601.33 M1593 1965.5 H1601.33 M1593 1929.5 H1601.33 M1593 1911.5 H1601.33 M1593 1892.5 H1601.33 M1593 1874.5 H1601.33" stroke="#000" stroke-width="2.5"/>
<path d="M1616.5 2403 V2417.58 M1646.5 2403 V2417.58 M1676.5 2403 V2417.58 M1705.5 2403 V2417.58 M1735.5 2403 V2417.58 M1765.5 2403 V2417.58 M1794.5 2403 V2417.58 M1824.5 2403 V2417.58 M1854.5 2403 V2417.58 M1883.5 2403 V2417.58 M1913.5 2403 V2417.58 M1943.5 2403 V2417.58 M1972.5 2403 V2417.58" stroke="#000" stroke-width="3.33"/>
<text class="yl" x="1572.16" y="2419" font-size="44.15" text-anchor="end" textLength="26.51" lengthAdjust="spacingAndGlyphs">0</text>
<text class="yl" x="1572.16" y="2327.82" font-size="44.15" text-anchor="end" textLength="53.02" lengthAdjust="spacingAndGlyphs">25</text>
<text class="yl" x="1572.16" y="2236.63" font-size="44.15" text-anchor="end" textLength="53.02" lengthAdjust="spacingAndGlyphs">50</text>
<text class="yl" x="1572.16" y="2145.45" font-size="44.15" text-anchor="end" textLength="53.02" lengthAdjust="spacingAndGlyphs">75</text>
<text class="yl" x="1572.16" y="2054.26" font-size="44.15" text-anchor="end" textLength="79.53" lengthAdjust="spacingAndGlyphs">100</text>
<text class="yl" x="1572.16" y="1963.08" font-size="44.15" text-anchor="end" textLength="79.53" lengthAdjust="spacingAndGlyphs">125</text>
<text class="yl" x="1572.16" y="1871.89" font-size="44.15" text-anchor="end" textLength="79.53" lengthAdjust="spacingAndGlyphs">150</text>
<text class="xl" x="1616.17" y="2451" font-size="26.49" text-anchor="middle" textLength="31.81" lengthAdjust="spacingAndGlyphs">42</text>
<text class="xl" x="1645.85" y="2451" font-size="26.49" text-anchor="middle" textLength="31.81" lengthAdjust="spacingAndGlyphs">43</text>
<text class="xl" x="1675.53" y="2451" font-size="26.49" text-anchor="middle" textLength="31.81" lengthAdjust="spacingAndGlyphs">44</text>
<text class="xl" x="1705.21" y="2451" font-size="26.49" text-anchor="middle" textLength="31.81" lengthAdjust="spacingAndGlyphs">45</text>
<text class="xl" x="1734.89" y="2451" font-size="26.49" text-anchor="middle" textLength="31.81" lengthAdjust="spacingAndGlyphs">46</text>
<text class="xl" x="1764.57" y="2451" font-size="26.49" text-anchor="middle" textLength="31.81" lengthAdjust="spacingAndGlyphs">47</text>
<text class="xl" x="1794.26" y="2451" font-size="26.49" text-anchor="middle" textLength="31.81" lengthAdjust="spacingAndGlyphs">48</text>
<text class="xl" x="1823.94" y="2451" font-size="26.49" text-anchor="middle" textLength="31.81" lengthAdjust="spacingAndGlyphs">49</text>
<text class="xl" x="1853.62" y="2451" font-size="26.49" text-anchor="middle" textLength="31.81" lengthAdjust="spacingAndGlyphs">50</text>
<text class="xl" x="1883.3" y="2451" font-size="26.49" text-anchor="middle" textLength="31.81" lengthAdjust="spacingAndGlyphs">51</text>
<text class="xl" x="1912.98" y="2451" font-size="26.49" text-anchor="middle" textLength="31.81" lengthAdjust="spacingAndGlyphs">52</text>
<text class="xl" x="1942.66" y="2451" font-size="26.49" text-anchor="middle" textLength="31.81" lengthAdjust="spacingAndGlyphs">53</text>
<text class="xl" x="1972.34" y="2451" font-size="26.49" text-anchor="middle" textLength="31.81" lengthAdjust="spacingAndGlyphs">54</text>
<text class="tt" x="1786.84" y="1830.89" font-size="44.15" text-anchor="middle" textLength="93.59" lengthAdjust="spacingAndGlyphs">1.3K</text>
<g clip-path="url(#c17)" fill="none" stroke-width="4.17" stroke-linejoin="round" stroke-linecap="butt">
<path d="M2135.59 2304.89 L2165.27 2311.09 L2194.95 2318.38 L2224.63 2401.91 L2254.31 2621.84" stroke="#3C9554"/>
<path d="M2135.59 2301.24 L2165.27 2246.89 L2194.95 2198.02 L2224.63 2165.92 L2254.31 2136.38 L2283.99 2136.38 L2313.67 2106.83 L2343.35 2121.79 L2373.03 2165.92" stroke="#EFCD48"/>
<path d="M2135.59 2297.59 L2165.27 2281.54 L2194.95 2202.76 L2224.63 2211.51 L2254.31 2160.81 L2283.99 2089.69 L2313.67 2089.69 L2343.35 2099.54 L2373.03 2040.45" stroke="#FC9B26"/>
<path d="M2135.59 2360.33 L2165.27 2431.81 L2194.95 2621.84" stroke="#F84256"/>
<path d="M2135.59 2305.98 L2165.27 2237.04 L2194.95 2268.05 L2224.63 2246.89 L2254.31 2229.75 L2283.99 2201.67 L2313.67 2244.7 L2343.35 2238.5 L2373.03 2281.54" stroke="#65A0E0"/>
<path d="M2135.59 2327.13 L2165.27 2399.72 L2194.95 2327.13 L2224.63 2327.13 L2254.31 2336.98 L2283.99 2344.28 L2313.67 2335.52 L2343.35 2350.48 L2373.03 2373.82" stroke="#9E3536"/>
<path d="M2135.59 2342.82 L2165.27 2357.77 L2194.95 2382.21 L2224.63 2621.84" stroke="#546854"/>
<path d="M2135.59 2338.08 L2165.27 2308.53 L2194.95 2266.59 L2224.63 2256.74 L2254.31 2256.74 L2283.99 2225.01 L2313.67 2207.87 L2343.35 2183.06 L2373.03 2205.31" stroke="#E38EAF"/>
<path d="M2135.59 2330.78 L2165.27 2350.48 L2194.95 2340.63 L2224.63 2339.17 L2254.31 2318.38 L2283.99 2329.32 L2313.67 2340.63 L2343.35 2350.48 L2373.03 2370.17" stroke="#ADC4DA"/>
<path d="M2135.59 2355.22 L2165.27 2344.28 L2194.95 2274.25 L2224.63 2237.04 L2254.31 2190.36 L2283.99 2179.42 L2313.67 2131.64 L2343.35 2084.58 L2373.03 2050.3" stroke="#C8DC7E"/>
<path d="M2135.59 2367.62 L2165.27 2377.47 L2194.95 2401.91 L2224.63 2621.84" stroke="#A99E26"/>
<path d="M2135.59 2342.82 L2165.27 2355.22 L2194.95 2365.07 L2224.63 2367.62 L2254.31 2378.56 L2283.99 2389.87 L2313.67 2621.84" stroke="#588478"/>
<path d="M2135.59 2378.56 L2165.27 2357.77 L2194.95 2355.22 L2224.63 2342.82 L2254.31 2366.53 L2283.99 2378.56 L2313.67 2366.53 L2343.35 2366.53 L2373.03 2356.68" stroke="#C97858"/>
<path d="M2135.59 2350.48 L2165.27 2311.09 L2194.95 2323.49 L2224.63 2311.09 L2254.31 2311.09 L2283.99 2297.59 L2313.67 2271.69 L2343.35 2285.19 L2373.03 2246.89" stroke="#A67C7C"/>
<path d="M2135.59 2360.33 L2165.27 2349.02 L2194.95 2332.97 L2224.63 2324.58 L2254.31 2324.58 L2283.99 2286.28 L2313.67 2246.89 L2343.35 2234.86 L2373.03 2221.36" stroke="#587AA8"/>
<path d="M2135.59 2361.42 L2165.27 2361.42 L2194.95 2350.48 L2224.63 2350.48 L2254.31 2336.98 L2283.99 2336.98 L2313.67 2336.98 L2343.35 2336.98 L2373.03 2350.48" stroke="#EA5792"/>
<path d="M2135.59 2360.33 L2165.27 2355.22 L2194.95 2355.22 L2224.63 2350.48 L2254.31 2350.48 L2283.99 2350.48 L2313.67 2350.48 L2343.35 2324.58 L2373.03 2298.69" stroke="#A07356"/>
<path d="M2135.59 2365.07 L2165.27 2377.47 L2194.95 2399.72 L2224.63 2621.84" stroke="#982D50"/>
<path d="M2135.59 2352.67 L2165.27 2338.08 L2194.95 2338.08 L2224.63 2377.47 L2254.31 2621.84" stroke="#9D82AC"/>
<path d="M2135.59 2350.48 L2165.27 2325.68 L2194.95 2338.08 L2224.63 2362.51 L2254.31 2392.06 L2283.99 2621.84" stroke="#08828A"/>
<path d="M2135.59 2352.67 L2165.27 2362.51 L2194.95 2373.82 L2224.63 2336.98 L2254.31 2374.92 L2283.99 2621.84" stroke="#9D52C4"/>
<path d="M2135.59 2352.67 L2165.27 2357.77 L2194.95 2342.82 L2224.63 2311.09 L2254.31 2271.69 L2283.99 2233.4 L2313.67 2207.87 L2343.35 2165.92 L2373.03 2143.67" stroke="#80869A"/>
<path d="M2135.59 2350.48 L2165.27 2325.68 L2194.95 2298.69 L2224.63 2246.89 L2254.31 2219.9 L2283.99 2207.87 L2313.67 2194.01 L2343.35 2142.58 L2373.03 2116.68" stroke="#F16576"/>
<path d="M2135.59 2362.51 L2165.27 2324.58 L2194.95 2324.58 L2224.63 2324.58 L2254.31 2350.48 L2283.99 2387.32 L2313.67 2621.84" stroke="#4E51B9"/>
<path d="M2135.59 2363.97 L2165.27 2363.97 L2194.95 2377.47 L2224.63 2350.48 L2254.31 2336.98 L2283.99 2311.09 L2313.67 2311.09 L2343.35 2298.69 L2373.03 2286.28" stroke="#7EDBC6"/>
<path d="M2120.74 2038 H2491.76" stroke="#000" stroke-width="6.25" stroke-dasharray="23.13 10"/>
<path d="M2120.74 2166 H2491.76" stroke="#000" stroke-width="6.25" stroke-dasharray="6.25 10.31"/>
</g>
<rect x="2121.5" y="1856.5" width="371" height="547" fill="none" stroke="#000" stroke-width="3.33" stroke-linejoin="miter"/>
<path d="M2106.16 2403.5 H2120.74 M2106.16 2312.5 H2120.74 M2106.16 2221.5 H2120.74 M2106.16 2129.5 H2120.74 M2106.16 2038.5 H2120.74 M2106.16 1947.5 H2120.74 M2106.16 1856.5 H2120.74" stroke="#000" stroke-width="3.33"/>
<path d="M2112.41 2385.5 H2120.74 M2112.41 2367.5 H2120.74 M2112.41 2348.5 H2120.74 M2112.41 2330.5 H2120.74 M2112.41 2294.5 H2120.74 M2112.41 2275.5 H2120.74 M2112.41 2257.5 H2120.74 M2112.41 2239.5 H2120.74 M2112.41 2202.5 H2120.74 M2112.41 2184.5 H2120.74 M2112.41 2166.5 H2120.74 M2112.41 2148.5 H2120.74 M2112.41 2111.5 H2120.74 M2112.41 2093.5 H2120.74 M2112.41 2075.5 H2120.74 M2112.41 2057.5 H2120.74 M2112.41 2020.5 H2120.74 M2112.41 2002.5 H2120.74 M2112.41 1984.5 H2120.74 M2112.41 1965.5 H2120.74 M2112.41 1929.5 H2120.74 M2112.41 1911.5 H2120.74 M2112.41 1892.5 H2120.74 M2112.41 1874.5 H2120.74" stroke="#000" stroke-width="2.5"/>
<path d="M2136.5 2403 V2417.58 M2165.5 2403 V2417.58 M2195.5 2403 V2417.58 M2225.5 2403 V2417.58 M2254.5 2403 V2417.58 M2284.5 2403 V2417.58 M2314.5 2403 V2417.58 M2343.5 2403 V2417.58 M2373.5 2403 V2417.58 M2403.5 2403 V2417.58 M2432.5 2403 V2417.58 M2462.5 2403 V2417.58 M2492.5 2403 V2417.58" stroke="#000" stroke-width="3.33"/>
<text class="yl" x="2091.58" y="2419" font-size="44.15" text-anchor="end" textLength="26.51" lengthAdjust="spacingAndGlyphs">0</text>
<text class="yl" x="2091.58" y="2327.82" font-size="44.15" text-anchor="end" textLength="53.02" lengthAdjust="spacingAndGlyphs">25</text>
<text class="yl" x="2091.58" y="2236.63" font-size="44.15" text-anchor="end" textLength="53.02" lengthAdjust="spacingAndGlyphs">50</text>
<text class="yl" x="2091.58" y="2145.45" font-size="44.15" text-anchor="end" textLength="53.02" lengthAdjust="spacingAndGlyphs">75</text>
<text class="yl" x="2091.58" y="2054.26" font-size="44.15" text-anchor="end" textLength="79.53" lengthAdjust="spacingAndGlyphs">100</text>
<text class="yl" x="2091.58" y="1963.08" font-size="44.15" text-anchor="end" textLength="79.53" lengthAdjust="spacingAndGlyphs">125</text>
<text class="yl" x="2091.58" y="1871.89" font-size="44.15" text-anchor="end" textLength="79.53" lengthAdjust="spacingAndGlyphs">150</text>
<text class="xl" x="2135.59" y="2451" font-size="26.49" text-anchor="middle" textLength="31.81" lengthAdjust="spacingAndGlyphs">42</text>
<text class="xl" x="2165.27" y="2451" font-size="26.49" text-anchor="middle" textLength="31.81" lengthAdjust="spacingAndGlyphs">43</text>
<text class="xl" x="2194.95" y="2451" font-size="26.49" text-anchor="middle" textLength="31.81" lengthAdjust="spacingAndGlyphs">44</text>
<text class="xl" x="2224.63" y="2451" font-size="26.49" text-anchor="middle" textLength="31.81" lengthAdjust="spacingAndGlyphs">45</text>
<text class="xl" x="2254.31" y="2451" font-size="26.49" text-anchor="middle" textLength="31.81" lengthAdjust="spacingAndGlyphs">46</text>
<text class="xl" x="2283.99" y="2451" font-size="26.49" text-anchor="middle" textLength="31.81" lengthAdjust="spacingAndGlyphs">47</text>
<text class="xl" x="2313.67" y="2451" font-size="26.49" text-anchor="middle" textLength="31.81" lengthAdjust="spacingAndGlyphs">48</text>
<text class="xl" x="2343.35" y="2451" font-size="26.49" text-anchor="middle" textLength="31.81" lengthAdjust="spacingAndGlyphs">49</text>
<text class="xl" x="2373.03" y="2451" font-size="26.49" text-anchor="middle" textLength="31.81" lengthAdjust="spacingAndGlyphs">50</text>
<text class="xl" x="2402.71" y="2451" font-size="26.49" text-anchor="middle" textLength="31.81" lengthAdjust="spacingAndGlyphs">51</text>
<text class="xl" x="2432.39" y="2451" font-size="26.49" text-anchor="middle" textLength="31.81" lengthAdjust="spacingAndGlyphs">52</text>
<text class="xl" x="2462.07" y="2451" font-size="26.49" text-anchor="middle" textLength="31.81" lengthAdjust="spacingAndGlyphs">53</text>
<text class="xl" x="2491.76" y="2451" font-size="26.49" text-anchor="middle" textLength="31.81" lengthAdjust="spacingAndGlyphs">54</text>
<text class="tt" x="2306.25" y="1830.89" font-size="44.15" text-anchor="middle" textLength="89.48" lengthAdjust="spacingAndGlyphs">1.3L</text>
<g clip-path="url(#c18)" fill="none" stroke-width="4.17" stroke-linejoin="round" stroke-linecap="butt">
<path d="M2655 2296.13 L2684.68 2296.13 L2714.36 2265.49 L2744.04 2277.9 L2773.72 2242.15 L2803.4 2228.66" stroke="#3C9554"/>
<path d="M2655 2311.09 L2684.68 2318.38 L2714.36 2336.98 L2744.04 2303.79 L2773.72 2319.48 L2803.4 2312.18" stroke="#EFCD48"/>
<path d="M2655 2299.78 L2684.68 2318.38 L2714.36 2298.69 L2744.04 2281.54 L2773.72 2246.89 L2803.4 2254.55" stroke="#FC9B26"/>
<path d="M2655 2305.98 L2684.68 2246.89 L2714.36 2168.47 L2744.04 2202.76 L2773.72 2219.9 L2803.4 2245.8" stroke="#F84256"/>
<path d="M2655 2297.59 L2684.68 2288.84 L2714.36 2355.22 L2744.04 2377.47 L2773.72 2377.47 L2803.4 2368.71" stroke="#65A0E0"/>
<path d="M2655 2315.83 L2684.68 2305.98 L2714.36 2324.58 L2744.04 2324.58 L2773.72 2274.25 L2803.4 2221.36" stroke="#9E3536"/>
<path d="M2655 2330.78 L2684.68 2325.68 L2714.36 2308.53 L2744.04 2270.6 L2773.72 2270.6 L2803.4 2301.24" stroke="#546854"/>
<path d="M2655 2328.23 L2684.68 2308.53 L2714.36 2311.09 L2744.04 2281.54 L2773.72 2256.74 L2803.4 2287.74" stroke="#E38EAF"/>
<path d="M2655 2329.32 L2684.68 2330.78 L2714.36 2303.79 L2744.04 2245.8 L2773.72 2245.8 L2803.4 2205.31" stroke="#ADC4DA"/>
<path d="M2655 2342.82 L2684.68 2318.38 L2714.36 2284.1 L2744.04 2227.56 L2773.72 2143.67 L2803.4 2086.04" stroke="#C8DC7E"/>
<path d="M2655 2390.96 L2684.68 2378.56 L2714.36 2399.72 L2744.04 2621.84" stroke="#A99E26"/>
<path d="M2655 2355.22 L2684.68 2342.82 L2714.36 2350.48 L2744.04 2355.22 L2773.72 2377.47 L2803.4 2390.96" stroke="#588478"/>
<path d="M2655 2366.53 L2684.68 2355.22 L2714.36 2345.37 L2744.04 2344.28 L2773.72 2356.68 L2803.4 2356.68" stroke="#C97858"/>
<path d="M2655 2350.48 L2684.68 2340.63 L2714.36 2365.07 L2744.04 2350.48 L2773.72 2365.07 L2803.4 2338.08" stroke="#A67C7C"/>
<path d="M2655 2350.48 L2684.68 2332.97 L2714.36 2311.09 L2744.04 2311.09 L2773.72 2311.09 L2803.4 2311.09" stroke="#587AA8"/>
<path d="M2655 2362.51 L2684.68 2357.77 L2714.36 2377.47 L2744.04 2387.32 L2773.72 2377.47" stroke="#EA5792"/>
<path d="M2655 2352.67 L2684.68 2340.63 L2714.36 2345.37 L2744.04 2350.48 L2773.72 2377.47 L2803.4 2377.47" stroke="#A07356"/>
<path d="M2655 2349.02 L2684.68 2324.58 L2714.36 2311.09 L2744.04 2286.28 L2773.72 2246.89 L2803.4 2207.87" stroke="#982D50"/>
<path d="M2655 2350.48 L2684.68 2336.98 L2714.36 2336.98 L2744.04 2387.32 L2773.72 2621.84" stroke="#9D82AC"/>
<path d="M2655 2357.77 L2684.68 2357.77 L2714.36 2401.91 L2744.04 2389.87 L2773.72 2621.84" stroke="#08828A"/>
<path d="M2655 2350.48 L2684.68 2350.48 L2714.36 2350.48 L2744.04 2350.48 L2773.72 2403 L2803.4 2621.84" stroke="#9D52C4"/>
<path d="M2655 2349.02 L2684.68 2336.98 L2714.36 2345.37 L2744.04 2384.76 L2773.72 2621.84" stroke="#80869A"/>
<path d="M2655 2350.48 L2684.68 2350.48 L2714.36 2350.48 L2744.04 2621.84" stroke="#F16576"/>
<path d="M2655 2365.07 L2684.68 2377.47 L2714.36 2401.91 L2744.04 2621.84" stroke="#4E51B9"/>
<path d="M2655 2362.51 L2684.68 2350.48 L2714.36 2387.32 L2744.04 2621.84" stroke="#7EDBC6"/>
<path d="M2640.16 2038 H3011.17" stroke="#000" stroke-width="6.25" stroke-dasharray="23.13 10"/>
<path d="M2640.16 2166 H3011.17" stroke="#000" stroke-width="6.25" stroke-dasharray="6.25 10.31"/>
</g>
<rect x="2640.5" y="1856.5" width="371" height="547" fill="none" stroke="#000" stroke-width="3.33" stroke-linejoin="miter"/>
<path d="M2625.58 2403.5 H2640.16 M2625.58 2312.5 H2640.16 M2625.58 2221.5 H2640.16 M2625.58 2129.5 H2640.16 M2625.58 2038.5 H2640.16 M2625.58 1947.5 H2640.16 M2625.58 1856.5 H2640.16" stroke="#000" stroke-width="3.33"/>
<path d="M2631.83 2385.5 H2640.16 M2631.83 2367.5 H2640.16 M2631.83 2348.5 H2640.16 M2631.83 2330.5 H2640.16 M2631.83 2294.5 H2640.16 M2631.83 2275.5 H2640.16 M2631.83 2257.5 H2640.16 M2631.83 2239.5 H2640.16 M2631.83 2202.5 H2640.16 M2631.83 2184.5 H2640.16 M2631.83 2166.5 H2640.16 M2631.83 2148.5 H2640.16 M2631.83 2111.5 H2640.16 M2631.83 2093.5 H2640.16 M2631.83 2075.5 H2640.16 M2631.83 2057.5 H2640.16 M2631.83 2020.5 H2640.16 M2631.83 2002.5 H2640.16 M2631.83 1984.5 H2640.16 M2631.83 1965.5 H2640.16 M2631.83 1929.5 H2640.16 M2631.83 1911.5 H2640.16 M2631.83 1892.5 H2640.16 M2631.83 1874.5 H2640.16" stroke="#000" stroke-width="2.5"/>
<path d="M2655.5 2403 V2417.58 M2685.5 2403 V2417.58 M2714.5 2403 V2417.58 M2744.5 2403 V2417.58 M2774.5 2403 V2417.58 M2803.5 2403 V2417.58 M2833.5 2403 V2417.58 M2863.5 2403 V2417.58 M2892.5 2403 V2417.58 M2922.5 2403 V2417.58 M2952.5 2403 V2417.58 M2981.5 2403 V2417.58 M3011.5 2403 V2417.58" stroke="#000" stroke-width="3.33"/>
<text class="yl" x="2610.99" y="2419" font-size="44.15" text-anchor="end" textLength="26.51" lengthAdjust="spacingAndGlyphs">0</text>
<text class="yl" x="2610.99" y="2327.82" font-size="44.15" text-anchor="end" textLength="53.02" lengthAdjust="spacingAndGlyphs">25</text>
<text class="yl" x="2610.99" y="2236.63" font-size="44.15" text-anchor="end" textLength="53.02" lengthAdjust="spacingAndGlyphs">50</text>
<text class="yl" x="2610.99" y="2145.45" font-size="44.15" text-anchor="end" textLength="53.02" lengthAdjust="spacingAndGlyphs">75</text>
<text class="yl" x="2610.99" y="2054.26" font-size="44.15" text-anchor="end" textLength="79.53" lengthAdjust="spacingAndGlyphs">100</text>
<text class="yl" x="2610.99" y="1963.08" font-size="44.15" text-anchor="end" textLength="79.53" lengthAdjust="spacingAndGlyphs">125</text>
<text class="yl" x="2610.99" y="1871.89" font-size="44.15" text-anchor="end" textLength="79.53" lengthAdjust="spacingAndGlyphs">150</text>
<text class="xl" x="2655" y="2451" font-size="26.49" text-anchor="middle" textLength="31.81" lengthAdjust="spacingAndGlyphs">42</text>
<text class="xl" x="2684.68" y="2451" font-size="26.49" text-anchor="middle" textLength="31.81" lengthAdjust="spacingAndGlyphs">43</text>
<text class="xl" x="2714.36" y="2451" font-size="26.49" text-anchor="middle" textLength="31.81" lengthAdjust="spacingAndGlyphs">44</text>
<text class="xl" x="2744.04" y="2451" font-size="26.49" text-anchor="middle" textLength="31.81" lengthAdjust="spacingAndGlyphs">45</text>
<text class="xl" x="2773.72" y="2451" font-size="26.49" text-anchor="middle" textLength="31.81" lengthAdjust="spacingAndGlyphs">46</text>
<text class="xl" x="2803.4" y="2451" font-size="26.49" text-anchor="middle" textLength="31.81" lengthAdjust="spacingAndGlyphs">47</text>
<text class="xl" x="2833.09" y="2451" font-size="26.49" text-anchor="middle" textLength="31.81" lengthAdjust="spacingAndGlyphs">48</text>
<text class="xl" x="2862.77" y="2451" font-size="26.49" text-anchor="middle" textLength="31.81" lengthAdjust="spacingAndGlyphs">49</text>
<text class="xl" x="2892.45" y="2451" font-size="26.49" text-anchor="middle" textLength="31.81" lengthAdjust="spacingAndGlyphs">50</text>
<text class="xl" x="2922.13" y="2451" font-size="26.49" text-anchor="middle" textLength="31.81" lengthAdjust="spacingAndGlyphs">51</text>
<text class="xl" x="2951.81" y="2451" font-size="26.49" text-anchor="middle" textLength="31.81" lengthAdjust="spacingAndGlyphs">52</text>
<text class="xl" x="2981.49" y="2451" font-size="26.49" text-anchor="middle" textLength="31.81" lengthAdjust="spacingAndGlyphs">53</text>
<text class="xl" x="3011.17" y="2451" font-size="26.49" text-anchor="middle" textLength="31.81" lengthAdjust="spacingAndGlyphs">54</text>
<text class="tt" x="2825.66" y="1830.89" font-size="44.15" text-anchor="middle" textLength="102.21" lengthAdjust="spacingAndGlyphs">1.3M</text>
<g clip-path="url(#c19)" fill="none" stroke-width="4.17" stroke-linejoin="round" stroke-linecap="butt">
<path d="M3174.41 2318.38 L3204.1 2345.37 L3233.78 2387.32 L3263.46 2394.61 L3293.14 2411.75 L3322.82 2392.06 L3352.5 2367.62 L3382.18 2372.36" stroke="#3C9554"/>
<path d="M3174.41 2280.45 L3204.1 2198.02 L3233.78 2227.56 L3263.46 2227.56 L3293.14 2287.74 L3322.82 2288.84 L3352.5 2303.79 L3382.18 2311.09" stroke="#EFCD48"/>
<path d="M3174.41 2296.13 L3204.1 2246.89 L3233.78 2212.61 L3263.46 2185.62 L3293.14 2132.73 L3322.82 2159.72 L3352.5 2072.55 L3382.18 2019.66" stroke="#FC9B26"/>
<path d="M3174.41 2305.98 L3204.1 2238.5 L3233.78 2194.01 L3263.46 2168.47 L3293.14 2141.48 L3322.82 2125.44 L3352.5 2098.08 L3382.18 2009.08" stroke="#F84256"/>
<path d="M3174.41 2318.38 L3204.1 2357.77 L3233.78 2621.84" stroke="#65A0E0"/>
<path d="M3174.41 2335.52 L3204.1 2335.52 L3233.78 2355.22 L3263.46 2370.17 L3293.14 2387.32 L3322.82 2621.84" stroke="#9E3536"/>
<path d="M3174.41 2320.93 L3204.1 2260.75 L3233.78 2260.75 L3263.46 2221.36 L3293.14 2168.47 L3322.82 2119.23 L3352.5 2088.6 L3382.18 2001.42" stroke="#546854"/>
<path d="M3174.41 2365.07 L3204.1 2381.12 L3233.78 2381.12 L3263.46 2372.36 L3293.14 2392.06 L3322.82 2621.84" stroke="#E38EAF"/>
<path d="M3174.41 2338.08 L3204.1 2330.78 L3233.78 2288.84 L3263.46 2268.05 L3293.14 2254.55 L3322.82 2234.86 L3352.5 2284.1 L3382.18 2339.17" stroke="#ADC4DA"/>
<path d="M3174.41 2362.51 L3204.1 2365.07 L3233.78 2367.62 L3263.46 2367.62 L3293.14 2355.22 L3322.82 2355.22 L3352.5 2365.07 L3382.18 2367.62" stroke="#C8DC7E"/>
<path d="M3174.41 2357.77 L3204.1 2365.07 L3233.78 2355.22 L3263.46 2377.47 L3293.14 2399.72 L3322.82 2621.84" stroke="#A99E26"/>
<path d="M3174.41 2347.92 L3204.1 2285.19 L3233.78 2261.85 L3263.46 2261.85 L3293.14 2274.25 L3322.82 2274.25 L3352.5 2274.25 L3382.18 2296.13" stroke="#588478"/>
<path d="M3174.41 2366.53 L3204.1 2365.07 L3233.78 2377.47 L3263.46 2621.84" stroke="#C97858"/>
<path d="M3174.41 2365.07 L3204.1 2389.87 L3233.78 2621.84" stroke="#A67C7C"/>
<path d="M3174.41 2317.29 L3204.1 2332.97 L3233.78 2323.49 L3263.46 2323.49 L3293.14 2259.29 L3322.82 2245.8 L3352.5 2259.29 L3382.18 2234.86" stroke="#587AA8"/>
<path d="M3174.41 2350.48 L3204.1 2323.49 L3233.78 2285.19 L3263.46 2272.79 L3293.14 2246.89 L3322.82 2219.9 L3352.5 2168.47 L3382.18 2192.91" stroke="#EA5792"/>
<path d="M3174.41 2352.67 L3204.1 2350.48 L3233.78 2336.98 L3263.46 2324.58 L3293.14 2311.09 L3322.82 2285.19 L3352.5 2285.19 L3382.18 2350.48" stroke="#A07356"/>
<path d="M3174.41 2350.48 L3204.1 2350.48 L3233.78 2311.09 L3263.46 2311.09 L3293.14 2298.69 L3322.82 2311.09 L3352.5 2336.98 L3382.18 2388.41" stroke="#982D50"/>
<path d="M3174.41 2365.07 L3204.1 2372.36 L3233.78 2363.97 L3263.46 2363.97 L3293.14 2350.48 L3322.82 2338.08 L3352.5 2362.51 L3382.18 2403" stroke="#9D82AC"/>
<path d="M3174.41 2352.67 L3204.1 2377.47 L3233.78 2377.47 L3263.46 2621.84" stroke="#08828A"/>
<path d="M3174.41 2349.02 L3204.1 2324.58 L3233.78 2324.58 L3263.46 2324.58 L3293.14 2324.58 L3322.82 2324.58 L3352.5 2350.48 L3382.18 2362.51" stroke="#9D52C4"/>
<path d="M3174.41 2349.02 L3204.1 2311.09 L3233.78 2324.58 L3263.46 2298.69 L3293.14 2271.69 L3322.82 2245.8 L3352.5 2285.19 L3382.18 2272.79" stroke="#80869A"/>
<path d="M3174.41 2389.87 L3204.1 2403 L3233.78 2621.84" stroke="#F16576"/>
<path d="M3174.41 2362.51 L3204.1 2350.48 L3233.78 2377.47 L3263.46 2621.84" stroke="#4E51B9"/>
<path d="M3174.41 2362.51 L3204.1 2335.52 L3233.78 2311.09 L3263.46 2298.69 L3293.14 2286.28 L3322.82 2311.09 L3352.5 2298.69 L3382.18 2323.49" stroke="#7EDBC6"/>
<path d="M3159.57 2038 H3530.59" stroke="#000" stroke-width="6.25" stroke-dasharray="23.13 10"/>
<path d="M3159.57 2166 H3530.59" stroke="#000" stroke-width="6.25" stroke-dasharray="6.25 10.31"/>
</g>
<rect x="3160.5" y="1856.5" width="371" height="547" fill="none" stroke="#000" stroke-width="3.33" stroke-linejoin="miter"/>
<path d="M3144.99 2403.5 H3159.57 M3144.99 2312.5 H3159.57 M3144.99 2221.5 H3159.57 M3144.99 2129.5 H3159.57 M3144.99 2038.5 H3159.57 M3144.99 1947.5 H3159.57 M3144.99 1856.5 H3159.57" stroke="#000" stroke-width="3.33"/>
<path d="M3151.24 2385.5 H3159.57 M3151.24 2367.5 H3159.57 M3151.24 2348.5 H3159.57 M3151.24 2330.5 H3159.57 M3151.24 2294.5 H3159.57 M3151.24 2275.5 H3159.57 M3151.24 2257.5 H3159.57 M3151.24 2239.5 H3159.57 M3151.24 2202.5 H3159.57 M3151.24 2184.5 H3159.57 M3151.24 2166.5 H3159.57 M3151.24 2148.5 H3159.57 M3151.24 2111.5 H3159.57 M3151.24 2093.5 H3159.57 M3151.24 2075.5 H3159.57 M3151.24 2057.5 H3159.57 M3151.24 2020.5 H3159.57 M3151.24 2002.5 H3159.57 M3151.24 1984.5 H3159.57 M3151.24 1965.5 H3159.57 M3151.24 1929.5 H3159.57 M3151.24 1911.5 H3159.57 M3151.24 1892.5 H3159.57 M3151.24 1874.5 H3159.57" stroke="#000" stroke-width="2.5"/>
<path d="M3174.5 2403 V2417.58 M3204.5 2403 V2417.58 M3234.5 2403 V2417.58 M3263.5 2403 V2417.58 M3293.5 2403 V2417.58 M3323.5 2403 V2417.58 M3353.5 2403 V2417.58 M3382.5 2403 V2417.58 M3412.5 2403 V2417.58 M3442.5 2403 V2417.58 M3471.5 2403 V2417.58 M3501.5 2403 V2417.58 M3531.5 2403 V2417.58" stroke="#000" stroke-width="3.33"/>
<text class="yl" x="3130.41" y="2419" font-size="44.15" text-anchor="end" textLength="26.51" lengthAdjust="spacingAndGlyphs">0</text>
<text class="yl" x="3130.41" y="2327.82" font-size="44.15" text-anchor="end" textLength="53.02" lengthAdjust="spacingAndGlyphs">25</text>
<text class="yl" x="3130.41" y="2236.63" font-size="44.15" text-anchor="end" textLength="53.02" lengthAdjust="spacingAndGlyphs">50</text>
<text class="yl" x="3130.41" y="2145.45" font-size="44.15" text-anchor="end" textLength="53.02" lengthAdjust="spacingAndGlyphs">75</text>
<text class="yl" x="3130.41" y="2054.26" font-size="44.15" text-anchor="end" textLength="79.53" lengthAdjust="spacingAndGlyphs">100</text>
<text class="yl" x="3130.41" y="1963.08" font-size="44.15" text-anchor="end" textLength="79.53" lengthAdjust="spacingAndGlyphs">125</text>
<text class="yl" x="3130.41" y="1871.89" font-size="44.15" text-anchor="end" textLength="79.53" lengthAdjust="spacingAndGlyphs">150</text>
<text class="xl" x="3174.41" y="2451" font-size="26.49" text-anchor="middle" textLength="31.81" lengthAdjust="spacingAndGlyphs">42</text>
<text class="xl" x="3204.1" y="2451" font-size="26.49" text-anchor="middle" textLength="31.81" lengthAdjust="spacingAndGlyphs">43</text>
<text class="xl" x="3233.78" y="2451" font-size="26.49" text-anchor="middle" textLength="31.81" lengthAdjust="spacingAndGlyphs">44</text>
<text class="xl" x="3263.46" y="2451" font-size="26.49" text-anchor="middle" textLength="31.81" lengthAdjust="spacingAndGlyphs">45</text>
<text class="xl" x="3293.14" y="2451" font-size="26.49" text-anchor="middle" textLength="31.81" lengthAdjust="spacingAndGlyphs">46</text>
<text class="xl" x="3322.82" y="2451" font-size="26.49" text-anchor="middle" textLength="31.81" lengthAdjust="spacingAndGlyphs">47</text>
<text class="xl" x="3352.5" y="2451" font-size="26.49" text-anchor="middle" textLength="31.81" lengthAdjust="spacingAndGlyphs">48</text>
<text class="xl" x="3382.18" y="2451" font-size="26.49" text-anchor="middle" textLength="31.81" lengthAdjust="spacingAndGlyphs">49</text>
<text class="xl" x="3411.86" y="2451" font-size="26.49" text-anchor="middle" textLength="31.81" lengthAdjust="spacingAndGlyphs">50</text>
<text class="xl" x="3441.54" y="2451" font-size="26.49" text-anchor="middle" textLength="31.81" lengthAdjust="spacingAndGlyphs">51</text>
<text class="xl" x="3471.22" y="2451" font-size="26.49" text-anchor="middle" textLength="31.81" lengthAdjust="spacingAndGlyphs">52</text>
<text class="xl" x="3500.9" y="2451" font-size="26.49" text-anchor="middle" textLength="31.81" lengthAdjust="spacingAndGlyphs">53</text>
<text class="xl" x="3530.59" y="2451" font-size="26.49" text-anchor="middle" textLength="31.81" lengthAdjust="spacingAndGlyphs">54</text>
<text class="tt" x="3345.08" y="1830.89" font-size="44.15" text-anchor="middle" textLength="97.43" lengthAdjust="spacingAndGlyphs">1.3N</text>
<g clip-path="url(#c20)" fill="none" stroke-width="4.17" stroke-linejoin="round" stroke-linecap="butt">
<path d="M3693.83 2352.67 L3723.51 2305.98 L3753.19 2339.17 L3782.87 2621.84" stroke="#3C9554"/>
<path d="M3693.83 2295.04 L3723.51 2288.84 L3753.19 2302.33 L3782.87 2332.97 L3812.55 2387.32 L3842.23 2621.84" stroke="#EFCD48"/>
<path d="M3693.83 2360.33 L3723.51 2621.84" stroke="#FC9B26"/>
<path d="M3693.83 2297.59 L3723.51 2228.66 L3753.19 2219.9 L3782.87 2150.97 L3812.55 2125.44 L3842.23 2072.55 L3871.91 2114.13 L3901.6 2114.13 L3931.28 2165.92" stroke="#F84256"/>
<path d="M3693.83 2288.84 L3723.51 2262.94 L3753.19 2192.91 L3782.87 2133.82 L3812.55 2175.77 L3842.23 2259.29 L3871.91 2332.97 L3901.6 2332.97 L3931.28 2383.67" stroke="#65A0E0"/>
<path d="M3693.83 2315.83 L3723.51 2296.13 L3753.19 2259.29 L3782.87 2205.31 L3812.55 2143.67 L3842.23 2087.14 L3871.91 2038.63 L3901.6 2038.63 L3931.28 1952.55" stroke="#9E3536"/>
<path d="M3693.83 2355.22 L3723.51 2362.51 L3753.19 2374.92 L3782.87 2621.84" stroke="#546854"/>
<path d="M3693.83 2329.32 L3723.51 2298.69 L3753.19 2298.69 L3782.87 2287.74 L3812.55 2308.53 L3842.23 2319.48 L3871.91 2308.53 L3901.6 2308.53 L3931.28 2319.48" stroke="#E38EAF"/>
<path d="M3693.83 2355.22 L3723.51 2357.77 L3753.19 2621.84" stroke="#ADC4DA"/>
<path d="M3693.83 2352.67 L3723.51 2344.28 L3753.19 2357.77 L3782.87 2377.47 L3812.55 2621.84" stroke="#C8DC7E"/>
<path d="M3693.83 2355.22 L3723.51 2355.22 L3753.19 2355.22 L3782.87 2378.56 L3812.55 2621.84" stroke="#A99E26"/>
<path d="M3693.83 2350.48 L3723.51 2320.93 L3753.19 2284.1 L3782.87 2237.04 L3812.55 2237.04 L3842.23 2237.04 L3871.91 2249.45 L3901.6 2249.45 L3931.28 2307.44" stroke="#588478"/>
<path d="M3693.83 2355.22 L3723.51 2320.93 L3753.19 2331.88 L3782.87 2320.93 L3812.55 2331.88 L3842.23 2308.53 L3871.91 2342.82 L3901.6 2342.82 L3931.28 2297.59" stroke="#C97858"/>
<path d="M3693.83 2365.07 L3723.51 2374.92 L3753.19 2387.32 L3782.87 2621.84" stroke="#A67C7C"/>
<path d="M3693.83 2350.48 L3723.51 2350.48 L3753.19 2357.77 L3782.87 2347.92 L3812.55 2336.98 L3842.23 2336.98 L3871.91 2324.58 L3901.6 2324.58 L3931.28 2388.41" stroke="#587AA8"/>
<path d="M3693.83 2389.87 L3723.51 2389.87 L3753.19 2362.51 L3782.87 2350.48 L3812.55 2336.98 L3842.23 2298.69 L3871.91 2272.79 L3901.6 2272.79 L3931.28 2272.79" stroke="#EA5792"/>
<path d="M3693.83 2355.22 L3723.51 2340.63 L3753.19 2350.48 L3782.87 2377.47 L3812.55 2621.84" stroke="#A07356"/>
<path d="M3693.83 2350.48 L3723.51 2332.97 L3753.19 2311.09 L3782.87 2311.09 L3812.55 2311.09 L3842.23 2284.1 L3871.91 2206.41 L3901.6 2206.41 L3931.28 2130.18" stroke="#982D50"/>
<path d="M3693.83 2349.02 L3723.51 2308.53 L3753.19 2259.29 L3782.87 2195.46 L3812.55 2129.08 L3842.23 2077.29 L3871.91 2062.7" stroke="#9D82AC"/>
<path d="M3693.83 2362.51 L3723.51 2350.48 L3753.19 2336.98 L3782.87 2324.58 L3812.55 2311.09 L3842.23 2286.28 L3871.91 2219.9 L3901.6 2219.9 L3931.28 2181.97" stroke="#08828A"/>
<path d="M3693.83 2349.02 L3723.51 2308.53 L3753.19 2271.69 L3782.87 2259.29 L3812.55 2233.4 L3842.23 2165.92 L3871.91 2116.68 L3901.6 2116.68 L3931.28 2040.09" stroke="#9D52C4"/>
<path d="M3693.83 2349.02 L3723.51 2338.08 L3753.19 2324.58 L3782.87 2311.09 L3812.55 2285.19 L3842.23 2285.19 L3871.91 2350.48 L3901.6 2350.48 L3931.28 2621.84" stroke="#80869A"/>
<path d="M3693.83 2350.48 L3723.51 2320.93 L3753.19 2271.69 L3782.87 2205.31 L3812.55 2170.66 L3842.23 2129.08 L3871.91 2064.16 L3901.6 2063.43 L3931.28 2025.86" stroke="#F16576"/>
<path d="M3693.83 2374.92 L3723.51 2363.97 L3753.19 2403 L3782.87 2621.84" stroke="#4E51B9"/>
<path d="M3693.83 2377.47 L3723.51 2389.87 L3753.19 2377.47 L3782.87 2363.97 L3812.55 2336.98 L3842.23 2336.98 L3871.91 2363.97 L3901.6 2363.97 L3931.28 2621.84" stroke="#7EDBC6"/>
<path d="M3678.99 2038 H4050" stroke="#000" stroke-width="6.25" stroke-dasharray="23.13 10"/>
<path d="M3678.99 2166 H4050" stroke="#000" stroke-width="6.25" stroke-dasharray="6.25 10.31"/>
</g>
<rect x="3679.5" y="1856.5" width="371" height="547" fill="none" stroke="#000" stroke-width="3.33" stroke-linejoin="miter"/>
<path d="M3664.41 2403.5 H3678.99 M3664.41 2312.5 H3678.99 M3664.41 2221.5 H3678.99 M3664.41 2129.5 H3678.99 M3664.41 2038.5 H3678.99 M3664.41 1947.5 H3678.99 M3664.41 1856.5 H3678.99" stroke="#000" stroke-width="3.33"/>
<path d="M3670.66 2385.5 H3678.99 M3670.66 2367.5 H3678.99 M3670.66 2348.5 H3678.99 M3670.66 2330.5 H3678.99 M3670.66 2294.5 H3678.99 M3670.66 2275.5 H3678.99 M3670.66 2257.5 H3678.99 M3670.66 2239.5 H3678.99 M3670.66 2202.5 H3678.99 M3670.66 2184.5 H3678.99 M3670.66 2166.5 H3678.99 M3670.66 2148.5 H3678.99 M3670.66 2111.5 H3678.99 M3670.66 2093.5 H3678.99 M3670.66 2075.5 H3678.99 M3670.66 2057.5 H3678.99 M3670.66 2020.5 H3678.99 M3670.66 2002.5 H3678.99 M3670.66 1984.5 H3678.99 M3670.66 1965.5 H3678.99 M3670.66 1929.5 H3678.99 M3670.66 1911.5 H3678.99 M3670.66 1892.5 H3678.99 M3670.66 1874.5 H3678.99" stroke="#000" stroke-width="2.5"/>
<path d="M3694.5 2403 V2417.58 M3724.5 2403 V2417.58 M3753.5 2403 V2417.58 M3783.5 2403 V2417.58 M3813.5 2403 V2417.58 M3842.5 2403 V2417.58 M3872.5 2403 V2417.58 M3902.5 2403 V2417.58 M3931.5 2403 V2417.58 M3961.5 2403 V2417.58 M3991.5 2403 V2417.58 M4020.5 2403 V2417.58 M4050.5 2403 V2417.58" stroke="#000" stroke-width="3.33"/>
<text class="yl" x="3649.82" y="2419" font-size="44.15" text-anchor="end" textLength="26.51" lengthAdjust="spacingAndGlyphs">0</text>
<text class="yl" x="3649.82" y="2327.82" font-size="44.15" text-anchor="end" textLength="53.02" lengthAdjust="spacingAndGlyphs">25</text>
<text class="yl" x="3649.82" y="2236.63" font-size="44.15" text-anchor="end" textLength="53.02" lengthAdjust="spacingAndGlyphs">50</text>
<text class="yl" x="3649.82" y="2145.45" font-size="44.15" text-anchor="end" textLength="53.02" lengthAdjust="spacingAndGlyphs">75</text>
<text class="yl" x="3649.82" y="2054.26" font-size="44.15" text-anchor="end" textLength="79.53" lengthAdjust="spacingAndGlyphs">100</text>
<text class="yl" x="3649.82" y="1963.08" font-size="44.15" text-anchor="end" textLength="79.53" lengthAdjust="spacingAndGlyphs">125</text>
<text class="yl" x="3649.82" y="1871.89" font-size="44.15" text-anchor="end" textLength="79.53" lengthAdjust="spacingAndGlyphs">150</text>
<text class="xl" x="3693.83" y="2451" font-size="26.49" text-anchor="middle" textLength="31.81" lengthAdjust="spacingAndGlyphs">42</text>
<text class="xl" x="3723.51" y="2451" font-size="26.49" text-anchor="middle" textLength="31.81" lengthAdjust="spacingAndGlyphs">43</text>
<text class="xl" x="3753.19" y="2451" font-size="26.49" text-anchor="middle" textLength="31.81" lengthAdjust="spacingAndGlyphs">44</text>
<text class="xl" x="3782.87" y="2451" font-size="26.49" text-anchor="middle" textLength="31.81" lengthAdjust="spacingAndGlyphs">45</text>
<text class="xl" x="3812.55" y="2451" font-size="26.49" text-anchor="middle" textLength="31.81" lengthAdjust="spacingAndGlyphs">46</text>
<text class="xl" x="3842.23" y="2451" font-size="26.49" text-anchor="middle" textLength="31.81" lengthAdjust="spacingAndGlyphs">47</text>
<text class="xl" x="3871.91" y="2451" font-size="26.49" text-anchor="middle" textLength="31.81" lengthAdjust="spacingAndGlyphs">48</text>
<text class="xl" x="3901.6" y="2451" font-size="26.49" text-anchor="middle" textLength="31.81" lengthAdjust="spacingAndGlyphs">49</text>
<text class="xl" x="3931.28" y="2451" font-size="26.49" text-anchor="middle" textLength="31.81" lengthAdjust="spacingAndGlyphs">50</text>
<text class="xl" x="3960.96" y="2451" font-size="26.49" text-anchor="middle" textLength="31.81" lengthAdjust="spacingAndGlyphs">51</text>
<text class="xl" x="3990.64" y="2451" font-size="26.49" text-anchor="middle" textLength="31.81" lengthAdjust="spacingAndGlyphs">52</text>
<text class="xl" x="4020.32" y="2451" font-size="26.49" text-anchor="middle" textLength="31.81" lengthAdjust="spacingAndGlyphs">53</text>
<text class="xl" x="4050" y="2451" font-size="26.49" text-anchor="middle" textLength="31.81" lengthAdjust="spacingAndGlyphs">54</text>
<text class="tt" x="3864.49" y="1830.89" font-size="44.15" text-anchor="middle" textLength="99.06" lengthAdjust="spacingAndGlyphs">1.3O</text>
<rect x="4298" y="740.23" width="66.67" height="23.33" fill="#3C9554" stroke="#3C9554" stroke-width="4.17"/>
<text class="lg" x="4391.33" y="763.9" font-size="35.32" textLength="69.5" lengthAdjust="spacingAndGlyphs">POR</text>
<rect x="4298" y="789.9" width="66.67" height="23.33" fill="#EFCD48" stroke="#EFCD48" stroke-width="4.17"/>
<text class="lg" x="4391.33" y="813.57" font-size="35.32" textLength="64.06" lengthAdjust="spacingAndGlyphs">SPA</text>
<rect x="4298" y="839.57" width="66.67" height="23.33" fill="#FC9B26" stroke="#FC9B26" stroke-width="4.17"/>
<text class="lg" x="4391.33" y="863.23" font-size="35.32" textLength="69.17" lengthAdjust="spacingAndGlyphs">NDL</text>
<rect x="4298" y="889.23" width="66.67" height="23.33" fill="#F84256" stroke="#F84256" stroke-width="4.17"/>
<text class="lg" x="4391.33" y="912.9" font-size="35.32" textLength="71.83" lengthAdjust="spacingAndGlyphs">ENG</text>
<rect x="4298" y="938.9" width="66.67" height="23.33" fill="#65A0E0" stroke="#65A0E0" stroke-width="4.17"/>
<text class="lg" x="4391.33" y="962.57" font-size="35.32" textLength="65.14" lengthAdjust="spacingAndGlyphs">FRA</text>
<rect x="4298" y="988.57" width="66.67" height="23.33" fill="#9E3536" stroke="#9E3536" stroke-width="4.17"/>
<text class="lg" x="4391.33" y="1012.23" font-size="35.32" textLength="72.84" lengthAdjust="spacingAndGlyphs">OTO</text>
<rect x="4298" y="1038.23" width="66.67" height="23.33" fill="#546854" stroke="#546854" stroke-width="4.17"/>
<text class="lg" x="4391.33" y="1061.9" font-size="35.32" textLength="68.72" lengthAdjust="spacingAndGlyphs">RUS</text>
<rect x="4298" y="1087.9" width="66.67" height="23.33" fill="#E38EAF" stroke="#E38EAF" stroke-width="4.17"/>
<text class="lg" x="4391.33" y="1111.57" font-size="35.32" textLength="61.95" lengthAdjust="spacingAndGlyphs">PLC</text>
<rect x="4298" y="1137.57" width="66.67" height="23.33" fill="#ADC4DA" stroke="#ADC4DA" stroke-width="4.17"/>
<text class="lg" x="4391.33" y="1161.23" font-size="35.32" textLength="59.16" lengthAdjust="spacingAndGlyphs">INU</text>
<rect x="4298" y="1187.23" width="66.67" height="23.33" fill="#C8DC7E" stroke="#C8DC7E" stroke-width="4.17"/>
<text class="lg" x="4391.33" y="1210.9" font-size="35.32" textLength="63.53" lengthAdjust="spacingAndGlyphs">MIN</text>
<rect x="4298" y="1236.9" width="66.67" height="23.33" fill="#A99E26" stroke="#A99E26" stroke-width="4.17"/>
<text class="lg" x="4391.33" y="1260.57" font-size="35.32" textLength="78.99" lengthAdjust="spacingAndGlyphs">MUG</text>
<rect x="4298" y="1286.57" width="66.67" height="23.33" fill="#588478" stroke="#588478" stroke-width="4.17"/>
<text class="lg" x="4391.33" y="1310.23" font-size="35.32" textLength="63.13" lengthAdjust="spacingAndGlyphs">SAF</text>
<rect x="4298" y="1336.23" width="66.67" height="23.33" fill="#C97858" stroke="#C97858" stroke-width="4.17"/>
<text class="lg" x="4391.33" y="1359.9" font-size="35.32" textLength="70.62" lengthAdjust="spacingAndGlyphs">USH</text>
<rect x="4298" y="1385.9" width="66.67" height="23.33" fill="#A67C7C" stroke="#A67C7C" stroke-width="4.17"/>
<text class="lg" x="4391.33" y="1409.57" font-size="35.32" textLength="66.03" lengthAdjust="spacingAndGlyphs">ABY</text>
<rect x="4298" y="1435.57" width="66.67" height="23.33" fill="#587AA8" stroke="#587AA8" stroke-width="4.17"/>
<text class="lg" x="4391.33" y="1459.23" font-size="35.32" textLength="57.03" lengthAdjust="spacingAndGlyphs">AJU</text>
<rect x="4298" y="1485.23" width="66.67" height="23.33" fill="#EA5792" stroke="#EA5792" stroke-width="4.17"/>
<text class="lg" x="4391.33" y="1508.9" font-size="35.32" textLength="65.97" lengthAdjust="spacingAndGlyphs">ATA</text>
<rect x="4298" y="1534.9" width="66.67" height="23.33" fill="#A07356" stroke="#A07356" stroke-width="4.17"/>
<text class="lg" x="4391.33" y="1558.57" font-size="35.32" textLength="68.36" lengthAdjust="spacingAndGlyphs">AUS</text>
<rect x="4298" y="1584.57" width="66.67" height="23.33" fill="#982D50" stroke="#982D50" stroke-width="4.17"/>
<text class="lg" x="4391.33" y="1608.23" font-size="35.32" textLength="71.92" lengthAdjust="spacingAndGlyphs">AYM</text>
<rect x="4298" y="1634.23" width="66.67" height="23.33" fill="#9D82AC" stroke="#9D82AC" stroke-width="4.17"/>
<text class="lg" x="4391.33" y="1657.9" font-size="35.32" textLength="67.56" lengthAdjust="spacingAndGlyphs">AYU</text>
<rect x="4298" y="1683.9" width="66.67" height="23.33" fill="#08828A" stroke="#08828A" stroke-width="4.17"/>
<text class="lg" x="4391.33" y="1707.57" font-size="35.32" textLength="73.03" lengthAdjust="spacingAndGlyphs">GUA</text>
<rect x="4298" y="1733.57" width="66.67" height="23.33" fill="#9D52C4" stroke="#9D52C4" stroke-width="4.17"/>
<text class="lg" x="4391.33" y="1757.23" font-size="35.32" textLength="73.03" lengthAdjust="spacingAndGlyphs">KON</text>
<rect x="4298" y="1783.23" width="66.67" height="23.33" fill="#80869A" stroke="#80869A" stroke-width="4.17"/>
<text class="lg" x="4391.33" y="1806.9" font-size="35.32" textLength="71.66" lengthAdjust="spacingAndGlyphs">MAP</text>
<rect x="4298" y="1832.9" width="66.67" height="23.33" fill="#F16576" stroke="#F16576" stroke-width="4.17"/>
<text class="lg" x="4391.33" y="1856.57" font-size="35.32" textLength="61" lengthAdjust="spacingAndGlyphs">QIN</text>
<rect x="4298" y="1882.57" width="66.67" height="23.33" fill="#4E51B9" stroke="#4E51B9" stroke-width="4.17"/>
<text class="lg" x="4391.33" y="1906.23" font-size="35.32" textLength="75.18" lengthAdjust="spacingAndGlyphs">SWE</text>
<rect x="4298" y="1932.23" width="66.67" height="23.33" fill="#7EDBC6" stroke="#7EDBC6" stroke-width="4.17"/>
<text class="lg" x="4391.33" y="1955.9" font-size="35.32" textLength="66.62" lengthAdjust="spacingAndGlyphs">TKU</text>
</svg></body></html>
